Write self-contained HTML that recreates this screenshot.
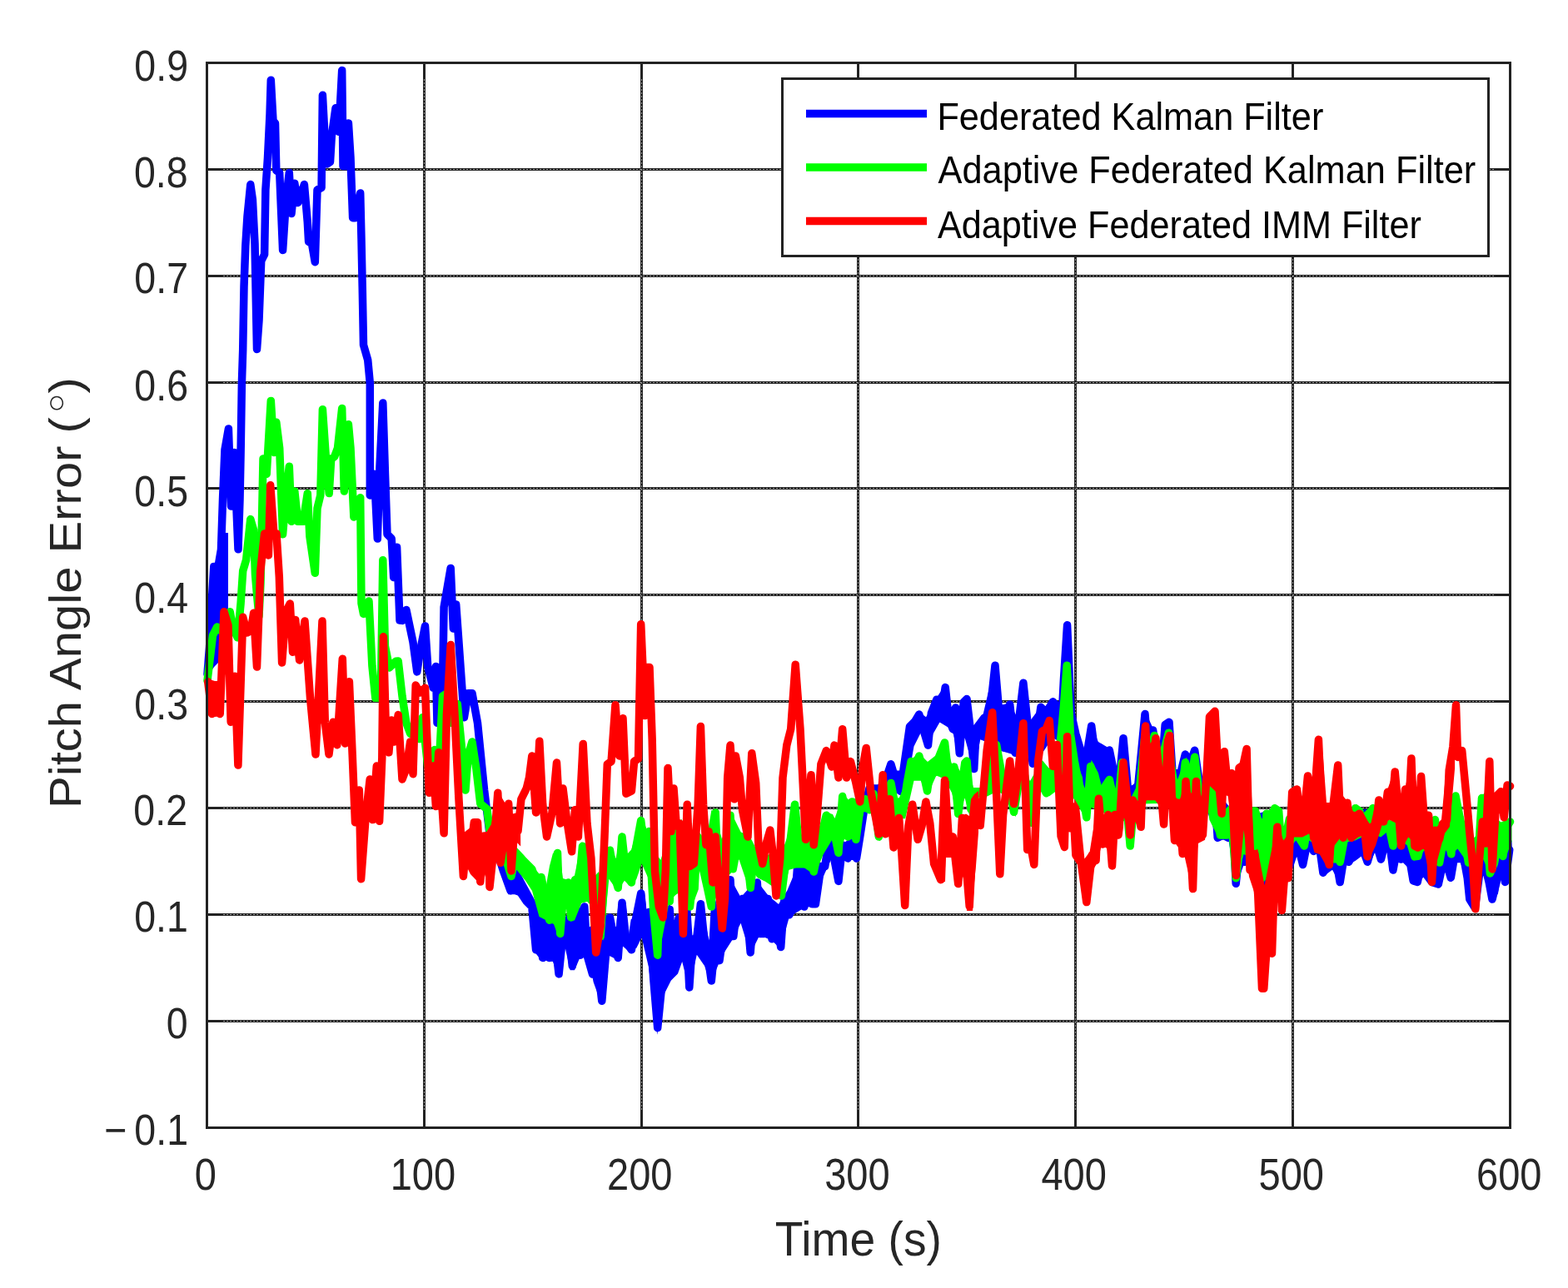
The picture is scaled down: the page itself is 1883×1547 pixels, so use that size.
<!DOCTYPE html>
<html><head><meta charset="utf-8"><style>
html,body{margin:0;padding:0;background:#fff;}
svg{display:block;}
text{font-family:"Liberation Sans",Arial,Helvetica,sans-serif;}
</style></head><body>
<svg width="1883" height="1547" viewBox="0 0 1883 1547">
<rect width="1883" height="1547" fill="#fff"/>
<g stroke="#222" stroke-width="3"><line x1="509.50" y1="75.5" x2="509.50" y2="1354.0"/><line x1="770.50" y1="75.5" x2="770.50" y2="1354.0"/><line x1="1030.50" y1="75.5" x2="1030.50" y2="1354.0"/><line x1="1291.50" y1="75.5" x2="1291.50" y2="1354.0"/><line x1="1552.50" y1="75.5" x2="1552.50" y2="1354.0"/><line x1="248.5" y1="203.50" x2="1813.5" y2="203.50"/><line x1="248.5" y1="331.50" x2="1813.5" y2="331.50"/><line x1="248.5" y1="459.50" x2="1813.5" y2="459.50"/><line x1="248.5" y1="586.50" x2="1813.5" y2="586.50"/><line x1="248.5" y1="714.50" x2="1813.5" y2="714.50"/><line x1="248.5" y1="842.50" x2="1813.5" y2="842.50"/><line x1="248.5" y1="970.50" x2="1813.5" y2="970.50"/><line x1="248.5" y1="1098.50" x2="1813.5" y2="1098.50"/><line x1="248.5" y1="1226.50" x2="1813.5" y2="1226.50"/></g>
<g stroke="#fff" stroke-width="1.1" stroke-dasharray="1.1 2.9"><line x1="509.50" y1="75.5" x2="509.50" y2="1354.0"/><line x1="770.50" y1="75.5" x2="770.50" y2="1354.0"/><line x1="1030.50" y1="75.5" x2="1030.50" y2="1354.0"/><line x1="1291.50" y1="75.5" x2="1291.50" y2="1354.0"/><line x1="1552.50" y1="75.5" x2="1552.50" y2="1354.0"/><line x1="248.5" y1="203.50" x2="1813.5" y2="203.50"/><line x1="248.5" y1="331.50" x2="1813.5" y2="331.50"/><line x1="248.5" y1="459.50" x2="1813.5" y2="459.50"/><line x1="248.5" y1="586.50" x2="1813.5" y2="586.50"/><line x1="248.5" y1="714.50" x2="1813.5" y2="714.50"/><line x1="248.5" y1="842.50" x2="1813.5" y2="842.50"/><line x1="248.5" y1="970.50" x2="1813.5" y2="970.50"/><line x1="248.5" y1="1098.50" x2="1813.5" y2="1098.50"/><line x1="248.5" y1="1226.50" x2="1813.5" y2="1226.50"/></g>
<path d="M248.50,1354.0V1334.5M248.50,75.5V95.0M509.50,1354.0V1334.5M509.50,75.5V95.0M770.50,1354.0V1334.5M770.50,75.5V95.0M1030.50,1354.0V1334.5M1030.50,75.5V95.0M1291.50,1354.0V1334.5M1291.50,75.5V95.0M1552.50,1354.0V1334.5M1552.50,75.5V95.0M1813.50,1354.0V1334.5M1813.50,75.5V95.0M248.5,75.50H268.0M1813.5,75.50H1794.0M248.5,203.50H268.0M1813.5,203.50H1794.0M248.5,331.50H268.0M1813.5,331.50H1794.0M248.5,459.50H268.0M1813.5,459.50H1794.0M248.5,586.50H268.0M1813.5,586.50H1794.0M248.5,714.50H268.0M1813.5,714.50H1794.0M248.5,842.50H268.0M1813.5,842.50H1794.0M248.5,970.50H268.0M1813.5,970.50H1794.0M248.5,1098.50H268.0M1813.5,1098.50H1794.0M248.5,1226.50H268.0M1813.5,1226.50H1794.0M248.5,1354.50H268.0M1813.5,1354.50H1794.0" stroke="#222" stroke-width="3" fill="none"/>
<g stroke-linejoin="round" stroke-linecap="round" stroke-width="9.5">
<polygon fill="#0000ff" stroke="none" points="249,777.5 250,758.3 251,738.4 252,719.4 253,702.5 254,685.6 255,680.5 256,680.5 257,680.5 258,680.5 259,680.5 260,677.6 261,671.7 262,665.9 263,660.0 264,630.0 265,600.0 266,576.0 267,552.0 268,537.2 269,531.5 270,525.8 271,520.1 272,515.9 273,515.9 274,515.9 275,515.9 276,515.9 277,518.0 278,548.0 279,544.7 280,544.7 281,544.7 282,544.7 283,544.7 284,546.1 285,573.0 286,574.3 287,517.7 288,456.9 289,426.2 290,373.5 291,330.8 292,303.5 293,284.1 294,268.0 295,254.9 296,244.8 297,234.7 298,224.6 299,222.1 300,222.1 301,222.1 302,222.1 303,222.1 304,226.6 305,233.6 306,242.0 307,262.3 308,282.6 309,318.1 310,345.2 311,318.7 312,311.8 313,309.8 314,307.9 315,305.9 316,251.9 317,219.1 318,204.2 319,189.3 320,168.6 321,147.9 322,121.7 323,97.8 324,97.8 325,97.8 326,97.8 327,97.8 328,99.8 329,118.0 330,136.2 331,145.8 332,146.9 333,148.0 334,191.7 335,205.3 336,205.9 337,206.6 338,207.3 339,226.5 340,250.4 341,240.1 342,231.5 343,222.9 344,214.3 345,207.8 346,207.8 347,207.8 348,207.8 349,207.8 350,211.0 351,223.2 352,220.8 353,220.8 354,220.8 355,220.8 356,220.8 357,224.5 358,230.5 359,232.7 360,229.9 361,227.0 362,224.2 363,222.0 364,222.0 365,222.0 366,222.0 367,222.0 368,222.8 369,234.4 370,246.0 371,257.6 372,270.5 373,288.4 374,290.8 375,291.4 376,292.1 377,276.2 378,244.1 379,227.8 380,227.3 381,226.8 382,226.3 383,225.8 384,191.3 385,116.2 386,116.2 387,116.2 388,116.2 389,116.2 390,116.2 391,135.1 392,154.0 393,169.9 394,182.8 395,177.2 396,162.0 397,154.8 398,147.7 399,140.5 400,133.4 401,129.8 402,129.8 403,129.8 404,129.8 405,129.8 406,126.2 407,107.3 408,88.4 409,88.4 410,88.4 411,88.4 412,88.4 413,88.4 414,155.4 415,160.1 416,149.5 417,149.5 418,149.5 419,149.5 420,149.5 421,149.5 422,165.4 423,181.3 424,203.2 425,231.1 426,251.2 427,246.6 428,242.1 429,237.5 430,232.9 431,232.9 432,232.9 433,232.9 434,232.9 435,232.9 436,266.2 437,311.3 438,360.6 439,414.3 440,417.8 441,421.3 442,424.7 443,428.2 444,431.7 445,440.9 446,451.5 447,569.3 448,569.3 449,569.3 450,569.3 451,569.3 452,569.3 453,576.1 454,550.0 455,530.0 456,510.0 457,490.0 458,485.0 459,485.0 460,485.0 461,485.0 462,485.0 463,506.3 464,538.1 465,570.0 466,598.7 467,627.4 468,642.2 469,643.2 470,644.2 471,645.2 472,646.2 473,652.5 474,658.1 475,658.1 476,658.1 477,658.1 478,658.1 479,658.1 480,680.4 481,706.3 482,732.1 483,738.8 484,736.2 485,733.6 486,732.9 487,732.9 488,732.9 489,732.9 490,732.9 491,735.4 492,740.2 493,745.0 494,749.7 495,754.5 496,759.3 497,764.1 498,768.9 499,775.0 500,782.4 501,789.0 502,782.3 503,777.0 504,772.0 505,767.0 506,762.0 507,757.0 508,752.0 509,752.0 510,752.0 511,752.0 512,752.0 513,752.0 514,767.1 515,782.2 516,797.4 517,803.6 518,807.5 519,811.5 520,807.7 521,801.6 522,801.6 523,801.6 524,801.6 525,801.6 526,804.6 527,839.2 528,832.7 529,826.2 530,765.6 531,727.0 532,721.2 533,715.4 534,709.6 535,703.8 536,698.0 537,692.2 538,686.5 539,683.5 540,683.5 541,683.5 542,683.5 543,683.5 544,689.2 545,711.9 546,726.7 547,726.7 548,726.7 549,726.7 550,726.7 551,737.2 552,751.2 553,765.2 554,779.2 555,793.2 556,807.2 557,821.2 558,835.2 559,836.9 560,832.7 561,832.7 562,832.7 563,832.7 564,832.7 565,832.7 566,832.7 567,832.7 568,832.7 569,832.7 570,835.4 571,840.9 572,846.4 573,851.9 574,857.3 575,862.8 576,868.3 577,878.3 578,888.2 579,898.2 580,908.2 581,918.1 582,928.1 583,938.0 584,948.0 585,956.3 586,964.4 587,972.5 588,980.6 589,988.7 590,996.8 591,1002.1 592,1004.6 593,1007.2 594,1009.8 595,1012.3 596,1014.9 597,1017.4 598,1020.0 599,1022.6 600,1025.1 601,1027.7 602,1030.3 603,1033.5 604,1036.6 605,1039.8 606,1042.9 607,1046.1 608,1048.9 609,1051.7 610,1054.5 611,1057.2 612,1060.0 613,1062.8 614,1062.6 615,1060.6 616,1058.5 617,1057.0 618,1057.0 619,1057.0 620,1057.0 621,1057.0 622,1057.0 623,1059.5 624,1062.0 625,1064.5 626,1067.0 627,1069.5 628,1072.0 629,1073.9 630,1075.4 631,1076.9 632,1078.4 633,1079.9 634,1081.4 635,1082.8 636,1083.8 637,1084.8 638,1085.8 639,1086.7 640,1087.7 641,1088.7 642,1096.6 643,1107.3 644,1118.1 645,1117.6 646,1111.7 647,1111.7 648,1111.7 649,1111.7 650,1111.7 651,1111.7 652,1123.8 653,1123.0 654,1115.7 655,1115.7 656,1115.7 657,1115.7 658,1115.7 659,1115.7 660,1125.0 661,1120.6 662,1112.5 663,1112.5 664,1112.5 665,1112.5 666,1112.5 667,1112.5 668,1119.8 669,1128.7 670,1137.7 671,1146.1 672,1136.2 673,1126.4 674,1120.9 675,1119.9 676,1118.9 677,1117.9 678,1116.9 679,1115.9 680,1115.2 681,1115.2 682,1115.2 683,1115.2 684,1115.2 685,1115.9 686,1125.1 687,1134.4 688,1138.7 689,1132.0 690,1128.6 691,1128.6 692,1128.6 693,1128.6 694,1128.6 695,1129.6 696,1129.0 697,1116.9 698,1104.8 699,1092.6 700,1089.6 701,1089.6 702,1089.6 703,1089.6 704,1089.6 705,1101.7 706,1119.9 707,1138.1 708,1149.0 709,1152.5 710,1156.0 711,1159.5 712,1156.0 713,1151.4 714,1147.9 715,1147.9 716,1147.9 717,1147.9 718,1147.9 719,1148.1 720,1156.7 721,1165.2 722,1173.8 723,1170.1 724,1158.3 725,1146.4 726,1137.0 727,1128.3 728,1119.5 729,1110.8 730,1102.0 731,1102.0 732,1102.0 733,1102.0 734,1102.0 735,1102.0 736,1107.3 737,1112.6 738,1117.9 739,1123.2 740,1128.5 741,1132.5 742,1118.7 743,1104.9 744,1091.1 745,1084.2 746,1084.2 747,1084.2 748,1084.2 749,1084.2 750,1089.0 751,1098.5 752,1108.1 753,1117.6 754,1127.2 755,1131.9 756,1133.4 757,1132.6 758,1125.2 759,1117.8 760,1110.4 761,1103.7 762,1098.7 763,1093.8 764,1088.8 765,1083.8 766,1078.9 767,1073.9 768,1073.4 769,1073.4 770,1073.4 771,1073.4 772,1073.4 773,1081.0 774,1091.1 775,1101.2 776,1100.3 777,1096.3 778,1096.3 779,1096.3 780,1096.3 781,1096.3 782,1097.0 783,1112.0 784,1126.9 785,1141.9 786,1156.8 787,1171.8 788,1184.6 789,1196.5 790,1206.2 791,1196.1 792,1186.0 793,1180.7 794,1175.5 795,1170.2 796,1164.9 797,1158.8 798,1144.6 799,1130.5 800,1116.3 801,1102.2 802,1093.1 803,1093.1 804,1093.1 805,1093.1 806,1093.1 807,1096.9 808,1112.4 809,1127.5 810,1114.2 811,1110.1 812,1106.1 813,1102.0 814,1102.0 815,1102.0 816,1102.0 817,1102.0 818,1102.0 819,1111.9 820,1116.6 821,1100.4 822,1100.4 823,1100.4 824,1100.4 825,1100.4 826,1100.4 827,1117.5 828,1138.2 829,1131.0 830,1128.0 831,1128.0 832,1128.0 833,1128.0 834,1128.0 835,1120.1 836,1111.3 837,1102.5 838,1093.7 839,1086.8 840,1086.8 841,1086.8 842,1086.8 843,1086.8 844,1086.8 845,1096.7 846,1106.6 847,1116.5 848,1126.4 849,1134.9 850,1137.9 851,1141.0 852,1144.0 853,1151.1 854,1155.6 855,1145.3 856,1135.1 857,1128.3 858,1128.3 859,1128.3 860,1128.3 861,1128.3 862,1129.6 863,1135.0 864,1135.5 865,1128.2 866,1120.9 867,1115.2 868,1110.5 869,1105.8 870,1101.1 871,1096.4 872,1086.1 873,1074.3 874,1062.6 875,1056.7 876,1056.7 877,1056.7 878,1056.7 879,1056.7 880,1065.6 881,1083.5 882,1093.2 883,1088.3 884,1086.8 885,1085.3 886,1083.8 887,1082.4 888,1080.9 889,1079.4 890,1079.4 891,1079.4 892,1079.4 893,1079.4 894,1079.4 895,1081.4 896,1083.3 897,1085.3 898,1087.2 899,1090.1 900,1101.6 901,1113.0 902,1099.6 903,1086.1 904,1076.5 905,1070.6 906,1064.7 907,1060.3 908,1060.3 909,1060.3 910,1060.3 911,1060.3 912,1063.8 913,1083.0 914,1102.2 915,1120.5 916,1111.8 917,1103.0 918,1094.3 919,1085.5 920,1079.9 921,1079.9 922,1079.9 923,1079.9 924,1079.9 925,1082.4 926,1092.5 927,1102.6 928,1105.2 929,1098.7 930,1095.5 931,1095.5 932,1095.5 933,1095.5 934,1095.5 935,1099.2 936,1106.6 937,1112.2 938,1098.1 939,1084.0 940,1083.0 941,1083.0 942,1083.0 943,1083.0 944,1083.0 945,1084.9 946,1087.4 947,1089.9 948,1092.5 949,1090.1 950,1087.6 951,1085.1 952,1082.6 953,1069.4 954,1056.2 955,1043.1 956,1029.9 957,1019.1 958,1019.1 959,1019.1 960,1019.1 961,1019.1 962,1019.1 963,1030.2 964,1041.3 965,1052.4 966,1057.0 967,1045.2 968,1033.4 969,1031.6 970,1031.6 971,1031.6 972,1031.6 973,1031.6 974,1040.1 975,1051.5 976,1063.0 977,1074.4 978,1078.2 979,1071.2 980,1064.2 981,1057.3 982,1050.3 983,1043.4 984,1040.6 985,1040.6 986,1040.6 987,1040.6 988,1040.6 989,1035.3 990,1028.7 991,1022.1 992,1015.6 993,1009.0 994,1008.8 995,1008.8 996,1008.8 997,1008.8 998,1008.8 999,1011.3 1000,1014.7 1001,1018.0 1002,1021.4 1003,1024.9 1004,1030.2 1005,1035.4 1006,1040.6 1007,1034.7 1008,1025.6 1009,1016.5 1010,1014.8 1011,1014.8 1012,1014.8 1013,1014.8 1014,1014.8 1015,1016.7 1016,1019.2 1017,1021.7 1018,1024.2 1019,1024.3 1020,1022.3 1021,1020.2 1022,1018.2 1023,1018.2 1024,1018.2 1025,1018.2 1026,1018.2 1027,1018.2 1028,1018.6 1029,1012.4 1030,1006.2 1031,999.7 1032,993.1 1033,986.5 1034,980.0 1035,973.4 1036,969.1 1037,965.0 1038,961.0 1039,957.0 1040,952.9 1041,948.9 1042,946.9 1043,946.9 1044,946.9 1045,946.9 1046,946.9 1047,946.9 1048,946.9 1049,946.9 1050,946.9 1051,946.9 1052,946.9 1053,946.9 1054,946.9 1055,946.1 1056,944.6 1057,943.1 1058,941.6 1059,940.1 1060,938.6 1061,936.9 1062,933.9 1063,930.9 1064,927.9 1065,925.0 1066,922.0 1067,919.0 1068,918.1 1069,918.1 1070,918.1 1071,918.1 1072,918.1 1073,919.8 1074,923.2 1075,926.6 1076,929.9 1077,933.3 1078,936.0 1079,938.4 1080,940.9 1081,934.6 1082,927.9 1083,921.2 1084,914.3 1085,907.3 1086,900.4 1087,893.4 1088,886.4 1089,879.5 1090,872.5 1091,871.5 1092,870.5 1093,869.5 1094,868.5 1095,867.5 1096,866.5 1097,865.2 1098,863.5 1099,861.8 1100,860.2 1101,858.5 1102,858.1 1103,858.1 1104,858.1 1105,858.1 1106,858.1 1107,860.5 1108,864.1 1109,867.8 1110,871.4 1111,875.0 1112,878.4 1113,881.7 1114,875.3 1115,865.3 1116,856.1 1117,853.6 1118,851.1 1119,848.6 1120,846.0 1121,843.5 1122,841.0 1123,840.3 1124,840.3 1125,840.3 1126,840.3 1127,840.3 1128,843.4 1129,848.0 1130,843.9 1131,837.1 1132,830.3 1133,826.0 1134,826.0 1135,826.0 1136,826.0 1137,826.0 1138,828.3 1139,837.1 1140,846.0 1141,854.8 1142,863.1 1143,865.5 1144,857.7 1145,849.9 1146,849.9 1147,849.9 1148,849.9 1149,849.9 1150,849.9 1151,861.3 1152,872.8 1153,864.7 1154,852.2 1155,843.1 1156,842.1 1157,841.1 1158,840.1 1159,839.6 1160,839.6 1161,839.6 1162,839.6 1163,839.6 1164,843.9 1165,852.5 1166,861.0 1167,869.6 1168,878.2 1169,888.2 1170,874.8 1171,873.5 1172,872.2 1173,870.8 1174,869.5 1175,868.2 1176,866.9 1177,865.5 1178,864.2 1179,862.9 1180,862.0 1181,861.5 1182,861.0 1183,860.5 1184,860.0 1185,859.5 1186,859.0 1187,849.8 1188,840.6 1189,831.4 1190,822.2 1191,813.0 1192,803.8 1193,799.2 1194,799.2 1195,799.2 1196,799.2 1197,799.2 1198,805.1 1199,816.9 1200,828.6 1201,840.4 1202,852.2 1203,861.8 1204,870.6 1205,860.8 1206,854.5 1207,852.5 1208,850.4 1209,848.4 1210,846.4 1211,846.4 1212,846.4 1213,846.4 1214,846.4 1215,846.4 1216,853.2 1217,862.1 1218,871.1 1219,880.0 1220,875.1 1221,866.3 1222,857.5 1223,848.9 1224,840.5 1225,832.0 1226,823.6 1227,821.1 1228,821.1 1229,821.1 1230,821.1 1231,821.1 1232,825.8 1233,835.3 1234,844.7 1235,854.1 1236,863.5 1237,871.8 1238,879.7 1239,887.7 1240,895.7 1241,894.1 1242,887.1 1243,880.1 1244,873.1 1245,866.1 1246,859.1 1247,852.1 1248,849.4 1249,849.4 1250,849.4 1251,849.4 1252,849.4 1253,849.9 1254,850.9 1255,851.9 1256,852.3 1257,850.7 1258,849.1 1259,847.5 1260,845.9 1261,844.3 1262,842.9 1263,842.9 1264,842.9 1265,842.9 1266,842.9 1267,842.9 1268,843.9 1269,844.9 1270,845.9 1271,846.9 1272,847.9 1273,848.9 1274,834.6 1275,815.4 1276,799.6 1277,783.9 1278,768.1 1279,752.3 1280,752.3 1281,752.3 1282,752.3 1283,752.3 1284,752.3 1285,771.7 1286,795.0 1287,818.4 1288,841.7 1289,857.5 1290,862.0 1291,866.4 1292,870.9 1293,875.3 1294,879.8 1295,883.6 1296,886.9 1297,890.2 1298,893.5 1299,896.8 1300,903.0 1301,910.4 1302,912.3 1303,905.0 1304,897.8 1305,891.6 1306,885.5 1307,879.3 1308,873.1 1309,872.3 1310,872.3 1311,872.3 1312,872.3 1313,872.3 1314,878.1 1315,885.9 1316,893.7 1317,901.5 1318,899.4 1319,897.8 1320,897.8 1321,897.8 1322,897.8 1323,897.8 1324,901.2 1325,907.9 1326,914.6 1327,913.5 1328,909.0 1329,904.6 1330,901.2 1331,901.2 1332,901.2 1333,901.2 1334,901.2 1335,902.0 1336,907.0 1337,911.9 1338,916.9 1339,921.9 1340,926.8 1341,931.8 1342,935.2 1343,924.4 1344,913.6 1345,902.9 1346,892.1 1347,886.7 1348,886.7 1349,886.7 1350,886.7 1351,886.7 1352,892.3 1353,903.5 1354,914.7 1355,925.9 1356,937.1 1357,949.8 1358,962.4 1359,955.0 1360,950.3 1361,948.3 1362,946.4 1363,944.4 1364,942.4 1365,935.4 1366,925.0 1367,914.6 1368,904.3 1369,893.9 1370,883.5 1371,873.2 1372,862.8 1373,857.6 1374,857.6 1375,857.6 1376,857.6 1377,857.6 1378,863.6 1379,875.8 1380,887.9 1381,885.9 1382,877.8 1383,877.8 1384,877.8 1385,877.8 1386,877.8 1387,877.8 1388,882.9 1389,889.5 1390,896.1 1391,902.7 1392,909.3 1393,914.7 1394,906.1 1395,892.9 1396,879.7 1397,870.3 1398,869.6 1399,869.0 1400,868.3 1401,867.6 1402,867.3 1403,867.3 1404,867.3 1405,867.3 1406,867.3 1407,874.9 1408,890.0 1409,905.2 1410,920.4 1411,929.2 1412,928.7 1413,928.7 1414,928.7 1415,928.7 1416,925.9 1417,921.8 1418,917.8 1419,913.7 1420,909.7 1421,906.3 1422,906.3 1423,906.3 1424,906.3 1425,906.3 1426,906.3 1427,908.9 1428,911.6 1429,910.1 1430,907.3 1431,904.5 1432,901.8 1433,901.5 1434,901.5 1435,901.5 1436,901.5 1437,901.5 1438,906.7 1439,913.7 1440,920.6 1441,927.5 1442,934.4 1443,938.7 1444,942.8 1445,946.8 1446,950.9 1447,950.6 1448,947.6 1449,944.6 1450,941.6 1451,941.6 1452,941.6 1453,941.6 1454,941.6 1455,941.6 1456,943.6 1457,945.6 1458,947.6 1459,949.5 1460,951.5 1461,953.5 1462,962.6 1463,978.7 1464,994.9 1465,1003.6 1466,1003.1 1467,1003.0 1468,1003.0 1469,1003.0 1470,1003.0 1471,1003.0 1472,1003.4 1473,1003.6 1474,997.0 1475,990.4 1476,983.9 1477,977.3 1478,974.0 1479,974.0 1480,974.0 1481,974.0 1482,974.0 1483,984.4 1484,1005.1 1485,1025.9 1486,1022.7 1487,1022.7 1488,1022.7 1489,1022.7 1490,1022.7 1491,1023.2 1492,1025.2 1493,1027.2 1494,1023.4 1495,1017.5 1496,1011.5 1497,1006.9 1498,1006.9 1499,1006.9 1500,1006.9 1501,1006.9 1502,1006.9 1503,1014.4 1504,1021.8 1505,1027.0 1506,1022.6 1507,1018.1 1508,1013.6 1509,1013.2 1510,1013.2 1511,1013.2 1512,1013.2 1513,1013.2 1514,1020.2 1515,1029.7 1516,1039.1 1517,1048.6 1518,1058.0 1519,1060.3 1520,1062.7 1521,1057.7 1522,1052.4 1523,1047.1 1524,1043.2 1525,1040.2 1526,1037.1 1527,1034.1 1528,1031.1 1529,1028.0 1530,1025.8 1531,1025.8 1532,1025.8 1533,1025.8 1534,1025.8 1535,1026.2 1536,1029.0 1537,1031.8 1538,1034.6 1539,1037.4 1540,1040.2 1541,1043.0 1542,1045.8 1543,1045.7 1544,1045.2 1545,1043.2 1546,1040.2 1547,1037.1 1548,1034.1 1549,1031.1 1550,1028.0 1551,1025.1 1552,1022.4 1553,1019.8 1554,1017.2 1555,1014.5 1556,1012.9 1557,1012.9 1558,1012.9 1559,1012.9 1560,1012.9 1561,1013.9 1562,1018.0 1563,1022.0 1564,1026.1 1565,1024.1 1566,1019.2 1567,1014.2 1568,1009.2 1569,1006.6 1570,1006.6 1571,1006.6 1572,1006.6 1573,1006.6 1574,1007.2 1575,1009.7 1576,1012.2 1577,1014.7 1578,1017.2 1579,1016.5 1580,1015.0 1581,1013.5 1582,1012.7 1583,1012.7 1584,1012.7 1585,1012.7 1586,1012.7 1587,1016.3 1588,1023.6 1589,1030.9 1590,1038.1 1591,1035.8 1592,1035.3 1593,1035.3 1594,1035.3 1595,1035.3 1596,1035.3 1597,1035.8 1598,1033.5 1599,1030.7 1600,1028.0 1601,1026.0 1602,1026.0 1603,1026.0 1604,1026.0 1605,1026.0 1606,1026.2 1607,1032.0 1608,1037.9 1609,1043.8 1610,1039.2 1611,1033.0 1612,1026.8 1613,1025.7 1614,1025.7 1615,1025.7 1616,1025.7 1617,1025.7 1618,1027.2 1619,1029.2 1620,1030.9 1621,1029.4 1622,1027.9 1623,1026.4 1624,1024.6 1625,1022.6 1626,1020.6 1627,1018.7 1628,1016.7 1629,1014.7 1630,1012.7 1631,1012.7 1632,1012.7 1633,1012.7 1634,1012.7 1635,1012.7 1636,1014.7 1637,1016.7 1638,1018.6 1639,1020.6 1640,1022.7 1641,1025.4 1642,1027.3 1643,1023.8 1644,1020.4 1645,1016.9 1646,1013.4 1647,1012.7 1648,1012.7 1649,1012.7 1650,1012.7 1651,1012.7 1652,1013.2 1653,1013.9 1654,1014.6 1655,1015.3 1656,1016.0 1657,1019.3 1658,1022.6 1659,1019.6 1660,1015.5 1661,1012.3 1662,1011.0 1663,1009.6 1664,1008.3 1665,1007.0 1666,1006.3 1667,1006.3 1668,1006.3 1669,1006.3 1670,1006.3 1671,1009.4 1672,1017.5 1673,1025.6 1674,1026.0 1675,1020.8 1676,1019.5 1677,1019.5 1678,1019.5 1679,1019.5 1680,1019.5 1681,1021.1 1682,1023.8 1683,1024.5 1684,1021.8 1685,1019.2 1686,1019.2 1687,1019.2 1688,1019.2 1689,1019.2 1690,1019.2 1691,1022.2 1692,1025.3 1693,1028.3 1694,1031.3 1695,1034.4 1696,1037.4 1697,1042.1 1698,1048.0 1699,1053.9 1700,1058.0 1701,1053.3 1702,1048.6 1703,1043.9 1704,1039.2 1705,1039.0 1706,1039.0 1707,1039.0 1708,1039.0 1709,1039.0 1710,1040.5 1711,1042.5 1712,1044.6 1713,1046.6 1714,1048.6 1715,1050.1 1716,1051.4 1717,1052.7 1718,1054.1 1719,1055.4 1720,1056.7 1721,1058.1 1722,1059.4 1723,1059.7 1724,1060.1 1725,1060.4 1726,1056.5 1727,1052.0 1728,1047.4 1729,1042.8 1730,1038.7 1731,1038.7 1732,1038.7 1733,1038.7 1734,1038.7 1735,1038.7 1736,1038.7 1737,1038.7 1738,1038.7 1739,1038.7 1740,1038.7 1741,1041.7 1742,1041.4 1743,1035.5 1744,1029.6 1745,1025.2 1746,1021.1 1747,1017.0 1748,1013.0 1749,1008.9 1750,1007.9 1751,1007.9 1752,1007.9 1753,1007.9 1754,1007.9 1755,1010.1 1756,1013.6 1757,1017.1 1758,1020.6 1759,1024.1 1760,1028.5 1761,1034.0 1762,1039.5 1763,1045.0 1764,1050.5 1765,1057.3 1766,1067.2 1767,1077.1 1768,1081.2 1769,1082.8 1770,1081.3 1771,1073.6 1772,1065.9 1773,1058.2 1774,1050.5 1775,1042.8 1776,1040.9 1777,1040.4 1778,1039.9 1779,1039.4 1780,1038.9 1781,1038.8 1782,1038.8 1783,1038.8 1784,1038.8 1785,1038.8 1786,1041.1 1787,1045.1 1788,1049.0 1789,1053.0 1790,1057.0 1791,1061.5 1792,1066.8 1793,1065.9 1794,1061.8 1795,1056.8 1796,1050.4 1797,1043.9 1798,1037.4 1799,1031.0 1800,1026.1 1801,1026.1 1802,1026.1 1803,1026.1 1804,1026.1 1805,1027.1 1806,1033.6 1807,1040.0 1808,1037.0 1809,1029.6 1810,1022.1 1811,1022.1 1812,1022.1 1812,1044.5 1811,1051.9 1810,1059.4 1809,1059.4 1808,1059.4 1807,1059.4 1806,1059.4 1805,1059.4 1804,1052.9 1803,1046.5 1802,1043.9 1801,1050.4 1800,1056.8 1799,1061.8 1798,1065.9 1797,1070.0 1796,1074.0 1795,1078.1 1794,1080.1 1793,1080.1 1792,1080.1 1791,1080.1 1790,1080.1 1789,1077.4 1788,1072.1 1787,1066.8 1786,1061.5 1785,1057.0 1784,1053.0 1783,1049.0 1782,1045.1 1781,1041.1 1780,1042.8 1779,1050.5 1778,1058.2 1777,1065.9 1776,1073.6 1775,1081.3 1774,1089.0 1773,1090.4 1772,1090.4 1771,1090.4 1770,1090.4 1769,1090.4 1768,1089.2 1767,1087.6 1766,1086.0 1765,1084.4 1764,1082.8 1763,1081.2 1762,1077.1 1761,1067.2 1760,1057.3 1759,1050.5 1758,1045.0 1757,1039.5 1756,1034.0 1755,1028.5 1754,1024.1 1753,1020.6 1752,1017.1 1751,1021.1 1750,1025.2 1749,1029.6 1748,1035.5 1747,1041.4 1746,1047.2 1745,1053.1 1744,1054.1 1743,1054.1 1742,1054.1 1741,1054.1 1740,1054.1 1739,1051.6 1738,1048.3 1737,1045.0 1736,1041.7 1735,1038.7 1734,1042.8 1733,1047.4 1732,1052.0 1731,1056.5 1730,1061.1 1729,1062.0 1728,1062.0 1727,1062.0 1726,1062.0 1725,1062.0 1724,1061.7 1723,1061.4 1722,1061.1 1721,1060.7 1720,1060.4 1719,1060.1 1718,1059.7 1717,1059.4 1716,1058.1 1715,1056.7 1714,1055.4 1713,1054.1 1712,1052.7 1711,1051.4 1710,1050.1 1709,1048.6 1708,1046.6 1707,1048.6 1706,1053.3 1705,1058.0 1704,1059.3 1703,1059.3 1702,1059.3 1701,1059.3 1700,1059.3 1699,1059.2 1698,1058.9 1697,1058.6 1696,1058.4 1695,1058.1 1694,1053.9 1693,1048.0 1692,1042.1 1691,1037.4 1690,1034.4 1689,1031.3 1688,1028.3 1687,1027.1 1686,1029.7 1685,1031.8 1684,1031.8 1683,1031.8 1682,1031.8 1681,1031.8 1680,1031.8 1679,1029.1 1678,1031.3 1677,1036.6 1676,1041.8 1675,1044.5 1674,1044.5 1673,1044.5 1672,1044.5 1671,1044.5 1670,1041.8 1669,1033.7 1668,1025.6 1667,1017.5 1666,1012.3 1665,1015.5 1664,1019.6 1663,1023.6 1662,1027.7 1661,1031.7 1660,1031.7 1659,1031.7 1658,1031.7 1657,1031.7 1656,1031.7 1655,1029.1 1654,1025.9 1653,1022.6 1652,1019.3 1651,1016.0 1650,1016.9 1649,1020.4 1648,1023.8 1647,1027.3 1646,1030.8 1645,1034.3 1644,1035.1 1643,1035.1 1642,1035.1 1641,1035.1 1640,1035.1 1639,1033.4 1638,1030.7 1637,1028.0 1636,1025.4 1635,1022.7 1634,1020.6 1633,1018.6 1632,1018.7 1631,1020.6 1630,1022.6 1629,1024.6 1628,1026.4 1627,1027.9 1626,1029.4 1625,1030.9 1624,1032.4 1623,1033.9 1622,1035.1 1621,1035.1 1620,1035.1 1619,1035.1 1618,1035.1 1617,1035.1 1616,1033.1 1615,1039.2 1614,1045.4 1613,1051.6 1612,1057.7 1611,1059.3 1610,1059.3 1609,1059.3 1608,1059.3 1607,1059.3 1606,1055.5 1605,1049.6 1604,1043.8 1603,1037.9 1602,1036.2 1601,1038.5 1600,1038.5 1599,1038.5 1598,1038.5 1597,1038.5 1596,1038.5 1595,1038.6 1594,1041.3 1593,1044.0 1592,1046.7 1591,1048.0 1590,1048.0 1589,1048.0 1588,1048.0 1587,1048.0 1586,1045.4 1585,1038.1 1584,1030.9 1583,1023.6 1582,1019.5 1581,1021.0 1580,1022.2 1579,1022.2 1578,1022.2 1577,1022.2 1576,1022.2 1575,1022.2 1574,1019.7 1573,1017.2 1572,1014.7 1571,1019.2 1570,1024.1 1569,1029.1 1568,1034.1 1567,1038.2 1566,1038.2 1565,1038.2 1564,1038.2 1563,1038.2 1562,1038.2 1561,1034.1 1560,1030.1 1559,1026.1 1558,1022.0 1557,1022.4 1556,1025.1 1555,1028.0 1554,1031.1 1553,1034.1 1552,1037.1 1551,1040.2 1550,1043.2 1549,1045.2 1548,1045.7 1547,1046.2 1546,1046.7 1545,1047.2 1544,1047.7 1543,1048.2 1542,1048.2 1541,1048.2 1540,1048.2 1539,1048.2 1538,1048.2 1537,1045.8 1536,1043.0 1535,1040.2 1534,1037.4 1533,1034.6 1532,1034.1 1531,1037.1 1530,1040.2 1529,1043.2 1528,1047.1 1527,1052.4 1526,1057.7 1525,1063.0 1524,1068.3 1523,1070.9 1522,1070.9 1521,1070.9 1520,1070.9 1519,1070.9 1518,1069.7 1517,1067.4 1516,1065.0 1515,1062.7 1514,1060.3 1513,1058.0 1512,1048.6 1511,1039.1 1510,1029.7 1509,1031.5 1508,1036.0 1507,1040.5 1506,1041.6 1505,1041.6 1504,1041.6 1503,1041.6 1502,1041.6 1501,1036.6 1500,1029.2 1499,1023.4 1498,1029.4 1497,1035.3 1496,1035.3 1495,1035.3 1494,1035.3 1493,1035.3 1492,1035.3 1491,1033.3 1490,1031.3 1489,1038.3 1488,1048.3 1487,1058.2 1486,1060.7 1485,1060.7 1484,1060.7 1483,1060.7 1482,1060.7 1481,1046.7 1480,1025.9 1479,1005.1 1478,1003.6 1477,1006.1 1476,1006.1 1475,1006.1 1474,1006.1 1473,1006.1 1472,1005.9 1471,1005.4 1470,1004.9 1469,1004.4 1468,1004.6 1467,1005.1 1466,1005.6 1465,1006.1 1464,1006.2 1463,1006.2 1462,1006.2 1461,1006.2 1460,1006.2 1459,994.9 1458,978.7 1457,962.6 1456,953.5 1455,951.5 1454,949.5 1453,947.6 1452,950.6 1451,953.5 1450,956.5 1449,959.5 1448,961.0 1447,961.0 1446,961.0 1445,961.0 1444,961.0 1443,959.0 1442,954.9 1441,950.9 1440,946.8 1439,942.8 1438,938.7 1437,934.4 1436,927.5 1435,920.6 1434,913.7 1433,912.9 1432,915.7 1431,918.4 1430,918.9 1429,918.9 1428,918.9 1427,918.9 1426,918.9 1425,916.9 1424,914.2 1423,917.8 1422,921.8 1421,925.9 1420,930.0 1419,932.0 1418,932.0 1417,932.0 1416,932.0 1415,932.0 1414,934.6 1413,937.3 1412,940.0 1411,941.3 1410,941.3 1409,941.3 1408,941.3 1407,941.3 1406,935.5 1405,920.4 1404,905.2 1403,890.0 1402,874.9 1401,879.7 1400,892.9 1399,906.1 1398,919.3 1397,932.5 1396,934.8 1395,934.8 1394,934.8 1393,934.8 1392,934.8 1391,930.8 1390,925.4 1389,920.0 1388,914.7 1387,909.3 1386,902.7 1385,896.1 1384,902.0 1383,910.1 1382,915.1 1381,915.1 1380,915.1 1379,915.1 1378,915.1 1377,912.1 1376,900.0 1375,887.9 1374,893.9 1373,904.3 1372,914.6 1371,925.0 1370,935.4 1369,942.4 1368,944.4 1367,946.4 1366,948.3 1365,950.3 1364,955.0 1363,962.4 1362,969.8 1361,977.2 1360,984.6 1359,986.4 1358,986.4 1357,986.4 1356,986.4 1355,986.4 1354,977.2 1353,963.5 1352,949.8 1351,937.1 1350,925.9 1349,914.7 1348,924.4 1347,935.2 1346,945.9 1345,951.3 1344,951.3 1343,951.3 1342,951.3 1341,951.3 1340,949.2 1339,944.9 1338,940.6 1337,936.3 1336,931.8 1335,926.8 1334,921.9 1333,916.9 1332,913.5 1331,918.0 1330,922.4 1329,926.9 1328,929.7 1327,929.7 1326,929.7 1325,929.7 1324,929.7 1323,928.0 1322,921.3 1321,914.6 1320,909.3 1319,912.6 1318,913.4 1317,913.4 1316,913.4 1315,913.4 1314,913.4 1313,909.2 1312,901.5 1311,893.7 1310,891.6 1309,897.8 1308,905.0 1307,912.3 1306,919.5 1305,926.8 1304,932.6 1303,932.6 1302,932.6 1301,932.6 1300,932.6 1299,932.6 1298,925.2 1297,917.8 1296,910.4 1295,903.0 1294,896.8 1293,893.5 1292,890.2 1291,886.9 1290,883.6 1289,879.8 1288,875.3 1287,870.9 1286,866.4 1285,862.0 1284,857.5 1283,841.7 1282,818.4 1281,799.6 1280,815.4 1279,834.6 1278,854.2 1277,873.8 1276,880.6 1275,880.6 1274,880.6 1273,880.6 1272,880.6 1271,875.5 1270,865.4 1269,855.4 1268,848.9 1267,847.9 1266,846.9 1265,845.9 1264,847.5 1263,849.1 1262,850.7 1261,852.3 1260,853.9 1259,855.5 1258,855.6 1257,855.6 1256,855.6 1255,855.6 1254,855.6 1253,854.8 1252,853.8 1251,859.1 1250,866.1 1249,873.1 1248,880.1 1247,887.1 1246,894.1 1245,901.1 1244,908.1 1243,915.1 1242,916.9 1241,916.9 1240,916.9 1239,916.9 1238,916.9 1237,911.6 1236,903.7 1235,895.7 1234,887.7 1233,879.7 1232,871.8 1231,863.5 1230,854.1 1229,844.7 1228,848.9 1227,857.5 1226,866.3 1225,875.1 1224,883.9 1223,892.7 1222,901.6 1221,903.8 1220,903.8 1219,903.8 1218,903.8 1217,903.8 1216,897.9 1215,889.0 1214,880.0 1213,871.1 1212,862.1 1211,854.5 1210,860.8 1209,873.6 1208,886.3 1207,896.9 1206,896.9 1205,896.9 1204,896.9 1203,896.9 1202,896.9 1201,888.2 1200,879.4 1199,870.6 1198,861.8 1197,852.2 1196,840.4 1195,828.6 1194,831.4 1193,840.6 1192,849.8 1191,859.0 1190,859.5 1189,860.0 1188,860.5 1187,861.0 1186,861.5 1185,862.0 1184,862.9 1183,864.2 1182,865.5 1181,866.9 1180,868.2 1179,869.5 1178,870.8 1177,872.2 1176,873.5 1175,874.8 1174,890.0 1173,908.7 1172,922.7 1171,922.7 1170,922.7 1169,922.7 1168,922.7 1167,921.4 1166,910.3 1165,899.3 1164,888.2 1163,878.2 1162,869.6 1161,861.0 1160,852.5 1159,852.2 1158,864.7 1157,877.2 1156,889.8 1155,902.3 1154,904.2 1153,904.2 1152,904.2 1151,904.2 1150,904.2 1149,895.6 1148,884.2 1147,873.4 1146,875.3 1145,875.3 1144,875.3 1143,875.3 1142,875.3 1141,873.8 1140,871.1 1139,868.4 1138,865.8 1137,863.1 1136,854.8 1135,846.0 1134,850.6 1133,857.4 1132,862.5 1131,862.5 1130,862.5 1129,862.5 1128,862.5 1127,861.9 1126,857.3 1125,852.7 1124,848.6 1123,851.1 1122,853.6 1121,856.1 1120,865.3 1119,875.3 1118,885.2 1117,895.1 1116,895.1 1115,895.1 1114,895.1 1113,895.1 1112,895.1 1111,891.8 1110,888.4 1109,885.1 1108,881.7 1107,878.4 1106,875.0 1105,871.4 1104,867.8 1103,864.1 1102,865.2 1101,866.5 1100,867.5 1099,868.5 1098,869.5 1097,870.5 1096,871.5 1095,872.5 1094,879.5 1093,886.4 1092,893.4 1091,900.4 1090,907.3 1089,914.3 1088,921.2 1087,927.9 1086,934.6 1085,941.3 1084,948.0 1083,949.7 1082,949.7 1081,949.7 1080,949.7 1079,949.7 1078,948.3 1077,945.8 1076,943.4 1075,940.9 1074,938.4 1073,936.0 1072,933.3 1071,929.9 1070,926.6 1069,927.9 1068,930.9 1067,933.9 1066,936.9 1065,938.6 1064,940.1 1063,941.6 1062,943.1 1061,944.6 1060,946.1 1059,946.9 1058,946.9 1057,946.9 1056,946.9 1055,946.9 1054,946.9 1053,946.9 1052,946.9 1051,946.9 1050,946.9 1049,946.9 1048,946.9 1047,946.9 1046,948.9 1045,952.9 1044,957.0 1043,961.0 1042,965.0 1041,969.1 1040,973.4 1039,980.0 1038,986.5 1037,993.1 1036,999.7 1035,1006.2 1034,1012.4 1033,1018.6 1032,1024.8 1031,1031.0 1030,1031.0 1029,1031.0 1028,1031.0 1027,1031.0 1026,1031.0 1025,1027.7 1024,1024.3 1023,1026.3 1022,1028.4 1021,1030.4 1020,1030.9 1019,1030.9 1018,1030.9 1017,1030.9 1016,1030.9 1015,1029.2 1014,1026.7 1013,1025.6 1012,1034.7 1011,1043.8 1010,1052.9 1009,1057.6 1008,1057.6 1007,1057.6 1006,1057.6 1005,1057.6 1004,1056.3 1003,1051.1 1002,1045.8 1001,1040.6 1000,1035.4 999,1030.2 998,1024.9 997,1021.4 996,1022.1 995,1028.7 994,1035.3 993,1040.6 992,1040.6 991,1040.6 990,1040.6 989,1040.6 988,1043.4 987,1050.3 986,1057.3 985,1064.2 984,1071.2 983,1078.2 982,1085.1 981,1085.8 980,1085.8 979,1085.8 978,1085.8 977,1085.8 976,1085.8 975,1085.8 974,1085.8 973,1085.8 972,1074.4 971,1063.0 970,1068.9 969,1080.7 968,1088.4 967,1088.4 966,1088.4 965,1088.4 964,1088.4 963,1085.7 962,1074.6 961,1063.5 960,1052.4 959,1056.2 958,1069.4 957,1082.6 956,1085.1 955,1087.6 954,1090.1 953,1092.6 952,1095.1 951,1097.6 950,1098.8 949,1098.8 948,1098.8 947,1098.8 946,1098.8 945,1097.5 944,1095.0 943,1098.1 942,1112.2 941,1126.2 940,1136.8 939,1136.8 938,1136.8 937,1136.8 936,1136.8 935,1136.0 934,1128.7 933,1121.3 932,1113.9 931,1118.1 930,1124.6 929,1127.8 928,1127.8 927,1127.8 926,1127.8 925,1127.8 924,1122.8 923,1112.7 922,1103.0 921,1111.8 920,1120.5 919,1121.4 918,1121.4 917,1121.4 916,1121.4 915,1121.4 914,1121.4 913,1121.4 912,1121.4 911,1121.4 910,1121.4 909,1102.2 908,1086.1 907,1099.6 906,1113.0 905,1126.5 904,1140.0 903,1143.3 902,1143.3 901,1143.3 900,1143.3 899,1143.3 898,1136.0 897,1124.5 896,1113.1 895,1101.6 894,1090.1 893,1087.2 892,1085.3 891,1083.8 890,1085.3 889,1086.8 888,1088.3 887,1093.2 886,1101.7 885,1110.2 884,1118.7 883,1123.7 882,1123.7 881,1123.7 880,1123.7 879,1123.7 878,1119.2 877,1101.4 876,1096.4 875,1101.1 874,1105.8 873,1110.5 872,1115.2 871,1120.9 870,1128.2 869,1135.5 868,1142.8 867,1150.1 866,1153.7 865,1153.7 864,1153.7 863,1153.7 862,1153.7 861,1151.0 860,1145.7 859,1155.6 858,1165.8 857,1176.0 856,1177.6 855,1177.6 854,1177.6 853,1177.6 852,1177.6 851,1172.3 850,1165.2 849,1158.2 848,1151.1 847,1144.0 846,1141.0 845,1137.9 844,1134.9 843,1126.4 842,1116.5 841,1111.3 840,1120.1 839,1128.0 838,1128.0 837,1128.0 836,1128.0 835,1128.0 834,1131.0 833,1145.8 832,1160.7 831,1175.6 830,1185.0 829,1185.0 828,1185.0 827,1185.0 826,1185.0 825,1179.8 824,1159.0 823,1148.9 822,1149.0 821,1149.0 820,1149.0 819,1149.0 818,1149.0 817,1141.6 816,1131.7 815,1121.8 814,1127.5 813,1143.1 812,1158.8 811,1166.6 810,1166.6 809,1166.6 808,1166.6 807,1166.6 806,1158.9 805,1143.4 804,1130.5 803,1144.6 802,1158.8 801,1164.9 800,1170.2 799,1175.5 798,1180.7 797,1186.0 796,1196.1 795,1206.2 794,1216.3 793,1226.4 792,1234.0 791,1234.0 790,1234.0 789,1234.0 788,1234.0 787,1232.1 786,1220.2 785,1208.4 784,1196.5 783,1184.6 782,1171.8 781,1156.8 780,1141.9 779,1126.9 778,1116.1 777,1121.4 776,1121.4 775,1121.4 774,1121.4 773,1121.4 772,1121.4 771,1111.3 770,1101.2 769,1091.1 768,1093.8 767,1098.7 766,1103.7 765,1110.4 764,1117.8 763,1125.2 762,1132.6 761,1140.1 760,1140.6 759,1140.6 758,1140.6 757,1140.6 756,1140.6 755,1139.4 754,1137.9 753,1136.4 752,1134.9 751,1133.4 750,1131.9 749,1127.2 748,1117.6 747,1118.7 746,1132.5 745,1146.4 744,1149.8 743,1149.8 742,1149.8 741,1149.8 740,1149.8 739,1147.2 738,1142.5 737,1137.8 736,1133.2 735,1128.5 734,1123.2 733,1119.5 732,1128.3 731,1137.0 730,1146.4 729,1158.3 728,1170.1 727,1182.0 726,1193.9 725,1201.8 724,1201.8 723,1201.8 722,1201.8 721,1201.8 720,1199.6 719,1191.0 718,1182.4 717,1173.8 716,1165.2 715,1165.3 714,1170.0 713,1170.0 712,1170.0 711,1170.0 710,1170.0 709,1170.0 708,1166.5 707,1163.0 706,1159.5 705,1156.0 704,1152.5 703,1149.0 702,1138.1 701,1129.0 700,1141.1 699,1147.2 698,1147.2 697,1147.2 696,1147.2 695,1147.2 694,1145.2 693,1141.3 692,1145.4 691,1152.2 690,1158.9 689,1159.7 688,1159.7 687,1159.7 686,1159.7 685,1159.7 684,1152.8 683,1143.6 682,1134.4 681,1125.1 680,1119.9 679,1120.9 678,1126.4 677,1136.2 676,1146.1 675,1156.0 674,1165.9 673,1169.0 672,1169.0 671,1169.0 670,1169.0 669,1169.0 668,1164.5 667,1155.6 666,1146.6 665,1137.7 664,1136.8 663,1144.8 662,1149.9 661,1149.9 660,1149.9 659,1149.9 658,1149.9 657,1147.2 656,1137.5 655,1144.7 654,1150.1 653,1150.1 652,1150.1 651,1150.1 650,1150.1 649,1148.1 648,1135.9 647,1135.5 646,1139.9 645,1139.9 644,1139.9 643,1139.9 642,1139.9 641,1139.7 640,1128.9 639,1118.1 638,1107.3 637,1096.6 636,1088.7 635,1087.7 634,1086.7 633,1085.8 632,1084.8 631,1083.8 630,1082.8 629,1081.4 628,1079.9 627,1078.4 626,1076.9 625,1075.4 624,1073.9 623,1072.0 622,1069.5 621,1067.0 620,1064.5 619,1062.6 618,1064.6 617,1066.7 616,1068.7 615,1069.7 614,1069.7 613,1069.7 612,1069.7 611,1069.7 610,1068.3 609,1065.5 608,1062.8 607,1060.0 606,1057.2 605,1054.5 604,1051.7 603,1048.9 602,1046.1 601,1042.9 600,1039.8 599,1036.6 598,1033.5 597,1030.3 596,1027.7 595,1025.1 594,1022.6 593,1020.0 592,1017.4 591,1014.9 590,1012.3 589,1009.8 588,1007.2 587,1004.6 586,1002.1 585,996.8 584,988.7 583,980.6 582,972.5 581,964.4 580,956.3 579,948.0 578,938.0 577,928.1 576,918.1 575,908.2 574,898.2 573,888.2 572,878.3 571,868.3 570,862.8 569,857.3 568,851.9 567,846.4 566,840.9 565,835.4 564,836.9 563,843.0 562,849.1 561,855.1 560,861.2 559,861.2 558,861.2 557,861.2 556,861.2 555,861.2 554,849.2 553,835.2 552,821.2 551,807.2 550,793.2 549,779.2 548,765.2 547,754.2 546,754.2 545,754.2 544,754.2 543,754.2 542,754.2 541,734.7 540,711.9 539,709.6 538,715.4 537,721.2 536,727.0 535,765.6 534,826.2 533,832.7 532,839.2 531,845.6 530,852.1 529,858.6 528,865.1 527,868.3 526,868.3 525,868.3 524,868.3 523,868.3 522,847.1 521,825.8 520,825.8 519,825.8 518,825.8 517,823.4 516,819.5 515,815.5 514,811.5 513,807.5 512,803.6 511,797.4 510,782.2 509,772.0 508,777.0 507,782.3 506,789.0 505,795.6 504,802.3 503,806.5 502,806.5 501,806.5 500,806.5 499,806.5 498,804.7 497,797.3 496,789.8 495,782.4 494,775.0 493,768.9 492,764.1 491,759.3 490,754.5 489,749.7 488,745.0 487,741.5 486,744.1 485,745.4 484,745.4 483,745.4 482,745.4 481,745.4 480,745.3 479,745.2 478,745.1 477,732.1 476,706.3 475,692.9 474,692.9 473,692.9 472,692.9 471,692.9 470,689.7 469,671.1 468,652.5 467,646.2 466,645.2 465,644.2 464,643.2 463,642.2 462,627.4 461,598.7 460,570.0 459,550.0 458,576.1 457,608.3 456,640.6 455,646.0 454,646.0 453,646.0 452,646.0 451,646.0 450,630.6 449,610.2 448,589.7 447,594.0 446,594.0 445,594.0 444,594.0 443,594.0 442,594.0 441,451.5 440,440.9 439,431.7 438,428.2 437,424.7 436,421.3 435,417.8 434,414.3 433,360.6 432,311.3 431,266.2 430,255.8 429,260.3 428,261.7 427,261.7 426,261.7 425,261.7 424,261.7 423,261.7 422,261.7 421,258.9 420,231.1 419,203.2 418,187.4 417,199.6 416,199.6 415,199.6 414,199.6 413,199.6 412,199.6 411,199.6 410,199.6 409,157.9 408,157.9 407,157.9 406,157.9 405,157.9 404,156.0 403,148.5 402,154.8 401,162.0 400,177.2 399,194.5 398,195.1 397,195.8 396,196.4 395,196.9 394,196.9 393,196.9 392,196.9 391,196.9 390,195.7 389,191.3 388,225.8 387,226.3 386,226.8 385,227.3 384,227.8 383,244.1 382,276.2 381,308.3 380,314.4 379,314.4 378,314.4 377,314.4 376,314.4 375,310.1 374,304.3 373,298.5 372,292.7 371,292.1 370,291.4 369,290.8 368,288.4 367,270.5 366,257.6 365,246.0 364,234.4 363,235.6 362,238.5 361,241.3 360,243.5 359,243.5 358,243.5 357,243.5 356,243.5 355,242.4 354,242.2 353,251.7 352,256.5 351,256.5 350,256.5 349,256.5 348,256.5 347,247.4 346,240.1 345,255.1 344,270.8 343,286.4 342,298.2 341,298.2 340,298.2 339,298.2 338,298.2 337,298.1 336,274.2 335,250.4 334,226.5 333,207.3 332,206.6 331,205.9 330,205.3 329,191.7 328,148.0 327,146.9 326,147.9 325,168.6 324,189.3 323,204.2 322,219.1 321,251.9 320,305.9 319,307.9 318,309.8 317,311.8 316,318.7 315,345.2 314,371.7 313,391.9 312,405.7 311,419.5 310,419.5 309,419.5 308,419.5 307,419.5 306,419.5 305,368.8 304,318.1 303,282.6 302,262.3 301,244.8 300,254.9 299,268.0 298,284.1 297,303.5 296,330.8 295,373.5 294,426.2 293,456.9 292,517.7 291,574.3 290,615.0 289,644.9 288,659.8 287,659.8 286,659.8 285,659.8 284,659.8 283,647.8 282,623.9 281,600.0 280,608.0 279,608.0 278,608.0 277,608.0 276,608.0 275,608.0 274,578.0 273,548.0 272,552.0 271,576.0 270,600.0 269,630.0 268,660.0 267,665.9 266,671.7 265,677.6 264,680.5 263,680.5 262,680.5 261,680.5 260,680.5 259,685.6 258,702.5 257,719.4 256,738.4 255,758.3 254,777.5 253,790.4 252,803.3 251,809.8 250,809.8 249,809.8"/><polygon fill="#0000ff" stroke="none" points="600.0,1015.0 602.0,1024.7 620.0,1040.0 639.0,1075.0 647.0,1090.0 660.0,1095.0 670.0,1105.0 686.0,1097.0 690.0,1097.1 692.7,1093.3 699.9,1086.1 705.3,1088.0 706.3,1115.0 712.0,1110.0 720.0,1105.0 728.8,1098.8 733.3,1099.7 737.0,1113.2 740.0,1113.0 742.4,1086.1 746.9,1081.1 751.4,1084.3 755.0,1122.2 757.7,1104.2 762.2,1102.4 764.9,1078.9 769.5,1069.9 774.0,1072.0 776.7,1097.0 779.4,1092.4 784.0,1095.0 795.0,1095.0 804.7,1086.1 807.4,1118.6 811.0,1100.6 815.0,1100.6 820.0,1095.0 825.4,1091.5 829.5,1093.0 831.8,1129.5 835.4,1104.2 838.1,1084.3 843.5,1083.4 848.0,1113.2 851.6,1129.5 853.4,1095.1 858.8,1079.8 860.7,1086.0 877.2,1055.0 889.6,1077.8 908.2,1057.1 922.7,1075.7 935.0,1086.0 945.4,1069.5 955.8,1044.7 968.2,1044.7 984.7,1048.8 997.1,1006.5 1000.0,1015.0 1000.0,1028.2 986.8,1057.1 978.5,1088.1 966.1,1090.2 955.8,1096.4 947.5,1102.6 937.2,1139.8 926.8,1129.5 912.3,1123.3 901.0,1146.0 889.6,1108.8 880.3,1127.4 871.0,1141.9 862.7,1158.4 853.4,1181.1 846.0,1160.0 836.8,1146.7 827.5,1188.0 819.2,1155.0 814.0,1169.5 805.8,1177.7 797.5,1194.3 789.2,1242.8 778.9,1161.2 770.6,1126.0 764.4,1138.4 756.2,1143.6 747.9,1136.4 741.7,1152.9 729.3,1146.7 722.0,1205.6 712.7,1179.8 706.5,1148.8 696.2,1150.8 690.0,1165.3 684.7,1165.3 676.4,1128.0 670.2,1173.5 664.0,1155.0 649.6,1152.9 641.3,1142.5 639.2,1090.9 631.0,1086.7 624.8,1076.4 618.0,1074.3 610.3,1074.3 602.0,1051.6 600.0,1045.0"/><polygon fill="#0000ff" stroke="none" points="1000.0,1015.0 1010.0,1015.0 1030.0,1000.0 1037.5,968.8 1052.0,944.0 1064.4,944.0 1069.6,915.1 1076.8,925.4 1085.1,925.4 1093.4,869.6 1103.7,855.1 1112.0,861.3 1117.1,853.1 1124.4,838.6 1134.7,823.1 1140.9,848.9 1148.3,848.9 1154.5,867.5 1160.7,838.6 1169.0,873.7 1179.3,863.4 1194.8,797.2 1202.0,846.8 1212.4,844.8 1222.7,863.4 1228.9,817.9 1237.2,865.4 1249.6,848.9 1257.8,855.1 1265.1,839.6 1272.3,848.9 1282.6,752.0 1288.8,863.4 1297.1,890.2 1300.0,894.0 1300.0,933.6 1295.0,931.6 1284.7,884.0 1274.4,892.3 1264.0,886.1 1251.6,904.7 1241.3,921.2 1226.8,884.0 1218.6,906.8 1204.1,902.6 1187.5,892.3 1177.2,888.2 1170.0,927.4 1158.6,886.0 1150.3,908.8 1145.0,882.0 1138.8,873.7 1128.5,867.5 1120.2,882.0 1114.0,897.5 1105.8,880.0 1097.5,896.5 1089.2,944.0 1084.0,956.4 1068.6,948.2 1052.0,964.7 1040.0,970.0 1033.4,1016.4 1027.2,1033.0 1019.0,1033.0 1012.7,1026.7 1007.6,1059.8 1002.4,1030.8 1000.0,1028.2"/><polygon fill="#0000ff" stroke="none" points="1300.0,894.0 1302.4,918.0 1309.6,869.3 1318.9,891.0 1331.3,898.2 1339.6,928.2 1348.9,884.8 1356.2,944.7 1364.4,940.6 1374.8,853.7 1385.1,875.5 1393.4,924.0 1402.7,864.1 1409.9,926.1 1418.2,928.2 1424.4,904.4 1430.6,919.9 1435.7,901.3 1443.0,946.8 1450.0,948.8 1450.0,975.0 1430.0,970.0 1414.0,975.0 1400.0,965.0 1380.0,960.0 1366.5,975.0 1358.2,981.0 1339.6,975.0 1331.3,965.0 1320.0,960.0 1302.4,960.0 1300.0,950.0"/><polygon fill="#0000ff" stroke="none" points="1450.0,948.8 1456.5,945.0 1477.2,970.0 1508.2,978.0 1531.0,971.0 1541.3,1005.0 1564.0,1008.0 1593.0,1003.0 1600.0,1003.0 1600.0,1044.7 1588.8,1052.9 1582.6,1026.0 1572.3,1021.9 1565.1,1042.6 1555.8,1026.0 1551.6,1042.6 1541.3,1044.7 1531.0,1050.9 1521.7,1075.7 1512.3,1055.0 1502.0,1034.3 1493.7,1038.4 1484.4,1064.3 1475.1,1007.4 1462.7,1009.5 1450.0,975.0"/><polygon fill="#0000ff" stroke="none" points="1600.0,1003.0 1620.0,990.0 1629.3,972.0 1647.9,972.0 1668.6,990.0 1691.3,984.0 1714.0,994.0 1724.4,988.0 1734.7,1003.0 1747.1,1000.0 1758.3,1010.0 1772.2,1012.0 1784.0,1000.0 1794.0,1015.0 1810.8,1000.0 1815.5,1010.0 1815.9,1021.1 1812.5,1056.3 1807.5,1062.2 1802.5,1048.0 1799.0,1073.2 1791.5,1083.2 1785.6,1041.2 1778.9,1049.6 1770.5,1093.3 1763.8,1081.5 1758.8,1047.9 1753.7,1036.2 1748.7,1036.2 1742.0,1057.2 1734.7,1046.7 1728.5,1063.3 1719.0,1046.7 1709.9,1053.0 1701.6,1062.2 1691.3,1042.6 1681.0,1032.2 1672.7,1049.8 1664.4,1019.8 1659.2,1035.3 1652.0,1021.9 1643.7,1039.5 1635.5,1028.1 1627.2,1034.3 1616.9,1038.4 1609.6,1062.2 1600.0,1044.7"/><polygon fill="#0000ff" stroke="none" points="249.0,805.0 252.0,760.0 254.9,678.8 258.0,677.0 266.0,677.0 270.0,640.0 274.0,640.0 274.0,760.0 268.0,790.0 258.0,800.0 249.0,812.0"/>
<polyline fill="none" stroke="#0000ff" points="249.0,809.8 251.6,776.2 254.2,724.5 256.8,680.5 262.0,680.5 265.5,660.0 267.5,600.0 270.0,540.0 274.4,515.0 277.5,608.0 279.5,560.0 281.4,543.4 283.5,600.0 286.0,659.8 288.0,600.0 289.1,543.4 290.4,460.0 291.7,420.0 293.0,344.5 294.8,295.3 297.0,260.0 300.8,221.6 303.4,240.0 306.0,292.7 308.5,419.5 311.0,385.0 313.7,313.4 317.6,305.7 318.9,228.0 321.5,189.3 324.0,137.6 325.3,96.2 328.0,145.3 330.5,148.0 331.8,204.8 335.7,207.4 339.6,300.5 343.4,241.0 347.3,207.4 350.0,256.5 353.8,220.3 357.7,243.6 365.4,221.6 369.3,266.9 370.6,290.2 374.5,292.7 378.3,314.7 381.0,228.0 386.1,225.5 387.4,114.3 390.0,163.4 392.6,197.0 396.5,194.5 398.3,163.4 403.0,129.8 406.8,158.3 410.7,84.6 412.0,199.6 414.6,199.6 418.4,147.9 421.0,189.3 423.6,261.7 426.2,261.7 432.7,232.0 434.0,287.6 435.2,344.5 436.5,414.3 441.7,432.4 444.3,460.0 444.3,595.0 449.5,569.3 453.3,647.0 456.0,560.0 459.8,484.0 462.5,570.0 465.0,641.7 470.2,646.9 472.7,693.4 476.6,657.2 480.0,745.0 483.0,745.4 487.9,732.5 496.0,771.3 500.8,806.9 504.7,781.0 510.5,752.0 513.7,800.4 520.2,826.2 523.4,800.4 525.0,868.3 531.5,826.2 533.1,729.3 541.2,682.4 544.4,755.1 547.7,726.0 557.4,861.8 562.2,832.7 567.0,832.7 573.5,868.3 581.6,949.0 588.0,1000.8 599.4,1030.0 604.8,1047.0 613.0,1069.7 619.4,1056.7 625.9,1073.0 632.3,1082.6 638.8,1089.0 643.6,1140.8 648.5,1111.7 651.7,1150.5 656.6,1115.0 659.8,1150.5 664.6,1111.7 671.1,1169.9 676.0,1121.4 682.4,1115.0 687.3,1160.2 692.1,1128.0 697.0,1147.2 701.8,1089.0 705.0,1147.2 711.5,1170.0 716.4,1147.2 722.8,1202.2 727.7,1144.0 732.5,1102.0 737.4,1128.0 742.2,1150.5 747.0,1084.2 751.9,1131.0 758.4,1140.8 763.2,1105.2 769.7,1072.9 774.5,1121.4 779.4,1095.5 784.8,1176.3 789.7,1234.5 794.5,1186.0 799.4,1160.2 804.2,1092.3 809.0,1166.6 812.3,1115.0 815.5,1102.0 820.4,1150.5 823.6,1098.8 827.8,1186.0 831.7,1128.0 836.6,1128.0 841.4,1085.8 846.3,1134.3 849.5,1144.0 854.3,1178.0 859.2,1128.0 864.0,1153.7 868.9,1118.0 873.7,1095.5 877.0,1056.7 880.8,1124.6 885.0,1089.0 891.5,1079.4 896.4,1089.0 901.2,1144.0 906.0,1079.4 909.3,1060.0 912.5,1121.4 917.4,1121.4 922.2,1079.4 927.0,1127.8 932.0,1095.5 937.7,1137.5 941.6,1082.6 948.0,1098.8 954.5,1082.6 959.4,1018.0 965.8,1089.0 970.7,1031.0 975.5,1085.8 979.4,1085.8 985.9,1040.6 990.7,1040.6 995.6,1008.3 1000.4,1024.4 1006.9,1058.4 1011.7,1014.7 1018.2,1031.0 1024.6,1018.0 1028.5,1031.0 1032.7,1005.0 1037.6,972.7 1044.0,946.9 1052.1,946.9 1057.0,946.9 1063.4,937.2 1069.9,917.8 1074.7,934.0 1081.2,950.0 1086.0,917.8 1092.5,872.5 1099.0,866.0 1103.8,858.0 1108.7,875.7 1114.5,895.1 1118.4,856.4 1124.8,840.2 1129.7,862.8 1135.2,825.6 1139.4,862.8 1144.2,875.7 1147.5,849.9 1152.3,904.8 1157.2,843.4 1161.0,839.6 1165.9,881.6 1169.7,923.6 1172.3,875.1 1182.0,862.2 1188.5,859.0 1195.0,799.2 1199.8,855.7 1204.6,897.8 1207.9,855.7 1212.7,846.0 1219.2,904.2 1224.7,855.7 1228.9,820.2 1233.7,865.4 1240.2,917.2 1249.9,849.3 1256.4,855.7 1264.4,842.8 1270.9,849.3 1274.1,881.6 1277.4,817.0 1281.6,750.7 1286.1,855.7 1291.9,881.6 1296.8,897.8 1301.6,933.3 1306.5,897.8 1310.7,871.9 1316.1,913.9 1321.0,897.8 1325.8,930.0 1332.3,901.0 1338.8,933.3 1343.0,951.3 1349.0,886.7 1353.9,941.6 1357.2,986.8 1362.0,951.3 1366.9,941.6 1375.0,857.6 1379.8,915.7 1384.6,877.0 1389.5,909.3 1394.3,935.1 1399.2,870.5 1404.0,867.3 1408.9,941.6 1413.7,928.7 1417.0,932.0 1423.4,906.0 1428.3,919.0 1434.7,901.2 1439.6,935.1 1446.0,961.0 1452.5,941.6 1459.0,954.5 1462.2,1006.2 1468.7,1003.0 1475.1,1006.2 1480.0,974.0 1484.2,1061.2 1488.1,1022.4 1494.5,1035.3 1499.4,1006.2 1504.2,1041.8 1510.7,1012.7 1515.5,1058.0 1521.0,1070.9 1525.9,1045.0 1532.3,1025.6 1540.4,1048.3 1546.9,1045.0 1553.3,1025.6 1558.2,1012.7 1564.6,1038.6 1571.1,1006.2 1577.6,1022.4 1584.0,1012.7 1588.9,1048.3 1593.7,1035.3 1598.6,1038.6 1603.4,1025.6 1609.2,1059.6 1614.7,1025.6 1619.6,1035.3 1626.0,1025.6 1632.5,1012.7 1637.4,1022.4 1642.2,1035.3 1648.7,1012.7 1653.5,1016.0 1658.4,1032.1 1663.2,1012.7 1668.1,1006.2 1672.9,1045.0 1677.8,1019.2 1682.6,1032.1 1687.5,1019.2 1693.9,1038.6 1697.2,1058.0 1702.2,1059.4 1706.6,1038.7 1711.7,1049.0 1719.5,1059.4 1727.3,1062.0 1732.4,1038.7 1737.6,1038.7 1742.3,1054.3 1746.7,1028.4 1751.8,1007.7 1757.0,1025.8 1762.2,1054.3 1764.8,1080.1 1771.3,1090.5 1777.7,1041.3 1782.9,1038.7 1788.1,1059.4 1792.0,1080.1 1797.1,1059.4 1802.3,1025.8 1807.5,1059.4 1812.7,1020.6"/>
<polygon fill="#00ff00" stroke="none" points="249,796.6 250,788.3 251,779.9 252,771.6 253,763.2 254,761.2 255,759.3 256,757.3 257,755.4 258,753.4 259,753.0 260,753.0 261,753.0 262,753.0 263,753.0 264,753.8 265,754.1 266,751.5 267,748.9 268,746.3 269,744.0 270,742.1 271,740.1 272,738.1 273,736.2 274,735.1 275,735.1 276,735.1 277,735.1 278,735.1 279,736.4 280,741.7 281,747.0 282,752.3 283,756.0 284,752.8 285,741.9 286,731.0 287,718.5 288,703.6 289,688.7 290,683.0 291,679.7 292,676.4 293,673.0 294,664.2 295,654.8 296,645.3 297,635.9 298,626.4 299,624.1 300,624.1 301,624.1 302,624.1 303,624.1 304,626.0 305,629.4 306,632.8 307,636.3 308,661.9 309,690.0 310,702.0 311,675.2 312,625.5 313,575.8 314,551.0 315,551.0 316,551.0 317,551.0 318,551.0 319,546.9 320,529.7 321,512.4 322,495.2 323,482.3 324,482.3 325,482.3 326,482.3 327,482.3 328,484.6 329,500.5 330,507.9 331,507.9 332,507.9 333,507.9 334,507.9 335,512.8 336,520.8 337,528.7 338,536.7 339,559.5 340,586.0 341,594.1 342,585.2 343,576.3 344,567.3 345,560.6 346,560.6 347,560.6 348,560.6 349,560.6 350,565.1 351,589.5 352,590.5 353,590.5 354,590.5 355,590.5 356,590.5 357,596.5 358,605.8 359,615.1 360,624.3 361,626.2 362,623.6 363,617.2 364,610.7 365,604.2 366,597.8 367,592.9 368,592.9 369,592.9 370,592.9 371,592.9 372,596.6 373,616.5 374,636.3 375,648.4 376,655.3 377,653.8 378,625.1 379,608.6 380,604.5 381,600.4 382,596.2 383,567.2 384,527.5 385,493.2 386,493.2 387,493.2 388,493.2 389,493.2 390,493.2 391,507.7 392,522.3 393,536.9 394,550.9 395,554.5 396,550.7 397,550.0 398,549.3 399,548.7 400,546.2 401,543.6 402,540.9 403,538.3 404,529.1 405,519.9 406,510.7 407,501.5 408,492.2 409,492.2 410,492.2 411,492.2 412,492.2 413,492.2 414,521.0 415,524.0 416,510.9 417,510.9 418,510.9 419,510.9 420,510.9 421,510.9 422,521.9 423,532.8 424,548.9 425,570.1 426,591.3 427,607.3 428,604.3 429,601.3 430,598.3 431,598.3 432,598.3 433,598.3 434,598.3 435,598.3 436,675.7 437,727.1 438,727.9 439,725.5 440,723.1 441,721.9 442,721.9 443,721.9 444,721.9 445,721.9 446,731.8 447,751.7 448,771.6 449,791.5 450,805.5 451,815.4 452,825.3 453,835.2 454,838.2 455,825.0 456,758.8 457,692.6 458,676.0 459,676.0 460,676.0 461,676.0 462,676.0 463,700.5 464,740.2 465,776.5 466,781.5 467,786.5 468,791.5 469,796.5 470,797.1 471,796.1 472,795.1 473,794.3 474,794.2 475,794.1 476,794.0 477,794.0 478,794.0 479,794.0 480,794.0 481,796.6 482,805.4 483,814.1 484,822.9 485,831.6 486,839.3 487,845.9 488,852.5 489,859.1 490,865.7 491,869.9 492,872.6 493,875.3 494,878.0 495,880.7 496,881.6 497,882.0 498,882.4 499,882.9 500,883.3 501,883.8 502,883.7 503,875.9 504,868.1 505,862.2 506,862.2 507,862.2 508,862.2 509,862.2 510,863.6 511,872.7 512,881.8 513,890.9 514,900.0 515,909.1 516,908.5 517,906.1 518,903.7 519,901.3 520,900.7 521,900.7 522,900.7 523,900.7 524,900.7 525,904.8 526,894.6 527,875.0 528,855.5 529,836.0 530,835.4 531,834.8 532,834.2 533,833.6 534,833.1 535,833.1 536,833.1 537,833.1 538,833.1 539,833.6 540,839.1 541,844.6 542,850.1 543,855.6 544,855.4 545,851.9 546,848.4 547,845.8 548,845.8 549,845.8 550,845.8 551,845.8 552,847.6 553,857.7 554,867.8 555,877.9 556,888.1 557,898.2 558,908.3 559,916.2 560,906.0 561,902.6 562,899.3 563,895.9 564,892.6 565,890.9 566,890.9 567,890.9 568,890.9 569,890.9 570,894.2 571,900.8 572,907.4 573,914.0 574,920.6 575,928.3 576,936.9 577,945.5 578,954.1 579,962.6 580,965.8 581,966.6 582,967.4 583,968.2 584,969.0 585,969.8 586,970.6 587,971.5 588,977.2 589,985.2 590,993.1 591,1001.0 592,1005.5 593,1004.5 594,1004.0 595,1004.0 596,1004.0 597,1004.0 598,1004.0 599,1005.2 600,1007.5 601,1009.8 602,1012.1 603,1014.4 604,1016.7 605,1019.0 606,1021.3 607,1023.6 608,1025.9 609,1028.8 610,1032.0 611,1035.1 612,1038.3 613,1041.4 614,1039.5 615,1034.3 616,1029.1 617,1024.5 618,1024.5 619,1024.5 620,1024.5 621,1024.5 622,1024.5 623,1025.5 624,1026.5 625,1027.5 626,1028.6 627,1029.6 628,1030.6 629,1031.6 630,1032.6 631,1033.6 632,1034.6 633,1035.6 634,1036.6 635,1037.6 636,1038.6 637,1039.6 638,1040.6 639,1041.5 640,1042.5 641,1043.5 642,1045.9 643,1049.0 644,1052.0 645,1055.0 646,1056.5 647,1054.5 648,1053.5 649,1053.5 650,1053.5 651,1053.5 652,1053.5 653,1056.1 654,1061.3 655,1066.4 656,1071.6 657,1076.8 658,1082.1 659,1087.5 660,1081.6 661,1072.8 662,1064.1 663,1056.1 664,1048.2 665,1040.2 666,1032.3 667,1024.4 668,1024.4 669,1024.4 670,1024.4 671,1024.4 672,1024.4 673,1054.7 674,1076.3 675,1064.4 676,1062.6 677,1061.9 678,1061.3 679,1060.6 680,1060.1 681,1060.1 682,1060.1 683,1060.1 684,1060.1 685,1061.3 686,1074.4 687,1065.9 688,1056.7 689,1056.7 690,1056.7 691,1056.7 692,1056.7 693,1056.7 694,1048.9 695,1038.1 696,1027.2 697,1016.3 698,1016.3 699,1016.3 700,1016.3 701,1016.3 702,1016.3 703,1027.2 704,1038.0 705,1048.9 706,1059.7 707,1070.6 708,1076.5 709,1077.5 710,1077.3 711,1072.0 712,1066.7 713,1061.5 714,1057.5 715,1057.5 716,1057.5 717,1057.5 718,1057.5 719,1058.1 720,1072.3 721,1086.4 722,1073.5 723,1058.0 724,1048.1 725,1043.6 726,1039.1 727,1034.6 728,1030.2 729,1025.7 730,1021.2 731,1021.2 732,1021.2 733,1021.2 734,1021.2 735,1021.2 736,1027.1 737,1033.1 738,1039.0 739,1045.0 740,1050.6 741,1049.8 742,1037.0 743,1024.2 744,1011.4 745,1005.0 746,1005.0 747,1005.0 748,1005.0 749,1005.0 750,1009.6 751,1018.9 752,1028.1 753,1037.4 754,1046.6 755,1051.2 756,1052.7 757,1051.1 758,1043.0 759,1034.9 760,1026.9 761,1019.6 762,1014.1 763,1008.6 764,1003.1 765,997.6 766,992.2 767,986.7 768,986.0 769,986.0 770,986.0 771,986.0 772,986.0 773,992.1 774,1000.1 775,1008.2 776,1003.3 777,999.4 778,999.4 779,999.4 780,999.4 781,999.4 782,1000.4 783,1018.3 784,1036.3 785,1054.2 786,1072.2 787,1090.1 788,1102.9 789,1087.3 790,1054.0 791,1037.4 792,1037.4 793,1037.4 794,1037.4 795,1037.4 796,1039.1 797,1042.4 798,1045.8 799,1049.1 800,1052.5 801,1056.7 802,1061.2 803,1047.0 804,1019.5 805,992.1 806,992.1 807,992.1 808,992.1 809,992.1 810,992.1 811,1016.3 812,1040.6 813,1063.2 814,1058.2 815,1053.3 816,1048.3 817,1043.4 818,1038.4 819,1033.5 820,1031.0 821,1031.0 822,1031.0 823,1031.0 824,1031.0 825,1035.5 826,1044.4 827,1053.3 828,1062.2 829,1062.8 830,1054.0 831,1045.9 832,1040.7 833,1035.4 834,1030.2 835,1024.9 836,1021.4 837,1021.4 838,1021.4 839,1021.4 840,1021.4 841,1022.2 842,1025.6 843,1029.0 844,1032.3 845,1035.7 846,1039.6 847,1044.1 848,1048.6 849,1053.0 850,1057.5 851,1061.9 852,1066.4 853,1061.3 854,1038.3 855,1015.2 856,992.1 857,977.2 858,977.2 859,977.2 860,977.2 861,977.2 862,983.0 863,1006.2 864,1020.5 865,1015.1 866,1015.1 867,1015.1 868,1015.1 869,1015.1 870,1015.4 871,1015.5 872,1005.1 873,994.7 874,984.4 875,979.2 876,979.2 877,979.2 878,979.2 879,979.2 880,989.3 881,1009.5 882,1020.7 883,1017.0 884,1015.0 885,1013.0 886,1011.0 887,1009.0 888,1007.0 889,1005.0 890,1005.0 891,1005.0 892,1005.0 893,1005.0 894,1005.0 895,1008.3 896,1011.6 897,1014.9 898,1018.2 899,1022.1 900,1031.6 901,1041.0 902,1037.5 903,1028.8 904,1024.4 905,1024.4 906,1024.4 907,1024.4 908,1024.4 909,1026.4 910,1030.4 911,1034.4 912,1038.3 913,1042.3 914,1046.3 915,1050.3 916,1050.8 917,1051.2 918,1046.5 919,1041.8 920,1037.1 921,1032.4 922,1031.2 923,1031.2 924,1031.2 925,1031.2 926,1031.2 927,1033.4 928,1036.9 929,1040.3 930,1043.8 931,1047.3 932,1050.7 933,1054.1 934,1056.8 935,1059.6 936,1062.4 937,1065.2 938,1059.1 939,1051.1 940,1043.0 941,1036.2 942,1032.1 943,1028.1 944,1024.1 945,1020.0 946,1014.0 947,1006.0 948,998.1 949,990.1 950,982.1 951,974.2 952,966.2 953,966.2 954,966.2 955,966.2 956,966.2 957,966.2 958,976.1 959,986.0 960,995.9 961,1005.8 962,1015.1 963,1018.6 964,1022.1 965,1025.7 966,1019.5 967,1012.9 968,1006.3 969,1005.3 970,1005.3 971,1005.3 972,1005.3 973,1005.3 974,1010.2 975,1016.6 976,1023.1 977,1029.6 978,1031.1 979,1026.2 980,1021.4 981,1016.6 982,1011.8 983,1006.9 984,1002.6 985,998.6 986,994.5 987,990.5 988,986.5 989,982.4 990,979.4 991,979.4 992,979.4 993,979.4 994,979.4 995,979.4 996,980.4 997,981.4 998,982.4 999,983.3 1000,984.3 1001,985.3 1002,989.0 1003,993.7 1004,998.5 1005,1003.3 1006,1001.8 1007,987.7 1008,973.6 1009,959.4 1010,957.0 1011,957.0 1012,957.0 1013,957.0 1014,957.0 1015,962.6 1016,970.0 1017,977.4 1018,984.9 1019,976.1 1020,967.4 1021,963.0 1022,963.0 1023,963.0 1024,963.0 1025,963.0 1026,967.6 1027,976.9 1028,986.1 1029,981.6 1030,974.2 1031,971.1 1032,969.1 1033,967.1 1034,965.2 1035,963.2 1036,961.2 1037,959.9 1038,959.9 1039,959.9 1040,959.9 1041,959.9 1042,960.6 1043,963.3 1044,962.8 1045,958.8 1046,954.9 1047,953.9 1048,953.9 1049,953.9 1050,953.9 1051,953.9 1052,958.1 1053,966.2 1054,974.3 1055,982.4 1056,990.5 1057,988.4 1058,983.8 1059,977.7 1060,971.7 1061,965.7 1062,959.6 1063,954.9 1064,951.6 1065,948.3 1066,945.0 1067,941.7 1068,940.9 1069,940.9 1070,940.9 1071,940.9 1072,940.9 1073,943.6 1074,949.0 1075,954.4 1076,959.7 1077,963.1 1078,963.1 1079,963.1 1080,963.1 1081,963.1 1082,963.1 1083,964.8 1084,958.9 1085,952.3 1086,945.7 1087,939.3 1088,933.9 1089,928.5 1090,923.1 1091,917.7 1092,914.7 1093,914.7 1094,914.7 1095,914.7 1096,914.7 1097,915.0 1098,916.4 1099,914.2 1100,911.5 1101,908.8 1102,908.1 1103,908.1 1104,908.1 1105,908.1 1106,908.1 1107,910.8 1108,914.8 1109,918.7 1110,922.7 1111,926.7 1112,931.2 1113,935.9 1114,930.3 1115,923.7 1116,918.0 1117,918.0 1118,918.0 1119,918.0 1120,918.0 1121,918.0 1122,920.0 1123,918.2 1124,914.1 1125,910.0 1126,906.8 1127,904.3 1128,901.8 1129,899.3 1130,896.9 1131,894.4 1132,891.9 1133,891.9 1134,891.9 1135,891.9 1136,891.9 1137,891.9 1138,900.5 1139,909.1 1140,917.7 1141,925.7 1142,923.6 1143,921.6 1144,921.1 1145,921.1 1146,921.1 1147,921.1 1148,921.1 1149,929.1 1150,940.6 1151,952.2 1152,948.2 1153,940.4 1154,933.0 1155,925.7 1156,918.3 1157,915.4 1158,914.5 1159,914.0 1160,914.0 1161,914.0 1162,914.0 1163,914.0 1164,919.9 1165,931.8 1166,943.6 1167,955.4 1168,958.1 1169,955.1 1170,952.7 1171,952.7 1172,952.7 1173,952.7 1174,952.7 1175,952.7 1176,952.7 1177,952.7 1178,952.7 1179,952.7 1180,952.0 1181,950.5 1182,949.0 1183,947.5 1184,946.0 1185,944.5 1186,943.0 1187,929.9 1188,916.8 1189,903.6 1190,899.9 1191,898.6 1192,897.3 1193,896.0 1194,894.6 1195,894.6 1196,894.6 1197,894.6 1198,894.6 1199,894.6 1200,899.5 1201,905.0 1202,910.6 1203,916.1 1204,921.7 1205,927.2 1206,930.0 1207,930.0 1208,930.0 1209,930.0 1210,930.0 1211,930.0 1212,930.0 1213,935.6 1214,941.2 1215,946.8 1216,952.4 1217,958.0 1218,957.7 1219,951.7 1220,945.5 1221,939.0 1222,932.4 1223,925.8 1224,919.3 1225,914.3 1226,914.3 1227,914.3 1228,914.3 1229,914.3 1230,915.1 1231,920.4 1232,925.8 1233,931.2 1234,936.6 1235,942.8 1236,950.2 1237,957.7 1238,965.2 1239,960.9 1240,951.5 1241,943.0 1242,943.0 1243,943.0 1244,943.0 1245,943.0 1246,943.0 1247,943.0 1248,943.0 1249,943.0 1250,943.0 1251,943.0 1252,943.0 1253,943.0 1254,943.0 1255,945.0 1256,941.4 1257,936.0 1258,930.7 1259,926.9 1260,926.9 1261,926.9 1262,926.9 1263,926.9 1264,926.9 1265,926.9 1266,922.6 1267,917.2 1268,911.8 1269,906.4 1270,901.0 1271,890.5 1272,879.9 1273,869.3 1274,858.8 1275,848.0 1276,834.8 1277,821.6 1278,808.4 1279,800.2 1280,800.2 1281,800.2 1282,800.2 1283,800.2 1284,805.1 1285,824.7 1286,844.3 1287,863.9 1288,882.3 1289,888.9 1290,895.5 1291,902.1 1292,908.7 1293,915.1 1294,920.4 1295,925.8 1296,931.2 1297,936.6 1298,940.9 1299,943.5 1300,946.1 1301,948.8 1302,951.4 1303,955.7 1304,960.5 1305,948.0 1306,935.4 1307,922.9 1308,920.6 1309,920.6 1310,920.6 1311,920.6 1312,920.6 1313,923.6 1314,927.7 1315,931.7 1316,935.8 1317,939.8 1318,943.8 1319,947.7 1320,951.7 1321,955.5 1322,951.5 1323,947.4 1324,945.2 1325,943.7 1326,942.2 1327,940.7 1328,939.2 1329,937.7 1330,936.6 1331,936.6 1332,936.6 1333,936.6 1334,936.6 1335,937.4 1336,941.9 1337,946.3 1338,950.8 1339,955.3 1340,959.8 1341,955.1 1342,945.2 1343,935.4 1344,925.5 1345,915.7 1346,915.7 1347,915.7 1348,915.7 1349,915.7 1350,915.7 1351,925.1 1352,934.6 1353,944.0 1354,953.4 1355,963.2 1356,974.5 1357,985.7 1358,978.2 1359,966.7 1360,960.0 1361,958.0 1362,956.0 1363,954.0 1364,952.0 1365,950.0 1366,948.0 1367,938.1 1368,928.1 1369,918.2 1370,908.2 1371,898.3 1372,888.4 1373,883.4 1374,883.4 1375,883.4 1376,883.4 1377,883.4 1378,884.9 1379,887.9 1380,891.0 1381,894.0 1382,890.5 1383,886.6 1384,883.6 1385,883.6 1386,883.6 1387,883.6 1388,883.6 1389,884.7 1390,891.3 1391,897.8 1392,904.4 1393,911.0 1394,907.9 1395,903.3 1396,899.3 1397,895.4 1398,891.5 1399,887.6 1400,883.7 1401,880.8 1402,880.8 1403,880.8 1404,880.8 1405,880.8 1406,881.5 1407,895.1 1408,908.6 1409,922.1 1410,935.6 1411,942.1 1412,941.8 1413,941.8 1414,941.8 1415,941.8 1416,941.8 1417,944.2 1418,941.1 1419,932.4 1420,923.6 1421,916.4 1422,916.4 1423,916.4 1424,916.4 1425,916.4 1426,916.4 1427,922.9 1428,929.5 1429,928.7 1430,922.6 1431,916.6 1432,910.5 1433,909.7 1434,909.7 1435,909.7 1436,909.7 1437,909.7 1438,915.7 1439,923.6 1440,931.6 1441,939.5 1442,947.5 1443,955.4 1444,961.6 1445,963.6 1446,965.6 1447,966.0 1448,961.5 1449,957.1 1450,952.6 1451,948.2 1452,943.7 1453,939.3 1454,938.8 1455,938.8 1456,938.8 1457,938.8 1458,938.8 1459,944.2 1460,951.5 1461,958.7 1462,966.0 1463,973.3 1464,979.4 1465,985.5 1466,991.5 1467,997.6 1468,1003.0 1469,1003.0 1470,1003.0 1471,1003.0 1472,997.1 1473,991.2 1474,985.2 1475,979.3 1476,974.9 1477,974.9 1478,974.9 1479,974.9 1480,974.9 1481,975.4 1482,989.3 1483,1003.2 1484,1017.1 1485,1029.5 1486,1021.9 1487,1014.2 1488,1011.6 1489,1010.3 1490,1008.9 1491,1007.6 1492,1006.2 1493,1001.2 1494,996.3 1495,991.3 1496,986.4 1497,981.4 1498,976.5 1499,974.0 1500,974.0 1501,974.0 1502,974.0 1503,974.0 1504,974.0 1505,974.0 1506,974.0 1507,974.0 1508,974.0 1509,974.0 1510,974.0 1511,977.3 1512,980.7 1513,984.0 1514,987.3 1515,994.0 1516,1012.4 1517,998.3 1518,984.2 1519,977.2 1520,977.2 1521,977.2 1522,977.2 1523,977.2 1524,980.2 1525,986.1 1526,987.0 1527,979.6 1528,972.2 1529,970.7 1530,970.7 1531,970.7 1532,970.7 1533,970.7 1534,971.2 1535,971.9 1536,972.5 1537,973.2 1538,973.8 1539,986.0 1540,999.5 1541,1007.2 1542,1002.1 1543,997.4 1544,992.8 1545,988.2 1546,983.6 1547,983.6 1548,983.6 1549,983.6 1550,983.6 1551,983.6 1552,984.6 1553,985.6 1554,986.6 1555,987.6 1556,988.6 1557,989.6 1558,992.0 1559,995.3 1560,998.6 1561,1001.9 1562,1005.2 1563,1007.3 1564,1008.8 1565,1008.7 1566,1002.7 1567,996.6 1568,990.5 1569,987.3 1570,987.3 1571,987.3 1572,987.3 1573,987.3 1574,987.9 1575,990.2 1576,992.6 1577,995.0 1578,997.4 1579,999.8 1580,1002.1 1581,1004.5 1582,1006.2 1583,1006.2 1584,1006.2 1585,1005.9 1586,1004.6 1587,1003.3 1588,1001.9 1589,1000.6 1590,999.5 1591,998.9 1592,998.2 1593,997.5 1594,996.8 1595,996.5 1596,996.5 1597,996.5 1598,996.5 1599,996.5 1600,997.8 1601,1000.3 1602,1002.8 1603,1005.4 1604,1007.9 1605,1010.4 1606,1013.1 1607,1017.0 1608,1020.9 1609,1023.1 1610,1017.8 1611,1012.6 1612,1007.3 1613,1003.8 1614,1000.9 1615,997.9 1616,994.9 1617,991.9 1618,989.0 1619,986.2 1620,983.7 1621,981.2 1622,978.7 1623,976.2 1624,973.7 1625,971.2 1626,970.7 1627,970.7 1628,970.7 1629,970.7 1630,970.7 1631,971.2 1632,971.9 1633,972.6 1634,973.2 1635,973.9 1636,977.9 1637,981.8 1638,985.8 1639,989.7 1640,993.6 1641,996.3 1642,993.6 1643,988.2 1644,982.7 1645,977.3 1646,971.8 1647,970.9 1648,970.9 1649,970.9 1650,970.9 1651,970.9 1652,973.4 1653,976.8 1654,980.1 1655,983.5 1656,986.9 1657,988.2 1658,989.5 1659,989.2 1660,987.8 1661,987.0 1662,987.0 1663,987.0 1664,987.0 1665,987.0 1666,987.3 1667,988.6 1668,989.9 1669,991.2 1670,992.5 1671,995.2 1672,999.9 1673,997.1 1674,989.8 1675,982.6 1676,980.8 1677,980.8 1678,980.8 1679,980.8 1680,980.8 1681,984.2 1682,989.5 1683,994.9 1684,993.3 1685,990.0 1686,990.0 1687,990.0 1688,990.0 1689,990.0 1690,990.0 1691,993.5 1692,997.1 1693,1000.6 1694,1004.2 1695,1007.7 1696,1011.3 1697,1014.7 1698,1018.0 1699,1021.3 1700,1024.6 1701,1025.2 1702,1021.2 1703,1017.2 1704,1013.3 1705,1009.3 1706,1005.3 1707,1002.5 1708,1002.5 1709,1002.5 1710,1002.5 1711,1002.5 1712,1002.7 1713,1003.6 1714,1004.4 1715,1002.0 1716,999.0 1717,996.1 1718,993.1 1719,990.1 1720,987.1 1721,984.8 1722,984.8 1723,984.8 1724,984.8 1725,984.8 1726,985.4 1727,995.3 1728,1005.3 1729,1015.2 1730,1014.4 1731,1008.8 1732,1006.1 1733,1004.1 1734,1002.1 1735,1000.1 1736,1000.1 1737,1000.1 1738,1000.1 1739,1000.1 1740,1000.1 1741,1004.4 1742,1003.0 1743,989.6 1744,976.1 1745,962.7 1746,956.0 1747,956.0 1748,956.0 1749,956.0 1750,956.0 1751,958.5 1752,963.6 1753,968.6 1754,973.7 1755,978.8 1756,983.6 1757,988.1 1758,992.6 1759,997.0 1760,1001.5 1761,1006.3 1762,1012.3 1763,1018.2 1764,1024.2 1765,1024.2 1766,1021.2 1767,1018.3 1768,1015.3 1769,1012.7 1770,1011.7 1771,1010.7 1772,1009.6 1773,1008.6 1774,1006.1 1775,990.2 1776,974.4 1777,958.5 1778,958.5 1779,958.5 1780,958.5 1781,958.5 1782,958.5 1783,964.6 1784,970.6 1785,976.7 1786,982.8 1787,990.6 1788,1002.5 1789,1014.4 1790,1026.3 1791,1038.3 1792,1036.3 1793,1031.1 1794,1025.5 1795,1020.0 1796,1014.4 1797,1008.8 1798,1007.9 1799,1007.9 1800,1007.9 1801,1007.9 1802,1007.9 1803,1010.9 1804,1014.9 1805,1010.3 1806,1003.3 1807,996.4 1808,991.6 1809,990.1 1810,988.5 1811,987.4 1812,987.4 1813,987.4 1813,991.6 1812,996.4 1811,1003.3 1810,1010.3 1809,1017.3 1808,1024.2 1807,1027.8 1806,1027.8 1805,1027.8 1804,1027.8 1803,1027.8 1802,1026.8 1801,1022.8 1800,1020.0 1799,1025.5 1798,1031.1 1797,1036.3 1796,1038.8 1795,1041.3 1794,1043.8 1793,1046.3 1792,1048.8 1791,1048.8 1790,1048.8 1789,1048.8 1788,1048.8 1787,1048.8 1786,1038.3 1785,1026.3 1784,1014.4 1783,1002.5 1782,990.6 1781,982.8 1780,990.2 1779,1006.1 1778,1008.6 1777,1009.6 1776,1010.7 1775,1011.7 1774,1012.7 1773,1015.3 1772,1018.3 1771,1021.2 1770,1024.2 1769,1027.2 1768,1030.2 1767,1033.1 1766,1036.1 1765,1036.1 1764,1036.1 1763,1036.1 1762,1036.1 1761,1036.1 1760,1030.1 1759,1024.2 1758,1018.2 1757,1012.3 1756,1006.3 1755,1001.5 1754,997.0 1753,992.6 1752,988.1 1751,983.6 1750,978.8 1749,976.1 1748,989.6 1747,1003.0 1746,1016.4 1745,1025.5 1744,1025.5 1743,1025.5 1742,1025.5 1741,1025.5 1740,1024.3 1739,1019.3 1738,1014.3 1737,1009.4 1736,1008.8 1735,1014.4 1734,1020.0 1733,1025.5 1732,1031.1 1731,1035.3 1730,1035.3 1729,1035.3 1728,1035.3 1727,1035.3 1726,1035.1 1725,1025.2 1724,1015.2 1723,1005.3 1722,996.1 1721,999.0 1720,1002.0 1719,1005.0 1718,1007.6 1717,1007.6 1716,1007.6 1715,1007.6 1714,1007.6 1713,1007.6 1712,1006.8 1711,1006.0 1710,1009.3 1709,1013.3 1708,1017.2 1707,1021.2 1706,1025.2 1705,1028.4 1704,1028.6 1703,1028.7 1702,1028.8 1701,1028.9 1700,1028.9 1699,1028.9 1698,1028.9 1697,1028.9 1696,1027.9 1695,1024.6 1694,1021.3 1693,1018.0 1692,1014.7 1691,1011.3 1690,1007.7 1689,1004.2 1688,1000.6 1687,999.9 1686,1003.2 1685,1005.7 1684,1005.7 1683,1005.7 1682,1005.7 1681,1005.7 1680,1005.7 1679,1000.3 1678,997.1 1677,1004.4 1676,1011.6 1675,1015.3 1674,1015.3 1673,1015.3 1672,1015.3 1671,1015.3 1670,1014.1 1669,1009.4 1668,1004.6 1667,999.9 1666,995.2 1665,992.5 1664,991.2 1663,990.5 1662,991.8 1661,993.2 1660,993.2 1659,993.2 1658,993.2 1657,993.2 1656,993.2 1655,992.1 1654,990.8 1653,989.5 1652,988.2 1651,986.9 1650,983.5 1649,982.7 1648,988.2 1647,993.6 1646,999.1 1645,1004.6 1644,1005.9 1643,1005.9 1642,1005.9 1641,1005.9 1640,1005.9 1639,1004.3 1638,1001.6 1637,998.9 1636,996.3 1635,993.6 1634,989.7 1633,985.8 1632,981.8 1631,977.9 1630,973.9 1629,973.7 1628,976.2 1627,978.7 1626,981.2 1625,983.7 1624,986.2 1623,989.0 1622,991.9 1621,994.9 1620,997.9 1619,1000.9 1618,1003.8 1617,1007.3 1616,1012.6 1615,1017.8 1614,1023.1 1613,1028.4 1612,1033.7 1611,1035.0 1610,1035.0 1609,1035.0 1608,1035.0 1607,1035.0 1606,1032.6 1605,1028.7 1604,1024.8 1603,1020.9 1602,1017.0 1601,1013.1 1600,1010.4 1599,1007.9 1598,1005.4 1597,1002.8 1596,1000.3 1595,999.5 1594,1000.6 1593,1001.9 1592,1003.3 1591,1004.6 1590,1005.9 1589,1006.2 1588,1006.2 1587,1006.2 1586,1006.2 1585,1006.2 1584,1006.2 1583,1006.2 1582,1006.2 1581,1006.2 1580,1006.2 1579,1006.2 1578,1006.2 1577,1006.2 1576,1004.5 1575,1002.1 1574,999.8 1573,997.4 1572,996.6 1571,1002.7 1570,1008.7 1569,1014.8 1568,1015.9 1567,1015.9 1566,1015.9 1565,1015.9 1564,1015.9 1563,1014.8 1562,1013.3 1561,1011.8 1560,1010.3 1559,1008.8 1558,1007.3 1557,1005.2 1556,1001.9 1555,998.6 1554,995.3 1553,992.0 1552,989.6 1551,988.6 1550,988.2 1549,992.8 1548,997.4 1547,1002.1 1546,1007.2 1545,1017.3 1544,1027.5 1543,1037.6 1542,1037.6 1541,1037.6 1540,1037.6 1539,1037.6 1538,1037.6 1537,1026.5 1536,1013.0 1535,999.5 1534,986.0 1533,973.8 1532,979.6 1531,987.0 1530,994.4 1529,1001.8 1528,1005.5 1527,1005.5 1526,1005.5 1525,1005.5 1524,1005.5 1523,1003.8 1522,998.3 1521,1012.4 1520,1026.5 1519,1040.6 1518,1054.7 1517,1054.7 1516,1054.7 1515,1054.7 1514,1054.7 1513,1054.7 1512,1034.5 1511,1014.3 1510,994.0 1509,987.3 1508,984.0 1507,980.7 1506,977.3 1505,974.0 1504,974.0 1503,976.5 1502,981.4 1501,986.4 1500,991.3 1499,996.3 1498,1001.2 1497,1006.2 1496,1007.6 1495,1008.9 1494,1010.3 1493,1011.6 1492,1014.2 1491,1021.9 1490,1029.5 1489,1037.1 1488,1044.8 1487,1052.4 1486,1054.3 1485,1054.3 1484,1054.3 1483,1054.3 1482,1054.3 1481,1045.0 1480,1031.0 1479,1017.1 1478,1003.2 1477,997.1 1476,1003.0 1475,1003.0 1474,1003.0 1473,1003.0 1472,1003.0 1471,1003.0 1470,1003.0 1469,1003.0 1468,1003.0 1467,1003.0 1466,1003.0 1465,1003.0 1464,1003.0 1463,1003.0 1462,997.6 1461,991.5 1460,985.5 1459,979.4 1458,973.3 1457,966.0 1456,958.7 1455,952.6 1454,957.1 1453,961.5 1452,966.0 1451,970.4 1450,973.8 1449,973.8 1448,973.8 1447,973.8 1446,973.8 1445,973.6 1444,971.6 1443,969.6 1442,967.6 1441,965.6 1440,963.6 1439,961.6 1438,955.4 1437,947.5 1436,939.5 1435,931.6 1434,928.7 1433,934.7 1432,940.7 1431,946.8 1430,947.7 1429,947.7 1428,947.7 1427,947.7 1426,947.7 1425,942.7 1424,936.1 1423,941.1 1422,949.9 1421,957.5 1420,957.5 1419,957.5 1418,957.5 1417,957.5 1416,957.5 1415,954.2 1414,950.9 1413,950.2 1412,952.9 1411,954.2 1410,954.2 1409,954.2 1408,954.2 1407,954.2 1406,949.1 1405,935.6 1404,922.1 1403,908.6 1402,895.4 1401,899.3 1400,903.3 1399,907.9 1398,912.5 1397,917.1 1396,921.7 1395,925.2 1394,925.2 1393,925.2 1392,925.2 1391,925.2 1390,924.1 1389,917.5 1388,911.0 1387,904.4 1386,897.8 1385,898.4 1384,902.4 1383,902.4 1382,902.4 1381,902.4 1380,902.4 1379,902.4 1378,900.1 1377,897.0 1376,898.3 1375,908.2 1374,918.2 1373,928.1 1372,938.1 1371,948.0 1370,950.0 1369,952.0 1368,954.0 1367,956.0 1366,958.0 1365,960.0 1364,966.7 1363,978.2 1362,989.6 1361,1001.1 1360,1012.6 1359,1015.4 1358,1015.4 1357,1015.4 1356,1015.4 1355,1015.4 1354,1008.1 1353,996.9 1352,985.7 1351,974.5 1350,963.2 1349,953.4 1348,944.0 1347,945.2 1346,955.1 1345,960.7 1344,962.0 1343,963.3 1342,964.7 1341,965.4 1340,965.4 1339,965.4 1338,965.4 1337,965.4 1336,964.3 1335,959.8 1334,955.3 1333,950.8 1332,946.3 1331,942.2 1330,943.7 1329,945.2 1328,947.4 1327,951.5 1326,955.5 1325,959.5 1324,963.6 1323,965.6 1322,965.6 1321,965.6 1320,965.6 1319,965.6 1318,963.6 1317,959.6 1316,955.7 1315,951.7 1314,947.7 1313,943.8 1312,939.8 1311,935.8 1310,948.0 1309,960.5 1308,973.0 1307,981.5 1306,981.5 1305,981.5 1304,981.5 1303,981.5 1302,980.0 1301,973.9 1300,967.9 1299,961.8 1298,955.7 1297,951.4 1296,948.8 1295,946.1 1294,943.5 1293,940.9 1292,936.6 1291,931.2 1290,925.8 1289,920.4 1288,915.1 1287,908.7 1286,902.1 1285,895.5 1284,888.9 1283,882.3 1282,863.9 1281,844.3 1280,848.0 1279,858.8 1278,869.3 1277,879.9 1276,890.5 1275,901.0 1274,906.4 1273,911.8 1272,917.2 1271,922.6 1270,926.9 1269,926.9 1268,926.9 1267,926.9 1266,926.9 1265,926.9 1264,926.9 1263,930.7 1262,936.0 1261,941.4 1260,946.8 1259,952.2 1258,952.4 1257,952.4 1256,952.4 1255,952.4 1254,952.4 1253,950.9 1252,948.9 1251,947.0 1250,945.0 1249,943.0 1248,943.0 1247,943.0 1246,943.0 1245,951.5 1244,960.9 1243,970.4 1242,979.8 1241,987.6 1240,987.6 1239,987.6 1238,987.6 1237,987.6 1236,987.6 1235,980.1 1234,972.6 1233,965.2 1232,957.7 1231,950.2 1230,942.8 1229,936.6 1228,931.2 1227,932.4 1226,939.0 1225,945.5 1224,951.7 1223,957.7 1222,963.8 1221,969.8 1220,974.7 1219,974.7 1218,974.7 1217,974.7 1216,974.7 1215,974.7 1214,969.1 1213,963.6 1212,958.0 1211,952.4 1210,946.8 1209,941.2 1208,935.6 1207,930.0 1206,930.0 1205,930.0 1204,930.0 1203,930.0 1202,930.0 1201,930.0 1200,927.2 1199,921.7 1198,916.1 1197,910.6 1196,905.0 1195,899.9 1194,903.6 1193,916.8 1192,929.9 1191,943.0 1190,944.5 1189,946.0 1188,947.5 1187,949.0 1186,950.5 1185,952.0 1184,952.7 1183,952.7 1182,952.7 1181,952.7 1180,952.7 1179,952.7 1178,952.7 1177,952.7 1176,952.7 1175,952.7 1174,955.1 1173,958.1 1172,961.1 1171,964.2 1170,967.2 1169,970.2 1168,971.7 1167,971.7 1166,971.7 1165,971.7 1164,971.7 1163,967.3 1162,955.4 1161,943.6 1160,931.8 1159,933.0 1158,940.4 1157,948.2 1156,955.9 1155,963.7 1154,971.4 1153,977.2 1152,977.2 1151,977.2 1150,977.2 1149,977.2 1148,975.3 1147,963.7 1146,952.2 1145,940.6 1144,929.7 1143,931.8 1142,933.8 1141,933.8 1140,933.8 1139,933.8 1138,933.8 1137,933.8 1136,926.3 1135,917.7 1134,909.1 1133,901.8 1132,904.3 1131,906.8 1130,910.0 1129,914.1 1128,918.2 1127,922.2 1126,926.3 1125,927.3 1124,927.3 1123,927.3 1122,927.3 1121,927.3 1120,926.1 1119,930.3 1118,936.9 1117,943.4 1116,950.0 1115,950.0 1114,950.0 1113,950.0 1112,950.0 1111,950.0 1110,945.3 1109,940.6 1108,935.9 1107,931.2 1106,926.7 1105,922.7 1104,918.7 1103,916.9 1102,919.6 1101,921.0 1100,921.0 1099,921.0 1098,921.0 1097,921.0 1096,920.3 1095,923.1 1094,928.5 1093,933.9 1092,939.3 1091,945.7 1090,952.3 1089,958.9 1088,965.5 1087,972.0 1086,972.4 1085,972.4 1084,972.4 1083,972.4 1082,972.4 1081,970.9 1080,968.9 1079,966.8 1078,965.7 1077,966.2 1076,966.2 1075,966.2 1074,966.2 1073,966.2 1072,965.1 1071,959.7 1070,954.4 1069,951.6 1068,954.9 1067,959.6 1066,965.7 1065,971.7 1064,977.7 1063,983.8 1062,988.4 1061,992.3 1060,996.3 1059,1000.2 1058,1004.2 1057,1004.6 1056,1004.6 1055,1004.6 1054,1004.6 1053,1004.6 1052,998.5 1051,990.5 1050,982.4 1049,974.3 1048,966.8 1047,970.7 1046,972.7 1045,972.7 1044,972.7 1043,972.7 1042,972.7 1041,971.4 1040,968.7 1039,966.0 1038,967.1 1037,969.1 1036,971.1 1035,974.2 1034,981.6 1033,989.0 1032,996.4 1031,1003.9 1030,1007.6 1029,1007.6 1028,1007.6 1027,1007.6 1026,1007.6 1025,1004.6 1024,995.4 1023,986.1 1022,993.6 1021,1002.4 1020,1004.6 1019,1004.6 1018,1004.6 1017,1004.6 1016,1004.6 1015,999.8 1014,992.3 1013,984.9 1012,987.7 1011,1001.8 1010,1015.9 1009,1023.7 1008,1023.7 1007,1023.7 1006,1023.7 1005,1023.7 1004,1022.5 1003,1017.7 1002,1012.9 1001,1008.1 1000,1003.3 999,998.5 998,993.7 997,989.0 996,985.3 995,984.3 994,983.3 993,986.5 992,990.5 991,994.5 990,998.6 989,1002.6 988,1006.9 987,1011.8 986,1016.6 985,1021.4 984,1026.2 983,1031.1 982,1035.9 981,1040.7 980,1045.6 979,1046.8 978,1046.8 977,1046.8 976,1046.8 975,1046.8 974,1042.5 973,1036.0 972,1029.6 971,1023.1 970,1026.2 969,1032.8 968,1037.2 967,1037.2 966,1037.2 965,1037.2 964,1037.2 963,1036.3 962,1032.8 961,1029.2 960,1025.7 959,1022.1 958,1018.6 957,1015.1 956,1005.8 955,995.9 954,990.1 953,998.1 952,1006.0 951,1014.0 950,1020.0 949,1024.1 948,1028.1 947,1032.1 946,1036.2 945,1043.0 944,1051.1 943,1059.1 942,1067.2 941,1075.2 940,1075.6 939,1075.6 938,1075.6 937,1075.6 936,1075.6 935,1073.5 934,1070.7 933,1067.9 932,1065.2 931,1062.4 930,1059.6 929,1056.8 928,1054.1 927,1050.7 926,1047.3 925,1043.8 924,1041.8 923,1046.5 922,1051.2 921,1053.5 920,1053.5 919,1053.5 918,1053.5 917,1053.5 916,1053.3 915,1052.8 914,1052.3 913,1051.8 912,1051.3 911,1050.8 910,1050.3 909,1046.3 908,1042.3 907,1038.3 906,1046.3 905,1055.0 904,1063.8 903,1066.0 902,1066.0 901,1066.0 900,1066.0 899,1066.0 898,1059.8 897,1050.4 896,1041.0 895,1031.6 894,1022.1 893,1018.2 892,1014.9 891,1011.6 890,1013.0 889,1015.0 888,1017.0 887,1020.7 886,1026.1 885,1031.4 884,1036.8 883,1042.2 882,1043.5 881,1043.5 880,1043.5 879,1043.5 878,1043.5 877,1029.7 876,1015.5 875,1025.8 874,1031.0 873,1031.0 872,1031.0 871,1031.0 870,1031.0 869,1029.3 868,1027.8 867,1035.0 866,1042.3 865,1049.6 864,1049.6 863,1049.6 862,1049.6 861,1049.6 860,1049.6 859,1038.3 858,1061.3 857,1084.4 856,1088.8 855,1088.8 854,1088.8 853,1088.8 852,1088.8 851,1085.2 850,1080.5 849,1075.8 848,1071.1 847,1066.4 846,1061.9 845,1057.5 844,1053.0 843,1048.6 842,1044.1 841,1039.6 840,1035.7 839,1032.3 838,1035.4 837,1040.7 836,1045.9 835,1054.0 834,1062.8 833,1071.5 832,1080.3 831,1089.0 830,1089.0 829,1089.0 828,1089.0 827,1089.0 826,1089.0 825,1080.1 824,1071.2 823,1062.2 822,1053.3 821,1048.3 820,1053.3 819,1058.2 818,1063.2 817,1064.6 816,1065.9 815,1067.3 814,1068.6 813,1069.6 812,1069.6 811,1069.6 810,1069.6 809,1069.6 808,1064.8 807,1074.4 806,1081.7 805,1081.7 804,1081.7 803,1081.7 802,1081.7 801,1079.4 800,1074.9 799,1070.3 798,1065.8 797,1061.2 796,1056.7 795,1054.0 794,1087.3 793,1120.6 792,1145.5 791,1145.5 790,1145.5 789,1145.5 788,1145.5 787,1145.1 786,1134.5 785,1124.0 784,1113.4 783,1102.9 782,1090.1 781,1072.2 780,1054.2 779,1036.3 778,1019.1 777,1024.4 776,1024.4 775,1024.4 774,1024.4 773,1024.4 772,1024.4 771,1016.3 770,1008.2 769,1003.1 768,1008.6 767,1014.1 766,1019.6 765,1026.9 764,1034.9 763,1043.0 762,1051.1 761,1059.2 760,1059.8 759,1059.8 758,1059.8 757,1059.8 756,1059.8 755,1058.7 754,1057.2 753,1055.7 752,1054.2 751,1052.7 750,1051.2 749,1046.6 748,1037.4 747,1037.0 746,1049.8 745,1062.6 744,1065.8 743,1065.8 742,1065.8 741,1065.8 740,1065.8 739,1064.1 738,1060.7 737,1057.3 736,1054.0 735,1050.6 734,1045.0 733,1039.0 732,1034.6 731,1039.1 730,1043.6 729,1048.1 728,1058.0 727,1073.5 726,1089.0 725,1104.5 724,1120.0 723,1123.8 722,1123.8 721,1123.8 720,1123.8 719,1123.8 718,1114.7 717,1100.6 716,1086.4 715,1077.3 714,1082.6 713,1082.6 712,1082.6 711,1082.6 710,1082.6 709,1082.6 708,1081.6 707,1080.6 706,1079.6 705,1078.5 704,1077.5 703,1076.5 702,1070.6 701,1059.7 700,1048.9 699,1048.9 698,1059.8 697,1070.7 696,1078.9 695,1078.9 694,1078.9 693,1078.9 692,1078.9 691,1078.0 690,1084.4 689,1093.7 688,1100.7 687,1100.7 686,1100.7 685,1100.7 684,1100.7 683,1100.7 682,1087.6 681,1074.4 680,1064.4 679,1076.3 678,1088.1 677,1100.0 676,1111.9 675,1120.8 674,1120.8 673,1120.8 672,1120.8 671,1120.8 670,1115.3 669,1085.0 668,1056.1 667,1064.1 666,1072.8 665,1081.6 664,1090.3 663,1099.1 662,1104.9 661,1104.9 660,1104.9 659,1104.9 658,1104.9 657,1103.6 656,1098.2 655,1092.8 654,1087.5 653,1082.1 652,1076.8 651,1071.6 650,1066.4 649,1061.3 648,1062.6 647,1063.1 646,1063.1 645,1063.1 644,1063.1 643,1063.1 642,1061.1 641,1058.0 640,1055.0 639,1052.0 638,1049.0 637,1045.9 636,1043.5 635,1042.5 634,1041.5 633,1040.6 632,1039.6 631,1038.6 630,1037.6 629,1036.6 628,1035.6 627,1034.6 626,1033.6 625,1032.6 624,1031.6 623,1030.6 622,1029.6 621,1029.1 620,1034.3 619,1039.5 618,1044.7 617,1049.9 616,1052.5 615,1052.5 614,1052.5 613,1052.5 612,1052.5 611,1050.9 610,1047.8 609,1044.6 608,1041.4 607,1038.3 606,1035.1 605,1032.0 604,1028.8 603,1025.9 602,1023.6 601,1021.3 600,1019.0 599,1016.7 598,1014.4 597,1012.1 596,1009.8 595,1007.6 594,1008.6 593,1009.7 592,1010.4 591,1010.4 590,1010.4 589,1010.4 588,1010.4 587,1008.9 586,1001.0 585,993.1 584,985.2 583,977.2 582,971.5 581,970.6 580,969.8 579,969.0 578,968.2 577,967.4 576,966.6 575,965.8 574,962.6 573,954.1 572,945.5 571,936.9 570,928.3 569,920.6 568,914.0 567,907.4 566,902.6 565,906.0 564,916.2 563,929.3 562,942.4 561,949.0 560,949.0 559,949.0 558,949.0 557,949.0 556,943.1 555,931.4 554,919.7 553,908.3 552,898.2 551,888.1 550,877.9 549,867.8 548,858.9 547,862.4 546,865.9 545,868.0 544,868.0 543,868.0 542,868.0 541,868.0 540,866.6 539,861.1 538,855.6 537,850.1 536,844.6 535,839.1 534,836.0 533,855.5 532,875.0 531,894.6 530,914.1 529,928.7 528,928.7 527,928.7 526,928.7 525,928.7 524,928.5 523,922.6 522,916.6 521,910.7 520,910.9 519,913.3 518,915.7 517,918.1 516,919.9 515,919.9 514,919.9 513,919.9 512,919.9 511,918.2 510,909.1 509,900.0 508,890.9 507,883.7 506,887.6 505,887.6 504,887.6 503,887.6 502,887.6 501,887.2 500,886.5 499,885.8 498,885.1 497,884.4 496,883.8 495,883.3 494,882.9 493,882.4 492,882.0 491,881.6 490,880.7 489,878.0 488,875.3 487,872.6 486,869.9 485,865.7 484,859.1 483,852.5 482,845.9 481,839.3 480,831.6 479,822.9 478,814.1 477,805.4 476,796.6 475,797.1 474,798.1 473,799.1 472,800.1 471,801.1 470,801.9 469,801.9 468,801.9 467,801.9 466,801.9 465,801.5 464,796.5 463,791.5 462,786.5 461,781.5 460,825.0 459,838.2 458,838.2 457,838.2 456,838.2 455,838.2 454,838.2 453,838.2 452,838.2 451,838.2 450,838.2 449,838.2 448,835.2 447,825.3 446,815.4 445,805.5 444,791.5 443,771.6 442,751.7 441,732.6 440,735.0 439,737.4 438,737.4 437,737.4 436,737.4 435,737.4 434,737.4 433,732.2 432,727.1 431,675.7 430,613.2 429,616.2 428,619.2 427,620.7 426,620.7 425,620.7 424,620.7 423,620.7 422,612.5 421,591.3 420,570.1 419,548.9 418,555.4 417,571.1 416,586.9 415,588.1 414,588.1 413,588.1 412,588.1 411,588.1 410,559.4 409,529.1 408,538.3 407,540.9 406,543.6 405,546.2 404,548.7 403,549.3 402,550.0 401,550.7 400,554.5 399,571.1 398,587.6 397,591.8 396,591.8 395,591.8 394,591.8 393,591.8 392,584.7 391,573.4 390,562.1 389,550.9 388,567.2 387,596.2 386,600.4 385,604.5 384,608.6 383,625.1 382,653.8 381,682.6 380,688.0 379,688.0 378,688.0 377,688.0 376,688.0 375,682.8 374,675.9 373,669.0 372,662.2 371,655.3 370,648.4 369,636.3 368,617.2 367,623.6 366,626.2 365,626.2 364,626.2 363,626.2 362,626.2 361,626.2 360,626.2 359,626.2 358,626.2 357,626.2 356,626.2 355,624.3 354,615.1 353,621.4 352,626.2 351,626.2 350,626.2 349,626.2 348,626.2 347,614.0 346,594.1 345,606.1 344,618.4 343,630.6 342,639.9 341,639.9 340,639.9 339,639.9 338,639.9 337,639.0 336,612.5 335,586.0 334,559.5 333,536.7 332,539.2 331,542.7 330,542.7 329,542.7 328,542.7 327,542.7 326,532.3 325,529.7 324,546.9 323,564.1 322,568.4 321,568.4 320,568.4 319,568.4 318,575.8 317,625.5 316,675.2 315,710.0 314,730.0 313,740.0 312,740.0 311,740.0 310,740.0 309,740.0 308,734.8 307,724.5 306,714.1 305,702.0 304,690.0 303,661.9 302,636.3 301,645.3 300,654.8 299,664.2 298,673.0 297,676.4 296,679.7 295,683.0 294,688.7 293,703.6 292,718.5 291,731.0 290,741.9 289,752.8 288,763.6 287,765.7 286,765.7 285,765.7 284,765.7 283,765.7 282,764.2 281,762.1 280,760.1 279,758.1 278,756.0 277,752.3 276,747.0 275,742.1 274,744.0 273,746.3 272,748.9 271,751.5 270,754.1 269,756.7 268,758.0 267,758.0 266,758.0 265,758.0 264,758.0 263,757.5 262,756.6 261,757.3 260,759.3 259,761.2 258,763.2 257,771.6 256,779.9 255,788.3 254,796.6 253,805.0 252,813.3 251,817.5 250,817.5 249,817.5"/><polygon fill="#00ff00" stroke="none" points="605.0,1012.0 617.0,1015.0 621.0,1018.5 629.0,1027.0 637.0,1037.0 647.5,1049.5 655.8,1064.0 660.0,1040.0 664.0,1024.7 672.0,1024.7 676.0,1055.0 684.7,1057.8 690.0,1051.6 698.3,1011.3 706.5,1027.0 714.8,1051.6 719.0,1047.0 723.0,1060.0 733.4,1016.5 739.6,1031.0 746.8,1000.0 752.0,1027.0 758.2,1020.6 769.6,980.3 776.8,996.0 781.0,1016.0 793.4,1033.0 805.8,991.7 812.0,1004.0 818.2,983.4 830.6,1008.0 838.8,991.7 840.0,1000.0 848.0,1010.0 854.5,972.4 862.7,993.0 866.9,1007.5 879.3,978.6 889.6,999.2 902.0,1007.5 910.3,1024.0 922.7,1032.3 937.2,1028.2 945.4,1005.4 954.7,963.0 962.0,1007.5 972.3,1007.5 984.7,995.0 995.0,976.5 1000.0,978.0 1000.0,1007.5 988.8,1026.1 978.5,1050.9 966.1,1042.6 955.8,1042.6 947.5,1044.7 939.2,1075.7 928.9,1065.4 916.5,1057.1 908.2,1044.7 900.0,1069.5 887.5,1032.3 879.3,1046.8 866.9,1061.2 860.7,1075.7 854.5,1092.2 848.3,1073.6 840.0,1044.7 838.8,1068.2 832.6,1084.7 824.4,1088.8 814.0,1072.3 803.7,1082.6 795.4,1126.0 789.2,1148.8 783.0,1101.2 778.9,1055.8 770.6,1037.2 764.4,1055.8 756.2,1064.0 749.9,1057.8 741.7,1070.2 731.3,1055.8 724.1,1130.2 714.8,1072.3 706.5,1082.6 698.3,1084.7 690.0,1105.4 686.8,1105.3 680.0,1087.0 676.0,1100.0 670.2,1124.0 665.0,1110.0 660.0,1107.4 647.5,1101.0 639.0,1070.0 631.0,1057.8 621.0,1045.4 617.0,1040.0 605.0,1040.0"/><polygon fill="#00ff00" stroke="none" points="1000.0,978.0 1002.4,983.3 1012.7,953.3 1018.9,960.6 1025.1,958.5 1037.5,964.7 1043.7,952.3 1052.0,952.3 1060.3,960.6 1069.6,938.9 1078.9,960.6 1089.2,935.8 1095.4,911.0 1103.7,904.8 1114.0,915.1 1124.4,906.8 1134.7,891.3 1143.0,917.2 1148.3,917.1 1154.5,929.5 1160.7,913.0 1169.0,946.0 1181.3,946.0 1189.6,904.7 1202.0,929.5 1206.2,927.4 1218.6,952.3 1226.8,935.7 1237.2,937.8 1251.6,913.0 1262.0,925.4 1270.2,888.2 1281.6,797.2 1288.8,904.7 1300.0,933.6 1300.0,977.1 1288.8,958.5 1281.0,940.0 1268.2,950.2 1259.9,956.4 1249.6,946.0 1239.2,989.5 1226.8,946.0 1219.6,981.2 1208.2,956.4 1197.9,950.2 1185.5,956.4 1173.1,954.3 1165.8,985.3 1158.6,958.5 1150.3,980.2 1149.2,979.2 1143.0,952.3 1134.7,935.8 1124.4,931.6 1114.0,954.4 1105.8,937.8 1097.5,937.8 1087.2,983.3 1076.8,983.3 1068.6,981.2 1062.3,1001.9 1056.2,1010.2 1045.8,977.1 1037.5,975.0 1028.2,1010.2 1023.0,1008.0 1014.8,1006.0 1006.5,1028.8 1000.0,1007.5"/><polygon fill="#00ff00" stroke="none" points="1300.0,933.6 1302.4,957.1 1310.7,912.7 1318.9,928.2 1323.0,944.7 1331.3,933.3 1339.6,957.1 1350.0,965.4 1358.2,961.2 1366.5,957.1 1374.8,890.0 1385.1,886.8 1393.4,910.0 1403.7,878.6 1414.0,936.4 1424.4,909.6 1430.6,924.0 1435.7,904.4 1443.0,953.0 1450.0,957.1 1450.0,965.4 1443.0,965.4 1434.7,957.1 1414.0,961.2 1390.0,965.0 1372.7,965.4 1364.4,981.9 1357.2,1019.1 1350.0,986.0 1339.6,990.2 1325.1,975.7 1310.7,969.5 1304.5,986.0 1300.0,977.1"/><polygon fill="#00ff00" stroke="none" points="1450.0,957.1 1456.5,937.2 1460.7,964.0 1471.0,972.3 1477.2,966.1 1502.0,968.2 1508.2,974.4 1514.4,984.7 1521.7,974.4 1531.0,967.1 1537.2,972.3 1541.3,1003.3 1555.8,997.1 1564.0,1005.4 1572.3,984.7 1593.0,999.2 1600.0,999.2 1600.0,1036.4 1593.0,1036.4 1584.7,1017.8 1572.3,1009.5 1566.1,1017.8 1557.8,1007.4 1549.6,1017.8 1541.3,1040.5 1531.0,1040.5 1523.7,1052.9 1516.5,1057.0 1502.0,1030.2 1493.7,1026.0 1484.4,1055.0 1475.1,1003.3 1462.7,1005.4 1452.4,984.7 1450.0,965.4"/><polygon fill="#00ff00" stroke="none" points="1600.0,999.2 1610.0,990.0 1620.0,985.0 1629.3,966.1 1637.5,976.4 1647.9,966.1 1658.2,988.8 1668.6,984.7 1681.0,988.8 1691.3,978.5 1701.6,988.8 1714.0,988.8 1724.4,982.6 1734.7,997.1 1747.1,952.7 1753.0,970.0 1758.3,990.0 1766.0,1010.0 1772.2,1004.3 1779.8,955.6 1784.0,950.9 1794.0,980.8 1802.5,987.5 1810.8,984.1 1815.5,989.2 1815.5,1011.0 1807.5,1031.2 1800.8,1026.1 1791.5,1053.0 1780.6,1031.2 1770.5,1031.2 1758.8,1031.2 1750.4,1019.4 1742.0,1027.8 1734.7,1019.8 1728.5,1036.4 1718.1,1021.9 1709.9,1021.9 1701.6,1032.2 1691.3,1015.7 1683.0,1011.6 1674.8,1015.7 1668.6,997.1 1658.2,1005.4 1647.9,1001.2 1635.5,1005.4 1627.2,1009.5 1616.9,1011.6 1608.6,1036.4 1600.0,1036.4"/>
<polyline fill="none" stroke="#00ff00" points="249.0,817.5 255.5,763.2 260.7,753.0 266.0,758.0 271.0,745.0 276.2,734.8 280.0,755.0 285.3,765.8 289.1,724.5 291.7,685.7 295.6,672.7 300.8,623.6 304.6,636.6 306.5,690.0 308.5,714.1 311.0,740.0 313.0,700.0 316.0,551.0 320.2,569.3 325.3,481.4 329.2,543.4 331.8,507.2 335.7,538.3 339.6,641.7 343.4,595.0 347.3,560.2 350.0,626.2 353.8,590.0 357.7,626.2 364.1,626.2 369.3,592.6 371.9,644.3 378.3,688.3 381.0,610.7 384.8,595.0 387.4,491.7 391.3,548.6 395.2,592.6 397.7,551.2 401.6,548.6 405.5,538.3 410.7,490.4 413.3,590.0 418.4,509.8 421.0,538.3 424.9,621.0 432.7,597.7 434.0,724.5 436.5,737.4 443.0,721.9 446.9,799.5 450.8,838.2 457.3,838.2 459.8,672.7 462.4,776.0 467.6,802.0 475.3,794.3 478.2,794.0 483.0,836.0 487.9,868.3 492.7,881.2 499.0,884.0 504.0,887.6 507.3,861.8 513.7,920.0 521.8,900.6 526.7,929.7 531.5,836.0 536.4,833.0 542.8,868.3 549.3,845.6 555.7,910.3 559.0,949.0 562.2,907.0 567.0,890.9 571.9,923.2 576.8,965.2 584.8,971.7 589.7,1010.5 596.0,1004.0 605.8,1026.6 614.0,1052.5 619.4,1024.4 625.9,1031.0 632.3,1037.4 638.8,1043.8 645.2,1063.2 650.0,1053.5 655.0,1079.4 659.8,1105.2 664.6,1063.2 669.5,1024.4 672.7,1121.4 677.6,1063.2 682.4,1060.0 685.6,1102.0 690.5,1056.7 693.7,1079.4 699.5,1016.3 705.0,1076.0 711.5,1082.6 716.4,1056.7 721.2,1124.6 726.0,1050.3 732.5,1021.2 737.4,1050.3 742.2,1066.4 747.0,1005.0 751.9,1050.3 758.4,1060.0 763.2,1021.2 769.7,985.6 774.5,1024.4 779.4,998.6 784.8,1095.5 789.7,1147.2 793.0,1037.4 797.8,1053.5 804.2,1082.6 807.5,992.1 810.7,1069.7 815.5,1063.2 822.0,1031.0 828.5,1089.0 833.3,1047.0 838.2,1021.2 843.0,1037.4 849.5,1066.4 854.3,1089.0 859.2,976.0 862.4,1050.3 867.3,1014.7 872.0,1031.0 877.0,979.2 880.2,1043.8 885.0,1018.0 891.5,1005.0 896.4,1021.2 901.2,1066.4 906.0,1024.4 912.5,1050.3 919.0,1053.5 923.8,1031.0 930.3,1053.5 938.4,1076.0 943.2,1037.4 948.0,1018.0 954.5,966.2 959.4,1014.7 965.8,1037.4 970.7,1005.0 977.2,1047.0 985.9,1005.0 992.3,979.2 998.8,985.6 1006.9,1024.4 1011.7,956.6 1018.2,1005.0 1023.0,963.0 1027.9,1008.3 1032.7,972.7 1039.2,959.8 1044.0,972.7 1048.9,953.3 1055.3,1005.0 1060.2,985.6 1065.0,956.6 1069.9,940.4 1074.7,966.2 1079.6,963.0 1084.4,972.7 1089.3,940.4 1094.1,914.5 1099.0,921.0 1103.8,908.0 1108.7,927.5 1113.5,950.0 1118.4,917.8 1123.2,927.5 1128.0,908.0 1134.5,891.9 1139.4,934.0 1145.8,921.0 1150.7,977.6 1155.5,940.4 1158.8,916.1 1161.0,914.0 1165.9,972.0 1172.3,952.7 1182.0,952.7 1188.5,943.0 1191.7,901.0 1196.6,894.5 1203.0,930.0 1209.5,930.0 1217.6,975.3 1222.4,946.2 1227.3,914.0 1232.1,939.8 1238.6,988.3 1243.4,943.0 1251.5,943.0 1256.4,952.7 1261.2,926.9 1267.7,926.9 1272.5,901.0 1277.4,849.3 1281.2,799.2 1285.4,881.6 1290.3,914.0 1295.1,939.8 1300.0,952.7 1304.8,981.8 1309.7,920.4 1314.5,939.8 1321.0,965.6 1325.8,946.2 1332.3,936.5 1338.8,965.6 1343.0,960.0 1347.5,915.7 1352.3,961.0 1357.2,1016.0 1362.0,961.0 1368.5,948.0 1375.0,883.4 1381.4,902.8 1386.3,883.4 1392.7,925.4 1397.6,902.8 1403.4,880.2 1408.9,954.5 1413.7,941.6 1418.6,957.8 1423.4,915.7 1428.3,948.0 1434.7,909.3 1441.2,961.0 1447.7,974.0 1455.7,938.4 1460.6,974.0 1465.4,1003.0 1473.5,1003.0 1478.4,974.0 1484.2,1054.7 1489.7,1012.7 1494.5,1006.2 1501.0,974.0 1507.5,974.0 1512.3,990.0 1515.5,1054.7 1521.0,977.2 1525.9,1006.2 1530.7,970.7 1535.6,973.9 1540.4,1038.6 1543.6,1006.2 1548.5,983.6 1554.9,990.0 1559.8,1006.2 1566.3,1016.0 1571.1,986.9 1579.2,1006.2 1587.3,1006.2 1592.1,999.8 1597.0,996.5 1603.4,1012.7 1609.2,1035.3 1614.7,1006.2 1621.2,986.9 1627.7,970.7 1632.5,973.9 1637.4,993.3 1642.2,1006.2 1648.7,970.7 1653.5,986.9 1658.4,993.3 1663.2,986.9 1668.1,993.3 1672.9,1016.0 1677.8,980.4 1682.6,1006.2 1687.5,990.0 1693.9,1012.7 1698.8,1028.9 1702.7,1028.4 1709.2,1002.5 1715.6,1007.7 1723.4,984.4 1728.6,1036.1 1733.7,1007.7 1737.6,999.9 1742.8,1025.8 1748.0,956.0 1753.1,981.8 1758.3,1005.1 1763.5,1036.1 1771.3,1012.9 1776.4,1007.7 1779.5,958.5 1784.2,987.0 1789.4,1049.0 1794.6,1036.1 1799.7,1007.7 1804.9,1028.4 1810.1,992.2 1813.5,987.0"/>
<polygon fill="#ff0000" stroke="none" points="250,818.8 251,818.8 252,818.8 253,826.9 254,834.9 255,843.0 256,849.8 257,848.1 258,848.1 259,848.1 260,848.1 261,848.1 262,848.6 263,825.5 264,799.9 265,774.4 266,748.8 267,735.4 268,735.4 269,735.4 270,735.4 271,735.4 272,737.0 273,740.2 274,743.5 275,746.8 276,750.0 277,776.4 278,812.7 279,818.6 280,812.9 281,812.9 282,812.9 283,812.9 284,812.9 285,831.5 286,840.8 287,810.2 288,779.5 289,748.9 290,741.2 291,741.2 292,741.2 293,741.2 294,741.2 295,745.0 296,748.9 297,752.7 298,756.5 299,757.0 300,750.4 301,743.8 302,737.3 303,737.3 304,737.3 305,737.3 306,737.3 307,738.0 308,747.7 309,720.4 310,693.0 311,679.3 312,670.1 313,660.8 314,651.6 315,642.4 316,641.5 317,641.5 318,641.5 319,641.5 320,641.5 321,628.5 322,591.9 323,582.8 324,582.8 325,582.8 326,582.8 327,582.8 328,596.7 329,610.5 330,624.4 331,638.2 332,641.0 333,641.0 334,641.0 335,652.0 336,667.6 337,683.3 338,705.2 339,736.5 340,746.8 341,734.6 342,732.6 343,730.6 344,728.7 345,726.7 346,725.2 347,725.2 348,725.2 349,725.2 350,725.2 351,732.3 352,747.4 353,744.4 354,744.4 355,744.4 356,744.4 357,744.4 358,754.3 359,764.2 360,772.0 361,764.7 362,757.4 363,750.0 364,746.4 365,746.4 366,746.4 367,746.4 368,746.4 369,755.9 370,770.1 371,784.2 372,798.4 373,812.5 374,826.7 375,840.1 376,850.6 377,861.0 378,871.5 379,856.5 380,836.4 381,816.6 382,796.7 383,776.8 384,756.9 385,747.0 386,747.0 387,747.0 388,747.0 389,747.0 390,771.7 391,808.4 392,845.2 393,870.5 394,878.8 395,887.0 396,879.2 397,871.5 398,867.6 399,867.6 400,867.6 401,867.6 402,867.6 403,871.2 404,868.5 405,852.5 406,836.6 407,820.7 408,804.8 409,792.9 410,792.9 411,792.9 412,792.9 413,792.9 414,804.0 415,835.8 416,833.2 417,820.0 418,820.0 419,820.0 420,820.0 421,820.0 422,825.8 423,849.0 424,872.2 425,895.4 426,919.2 427,943.7 428,955.9 429,949.8 430,949.8 431,949.8 432,949.8 433,949.8 434,967.6 435,1004.1 436,990.7 437,977.6 438,968.8 439,960.1 440,951.3 441,942.6 442,936.0 443,936.0 444,936.0 445,936.0 446,936.0 447,943.4 448,944.9 449,931.4 450,921.3 451,921.3 452,921.3 453,921.3 454,921.3 455,928.0 456,918.6 457,851.2 458,766.7 459,766.7 460,766.7 461,766.7 462,766.7 463,776.0 464,813.4 465,850.8 466,884.4 467,871.9 468,865.6 469,865.6 470,865.6 471,865.6 472,865.6 473,870.5 474,870.2 475,863.6 476,858.6 477,858.6 478,858.6 479,858.6 480,858.6 481,866.7 482,882.8 483,898.9 484,915.0 485,924.2 486,919.3 487,912.6 488,905.9 489,899.3 490,892.6 491,890.9 492,890.9 493,890.9 494,890.9 495,881.4 496,848.0 497,823.0 498,823.0 499,823.0 500,823.0 501,823.0 502,823.9 503,825.8 504,827.7 505,828.9 506,828.0 507,827.1 508,826.2 509,826.2 510,826.2 511,826.2 512,826.2 513,831.5 514,857.7 515,884.0 516,910.3 517,924.9 518,920.0 519,920.0 520,920.0 521,920.0 522,920.0 523,927.6 524,908.7 525,903.8 526,903.8 527,903.8 528,903.8 529,903.8 530,919.0 531,934.1 532,942.6 533,899.5 534,857.7 535,840.2 536,822.7 537,805.2 538,787.6 539,774.5 540,774.5 541,774.5 542,774.5 543,774.5 544,783.3 545,800.8 546,818.3 547,835.8 548,853.3 549,872.9 550,893.4 551,913.8 552,934.3 553,954.7 554,972.4 555,989.5 556,1006.5 557,1019.6 558,1008.8 559,1007.5 560,1007.5 561,1007.5 562,1007.5 563,1007.5 564,1010.1 565,1003.1 566,994.8 567,987.8 568,987.8 569,987.8 570,987.8 571,987.8 572,987.8 573,987.8 574,987.8 575,987.8 576,992.1 577,1013.7 578,1017.2 579,1005.7 580,1004.0 581,1004.0 582,1004.0 583,1004.0 584,1004.0 585,1004.0 586,1004.0 587,1004.0 588,1004.0 589,1015.5 590,1024.2 591,1012.4 592,998.6 593,984.8 594,971.0 595,957.1 596,953.7 597,953.7 598,953.7 599,953.7 600,953.7 601,975.9 602,1002.2 603,1009.1 604,1001.5 605,992.9 606,984.4 607,975.9 608,967.3 609,965.2 610,965.2 611,965.2 612,965.2 613,965.2 614,989.7 615,999.6 616,986.1 617,982.2 618,982.2 619,982.2 620,982.2 621,982.2 622,974.0 623,964.2 624,958.7 625,956.7 626,954.7 627,952.6 628,950.6 629,948.6 630,946.3 631,942.3 632,938.2 633,934.2 634,926.5 635,918.6 636,910.8 637,908.8 638,908.8 639,908.8 640,908.8 641,908.8 642,920.7 643,934.9 644,917.8 645,897.4 646,892.3 647,892.3 648,892.3 649,892.3 650,892.3 651,907.8 652,927.3 653,946.7 654,966.2 655,974.1 656,982.0 657,990.0 658,987.6 659,983.0 660,978.5 661,971.1 662,960.2 663,949.3 664,938.4 665,927.5 666,916.6 667,916.6 668,916.6 669,916.6 670,916.6 671,919.6 672,936.9 673,953.9 674,947.5 675,947.5 676,947.5 677,947.5 678,947.5 679,952.5 680,960.6 681,968.7 682,976.7 683,984.8 684,991.4 685,997.8 686,999.0 687,986.2 688,973.3 689,973.3 690,973.3 691,973.3 692,973.3 693,974.4 694,965.6 695,946.4 696,927.1 697,907.9 698,893.5 699,893.5 700,893.5 701,893.5 702,893.5 703,903.4 704,923.3 705,943.2 706,963.1 707,982.9 708,994.9 709,1003.5 710,1012.0 711,1020.6 712,1029.2 713,1046.5 714,1066.0 715,1085.5 716,1105.0 717,1122.0 718,1116.1 719,1106.1 720,1083.9 721,1061.7 722,1039.5 723,1017.2 724,993.1 725,966.7 726,940.3 727,917.7 728,917.0 729,916.3 730,915.6 731,914.9 732,909.7 733,895.8 734,882.0 735,868.1 736,854.3 737,847.4 738,847.4 739,847.4 740,847.4 741,847.4 742,855.6 743,868.4 744,879.5 745,868.7 746,863.3 747,863.3 748,863.3 749,863.3 750,863.3 751,879.0 752,902.2 753,925.5 754,948.7 755,950.5 756,949.4 757,938.4 758,927.3 759,916.2 760,913.9 761,913.3 762,912.6 763,912.0 764,911.3 765,863.3 766,812.8 767,762.3 768,749.7 769,749.7 770,749.7 771,749.7 772,749.7 773,772.6 774,795.5 775,807.6 776,801.4 777,801.4 778,801.4 779,801.4 780,801.4 781,801.4 782,801.4 783,820.5 784,847.8 785,875.1 786,912.7 787,960.6 788,1008.6 789,1048.7 790,1057.5 791,1066.2 792,1075.0 793,1083.7 794,1090.1 795,1079.3 796,1061.1 797,1041.5 798,994.9 799,948.2 800,924.9 801,924.9 802,924.9 803,924.9 804,924.9 805,936.2 806,955.7 807,947.7 808,947.7 809,947.7 810,947.7 811,947.7 812,956.5 813,970.2 814,983.9 815,988.9 816,988.9 817,988.9 818,988.9 819,1004.7 820,1036.2 821,1022.8 822,990.5 823,966.2 824,966.2 825,966.2 826,966.2 827,966.2 828,977.5 829,1000.0 830,1022.6 831,1035.2 832,1020.7 833,1006.2 834,991.6 835,977.1 836,958.9 837,929.6 838,900.3 839,874.0 840,874.0 841,874.0 842,874.0 843,874.0 844,881.3 845,910.6 846,939.8 847,967.7 848,982.4 849,997.1 850,999.4 851,999.4 852,999.4 853,999.4 854,1006.1 855,1018.6 856,1017.9 857,1005.0 858,1005.0 859,1005.0 860,1005.0 861,1005.0 862,1012.3 863,1026.9 864,1041.5 865,1056.2 866,1070.1 867,1082.6 868,1080.0 869,1036.2 870,990.7 871,945.3 872,925.1 873,913.3 874,901.6 875,895.7 876,895.7 877,895.7 878,895.7 879,895.7 880,904.5 881,908.3 882,908.3 883,908.3 884,908.3 885,908.3 886,909.6 887,914.9 888,920.2 889,925.5 890,930.8 891,938.8 892,950.9 893,963.0 894,973.7 895,978.7 896,983.6 897,974.7 898,953.9 899,933.0 900,912.1 901,905.9 902,905.9 903,905.9 904,905.9 905,905.9 906,911.3 907,918.6 908,925.9 909,933.1 910,940.4 911,963.6 912,986.8 913,1010.1 914,1018.5 915,1023.2 916,1022.9 917,1017.6 918,1012.3 919,1008.6 920,1005.1 921,1001.7 922,998.2 923,997.3 924,997.3 925,997.3 926,997.3 927,997.3 928,1004.7 929,1013.3 930,1021.8 931,1033.4 932,1046.3 933,1043.6 934,1034.2 935,1011.2 936,980.9 937,950.7 938,930.3 939,922.2 940,914.1 941,906.0 942,897.8 943,892.4 944,888.5 945,884.6 946,880.6 947,876.7 948,865.1 949,851.0 950,837.0 951,822.9 952,808.8 953,798.2 954,798.2 955,798.2 956,798.2 957,798.2 958,804.9 959,818.2 960,831.6 961,845.0 962,858.3 963,871.7 964,889.8 965,910.1 966,930.3 967,950.7 968,971.3 969,961.1 970,949.2 971,937.3 972,931.3 973,931.3 974,931.3 975,931.3 976,931.3 977,949.1 978,975.3 979,975.3 980,962.4 981,949.5 982,936.5 983,923.6 984,916.4 985,913.9 986,911.3 987,908.8 988,906.3 989,903.8 990,901.9 991,901.9 992,901.9 993,901.9 994,901.9 995,902.8 996,905.8 997,908.8 998,907.6 999,899.6 1000,895.5 1001,895.5 1002,895.5 1003,895.5 1004,895.5 1005,900.7 1006,908.6 1007,903.0 1008,890.9 1009,878.7 1010,875.7 1011,875.7 1012,875.7 1013,875.7 1014,875.7 1015,887.6 1016,899.5 1017,911.4 1018,918.4 1019,914.7 1020,914.7 1021,914.7 1022,914.7 1023,914.7 1024,915.7 1025,919.7 1026,923.7 1027,927.6 1028,931.6 1029,935.6 1030,939.6 1031,944.2 1032,940.7 1033,928.0 1034,918.6 1035,913.2 1036,907.8 1037,902.4 1038,898.4 1039,898.4 1040,898.4 1041,898.4 1042,898.4 1043,903.2 1044,912.7 1045,922.3 1046,931.8 1047,941.4 1048,950.5 1049,955.8 1050,961.1 1051,966.4 1052,971.8 1053,977.1 1054,982.4 1055,970.6 1056,956.1 1057,941.6 1058,930.7 1059,930.7 1060,930.7 1061,930.7 1062,930.7 1063,941.8 1064,964.0 1065,967.1 1066,960.7 1067,960.7 1068,960.7 1069,960.7 1070,960.7 1071,964.6 1072,976.8 1073,988.9 1074,999.7 1075,994.2 1076,988.7 1077,983.2 1078,983.2 1079,983.2 1080,983.2 1081,983.2 1082,983.7 1083,996.8 1084,1010.0 1085,1023.1 1086,1038.9 1087,1025.0 1088,1002.3 1089,989.1 1090,983.7 1091,978.3 1092,972.9 1093,967.6 1094,966.2 1095,966.2 1096,966.2 1097,966.2 1098,966.2 1099,972.7 1100,979.2 1101,985.6 1102,992.1 1103,997.3 1104,994.0 1105,989.4 1106,983.5 1107,977.6 1108,971.6 1109,965.7 1110,963.3 1111,963.3 1112,963.3 1113,963.3 1114,963.3 1115,967.2 1116,972.5 1117,977.8 1118,983.1 1119,988.4 1120,998.0 1121,1008.1 1122,1018.2 1123,1028.3 1124,1037.6 1125,1040.0 1126,1042.4 1127,1044.8 1128,1038.0 1129,1013.1 1130,988.2 1131,963.3 1132,938.4 1133,938.4 1134,938.4 1135,938.4 1136,938.4 1137,940.1 1138,954.6 1139,969.1 1140,983.6 1141,998.1 1142,1005.0 1143,1005.0 1144,1005.0 1145,1005.0 1146,1005.0 1147,1009.4 1148,1018.1 1149,1026.8 1150,1032.7 1151,1016.2 1152,999.7 1153,983.2 1154,983.2 1155,983.2 1156,983.2 1157,983.2 1158,984.8 1159,997.0 1160,1009.2 1161,1021.4 1162,1033.6 1163,1045.8 1164,1045.4 1165,1026.3 1166,1007.1 1167,991.2 1168,981.1 1169,971.0 1170,963.3 1171,963.3 1172,963.3 1173,963.3 1174,963.3 1175,964.8 1176,970.7 1177,966.0 1178,954.7 1179,943.4 1180,932.1 1181,920.8 1182,909.5 1183,899.3 1184,892.3 1185,885.3 1186,878.4 1187,871.4 1188,864.4 1189,857.4 1190,855.7 1191,855.7 1192,855.7 1193,855.7 1194,855.7 1195,875.5 1196,895.3 1197,915.1 1198,934.9 1199,955.0 1200,978.1 1201,1000.1 1202,981.4 1203,971.8 1204,963.8 1205,955.8 1206,947.8 1207,939.9 1208,931.9 1209,923.9 1210,915.9 1211,913.9 1212,913.9 1213,913.9 1214,913.9 1215,913.9 1216,924.4 1217,935.0 1218,944.5 1219,937.0 1220,929.5 1221,920.1 1222,910.7 1223,901.2 1224,891.8 1225,882.4 1226,872.9 1227,870.3 1228,870.3 1229,870.3 1230,870.3 1231,870.3 1232,894.0 1233,925.7 1234,957.3 1235,988.9 1236,1020.6 1237,1020.6 1238,1020.6 1239,1020.6 1240,1020.6 1241,996.5 1242,971.1 1243,945.7 1244,920.3 1245,908.4 1246,901.0 1247,893.6 1248,886.2 1249,878.8 1250,877.8 1251,877.1 1252,876.4 1253,875.7 1254,875.0 1255,872.4 1256,869.9 1257,867.3 1258,865.4 1259,865.4 1260,865.4 1261,865.4 1262,865.4 1263,871.9 1264,885.0 1265,898.1 1266,899.0 1267,895.0 1268,895.0 1269,895.0 1270,895.0 1271,895.0 1272,903.7 1273,926.5 1274,949.4 1275,972.3 1276,995.2 1277,971.2 1278,931.0 1279,890.8 1280,887.7 1281,887.7 1282,887.7 1283,887.7 1284,887.7 1285,916.6 1286,945.5 1287,968.9 1288,968.9 1289,968.9 1290,968.9 1291,968.9 1292,987.1 1293,1005.2 1294,1023.4 1295,1028.2 1296,1029.7 1297,1031.2 1298,1032.7 1299,1034.2 1300,1035.7 1301,1038.9 1302,1046.2 1303,1053.6 1304,1060.9 1305,1060.5 1306,1051.8 1307,1043.1 1308,1034.4 1309,1027.2 1310,1027.2 1311,1027.2 1312,1027.2 1313,1027.2 1314,1025.6 1315,1003.1 1316,980.6 1317,959.8 1318,959.8 1319,959.8 1320,959.8 1321,959.8 1322,962.6 1323,974.1 1324,985.5 1325,996.4 1326,990.9 1327,985.4 1328,980.0 1329,978.6 1330,978.6 1331,978.6 1332,978.6 1333,978.6 1334,991.4 1335,1003.7 1336,985.1 1337,979.5 1338,979.5 1339,979.5 1340,979.5 1341,979.5 1342,983.8 1343,973.1 1344,956.9 1345,940.8 1346,924.6 1347,916.5 1348,916.5 1349,916.5 1350,916.5 1351,916.5 1352,922.2 1353,931.4 1354,940.7 1355,949.9 1356,959.1 1357,971.2 1358,961.1 1359,961.1 1360,961.1 1361,961.1 1362,961.1 1363,961.6 1364,963.6 1365,965.6 1366,967.7 1367,969.7 1368,973.0 1369,955.1 1370,926.8 1371,900.8 1372,887.5 1373,874.1 1374,874.1 1375,874.1 1376,874.1 1377,874.1 1378,874.1 1379,893.7 1380,913.3 1381,925.0 1382,916.9 1383,908.2 1384,899.4 1385,890.7 1386,887.2 1387,887.2 1388,887.2 1389,887.2 1390,887.2 1391,894.8 1392,904.8 1393,914.9 1394,925.0 1395,935.1 1396,946.3 1397,951.5 1398,930.6 1399,909.7 1400,889.8 1401,886.9 1402,884.1 1403,883.4 1404,883.4 1405,883.4 1406,883.4 1407,883.4 1408,912.0 1409,940.6 1410,964.3 1411,980.4 1412,972.2 1413,965.1 1414,965.1 1415,965.1 1416,965.1 1417,965.1 1418,969.2 1419,981.7 1420,974.0 1421,951.0 1422,939.6 1423,939.6 1424,939.6 1425,939.6 1426,939.6 1427,946.8 1428,958.8 1429,970.9 1430,982.9 1431,997.5 1432,1003.0 1433,969.9 1434,939.5 1435,939.5 1436,939.5 1437,939.5 1438,939.5 1439,944.8 1440,965.9 1441,987.1 1442,1002.2 1443,986.4 1444,970.5 1445,954.7 1446,938.9 1447,922.4 1448,902.2 1449,882.0 1450,861.8 1451,859.9 1452,858.9 1453,857.9 1454,856.9 1455,855.9 1456,854.9 1457,854.4 1458,854.4 1459,854.4 1460,854.4 1461,854.4 1462,867.0 1463,885.2 1464,903.4 1465,921.6 1466,939.8 1467,922.6 1468,904.3 1469,904.3 1470,904.3 1471,904.3 1472,904.3 1473,906.8 1474,916.9 1475,927.0 1476,931.9 1477,929.0 1478,929.0 1479,929.0 1480,929.0 1481,929.0 1482,945.2 1483,968.8 1484,975.0 1485,940.9 1486,921.9 1487,921.3 1488,920.6 1489,919.9 1490,919.3 1491,916.5 1492,911.8 1493,907.2 1494,902.6 1495,900.3 1496,900.3 1497,900.3 1498,900.3 1499,900.3 1500,922.0 1501,959.2 1502,996.5 1503,1030.1 1504,1026.8 1505,1025.9 1506,1025.9 1507,1025.9 1508,1025.9 1509,1025.9 1510,1036.8 1511,1049.2 1512,1061.7 1513,1074.1 1514,1097.7 1515,1121.2 1516,1144.8 1517,1162.7 1518,1147.9 1519,1133.1 1520,1118.2 1521,1116.6 1522,1116.6 1523,1116.6 1524,1116.6 1525,1116.6 1526,1115.5 1527,1084.1 1528,1052.8 1529,1032.9 1530,1016.7 1531,1000.6 1532,994.0 1533,994.0 1534,994.0 1535,994.0 1536,994.0 1537,1004.3 1538,1018.0 1539,1031.7 1540,1051.1 1541,1040.6 1542,1039.1 1543,1039.1 1544,1039.1 1545,1039.1 1546,1021.3 1547,999.8 1548,978.2 1549,956.7 1550,950.9 1551,950.3 1552,949.7 1553,949.2 1554,948.6 1555,948.0 1556,948.0 1557,948.0 1558,948.0 1559,948.0 1560,949.7 1561,958.0 1562,966.3 1563,974.6 1564,974.1 1565,963.6 1566,953.2 1567,942.8 1568,932.4 1569,932.4 1570,932.4 1571,932.4 1572,932.4 1573,932.7 1574,937.0 1575,941.2 1576,945.5 1577,955.0 1578,934.2 1579,916.1 1580,901.9 1581,889.4 1582,889.4 1583,889.4 1584,889.4 1585,889.4 1586,894.9 1587,916.8 1588,938.8 1589,960.7 1590,979.2 1591,992.3 1592,1005.5 1593,1016.8 1594,1020.7 1595,1019.5 1596,1002.9 1597,986.3 1598,971.8 1599,963.3 1600,954.9 1601,946.5 1602,938.0 1603,929.6 1604,921.1 1605,919.0 1606,919.0 1607,919.0 1608,919.0 1609,919.0 1610,941.2 1611,963.4 1612,985.6 1613,986.1 1614,977.5 1615,968.9 1616,964.6 1617,964.6 1618,964.6 1619,964.6 1620,964.6 1621,970.3 1622,979.1 1623,987.8 1624,987.0 1625,981.7 1626,979.9 1627,979.2 1628,978.6 1629,977.9 1630,977.2 1631,977.2 1632,977.2 1633,977.2 1634,977.2 1635,977.6 1636,979.6 1637,981.6 1638,983.5 1639,985.5 1640,989.5 1641,998.3 1642,1007.0 1643,1004.8 1644,997.4 1645,993.6 1646,993.6 1647,993.6 1648,993.6 1649,993.6 1650,994.2 1651,984.4 1652,974.4 1653,964.5 1654,961.7 1655,961.7 1656,961.7 1657,961.7 1658,961.7 1659,965.0 1660,969.5 1661,973.2 1662,965.8 1663,958.3 1664,951.5 1665,951.5 1666,951.5 1667,951.5 1668,951.5 1669,952.7 1670,957.3 1671,948.0 1672,936.0 1673,927.0 1674,927.0 1675,927.0 1676,927.0 1677,927.0 1678,932.6 1679,943.7 1680,954.9 1681,966.1 1682,977.8 1683,976.5 1684,962.6 1685,948.7 1686,948.5 1687,948.5 1688,948.5 1689,948.5 1690,948.5 1691,938.8 1692,919.6 1693,912.2 1694,912.2 1695,912.2 1696,912.2 1697,912.2 1698,932.5 1699,959.4 1700,986.3 1701,1001.6 1702,979.7 1703,957.8 1704,935.9 1705,934.0 1706,934.0 1707,934.0 1708,934.0 1709,934.0 1710,947.9 1711,961.9 1712,975.8 1713,979.4 1714,979.4 1715,979.4 1716,979.4 1717,979.4 1718,981.2 1719,1001.8 1720,1012.4 1721,997.4 1722,997.4 1723,997.4 1724,997.4 1725,997.4 1726,997.9 1727,999.9 1728,998.9 1729,994.1 1730,989.6 1731,988.6 1732,987.6 1733,986.6 1734,985.6 1735,984.6 1736,965.0 1737,942.1 1738,923.4 1739,917.3 1740,911.3 1741,905.2 1742,899.1 1743,888.8 1744,875.0 1745,861.3 1746,847.5 1747,847.5 1748,847.5 1749,847.5 1750,847.5 1751,852.8 1752,882.6 1753,902.0 1754,901.6 1755,901.6 1756,901.6 1757,901.6 1758,901.6 1759,912.1 1760,922.5 1761,933.0 1762,943.4 1763,953.9 1764,965.0 1765,976.3 1766,987.5 1767,998.8 1768,1008.9 1769,1018.8 1770,1028.7 1771,1038.7 1772,1055.8 1773,1045.6 1774,1033.0 1775,1021.1 1776,1009.1 1777,997.2 1778,988.0 1779,988.0 1780,988.0 1781,988.0 1782,988.0 1783,986.2 1784,964.8 1785,943.4 1786,922.0 1787,916.6 1788,916.6 1789,916.6 1790,916.6 1791,916.6 1792,950.9 1793,984.4 1794,967.2 1795,955.7 1796,954.7 1797,953.7 1798,952.7 1799,951.7 1800,950.9 1801,950.9 1802,950.9 1803,950.9 1804,950.9 1805,954.0 1806,959.4 1807,949.5 1808,943.0 1809,943.0 1810,943.0 1811,943.0 1812,943.0 1813,943.2 1813,944.3 1812,947.0 1811,956.9 1810,966.9 1809,976.8 1808,981.8 1807,981.8 1806,981.8 1805,981.8 1804,981.8 1803,975.8 1802,967.9 1801,959.9 1800,955.4 1799,962.9 1798,980.1 1797,997.4 1796,1014.6 1795,1031.8 1794,1041.9 1793,1041.9 1792,1041.9 1791,1041.9 1790,1041.9 1789,1021.6 1788,981.2 1787,1002.2 1786,1012.9 1785,1012.9 1784,1012.9 1783,1012.9 1782,1012.9 1781,1007.9 1780,1018.1 1779,1030.0 1778,1042.5 1777,1055.1 1776,1067.8 1775,1080.4 1774,1090.1 1773,1090.1 1772,1090.1 1771,1090.1 1770,1090.1 1769,1085.8 1768,1068.7 1767,1051.5 1766,1036.2 1765,1026.3 1764,1016.3 1763,1006.4 1762,996.0 1761,984.7 1760,973.4 1759,962.2 1758,951.3 1757,940.8 1756,930.4 1755,919.9 1754,909.4 1753,909.2 1752,909.2 1751,909.2 1750,909.2 1749,909.2 1748,904.9 1747,897.6 1746,903.7 1745,909.7 1744,915.8 1743,921.9 1742,936.4 1741,959.2 1740,982.1 1739,985.3 1738,986.3 1737,987.3 1736,988.3 1735,989.3 1734,992.9 1733,997.7 1732,1002.5 1731,1007.2 1730,1007.4 1729,1007.4 1728,1007.4 1727,1007.4 1726,1007.4 1725,1008.5 1724,1024.4 1723,1040.3 1722,1056.2 1721,1058.4 1720,1058.4 1719,1058.4 1718,1058.4 1717,1058.4 1716,1037.8 1715,1017.2 1714,996.7 1713,986.7 1712,986.7 1711,986.7 1710,986.7 1709,986.7 1708,986.3 1707,974.2 1706,996.1 1705,1018.0 1704,1018.0 1703,1018.0 1702,1018.0 1701,1018.0 1700,1017.9 1699,1017.4 1698,1016.8 1697,1016.3 1696,1006.6 1695,979.6 1694,960.7 1693,960.7 1692,960.7 1691,960.7 1690,960.7 1689,959.1 1688,973.0 1687,986.9 1686,1000.7 1685,1014.6 1684,1014.6 1683,1014.6 1682,1014.6 1681,1014.6 1680,1014.0 1679,1000.9 1678,987.7 1677,974.6 1676,963.3 1675,957.1 1674,969.1 1673,973.4 1672,973.4 1671,973.4 1670,973.4 1669,973.4 1668,970.0 1667,965.4 1666,971.3 1665,978.7 1664,986.2 1663,986.2 1662,986.2 1661,986.2 1660,986.2 1659,986.2 1658,981.8 1657,977.3 1656,981.9 1655,991.8 1654,999.5 1653,999.5 1652,999.5 1651,999.5 1650,999.5 1649,999.2 1648,1002.9 1647,1010.4 1646,1017.8 1645,1025.2 1644,1028.9 1643,1028.9 1642,1028.9 1641,1028.9 1640,1028.9 1639,1022.3 1638,1013.6 1637,1004.8 1636,996.1 1635,987.3 1634,985.0 1633,983.0 1632,981.1 1631,979.7 1630,980.4 1629,985.7 1628,990.9 1627,996.2 1626,1001.5 1625,1005.4 1624,1005.4 1623,1005.4 1622,1005.4 1621,1005.4 1620,1003.1 1619,994.4 1618,985.6 1617,992.5 1616,1001.1 1615,1005.4 1614,1005.4 1613,1005.4 1612,1005.4 1611,1005.4 1610,1002.9 1609,997.8 1608,992.8 1607,980.0 1606,957.8 1605,952.8 1604,961.2 1603,969.7 1602,982.2 1601,998.8 1600,1015.4 1599,1032.0 1598,1038.2 1597,1038.2 1596,1038.2 1595,1038.2 1594,1038.2 1593,1035.3 1592,1031.4 1591,1027.5 1590,1023.6 1589,1019.7 1588,1015.3 1587,1002.2 1586,989.0 1585,975.9 1584,955.2 1583,933.3 1582,953.2 1581,978.4 1580,1003.7 1579,1003.7 1578,1003.7 1577,1003.7 1576,1003.7 1575,1003.5 1574,985.9 1573,968.3 1572,950.6 1571,950.6 1570,961.0 1569,971.4 1568,981.9 1567,992.3 1566,992.7 1565,992.7 1564,992.7 1563,992.7 1562,992.7 1561,988.7 1560,984.6 1559,980.6 1558,972.5 1557,964.2 1556,955.9 1555,950.7 1554,951.3 1553,972.8 1552,994.4 1551,1015.9 1550,1037.5 1549,1053.7 1548,1053.7 1547,1053.7 1546,1053.7 1545,1053.7 1544,1063.4 1543,1076.5 1542,1089.6 1541,1092.9 1540,1092.9 1539,1092.9 1538,1092.9 1537,1092.9 1536,1069.8 1535,1044.8 1534,1028.8 1533,1045.0 1532,1076.3 1531,1107.6 1530,1138.9 1529,1144.9 1528,1144.9 1527,1144.9 1526,1144.9 1525,1144.9 1524,1138.9 1523,1144.2 1522,1159.0 1521,1173.9 1520,1187.2 1519,1187.2 1518,1187.2 1517,1187.2 1516,1187.2 1515,1187.2 1514,1187.2 1513,1186.0 1512,1162.5 1511,1138.9 1510,1115.3 1509,1091.8 1508,1071.0 1507,1058.6 1506,1046.1 1505,1039.3 1504,1042.7 1503,1044.3 1502,1044.3 1501,1044.3 1500,1044.3 1499,1044.3 1498,1024.5 1497,987.2 1496,949.9 1495,919.1 1494,919.8 1493,920.4 1492,921.1 1491,921.7 1490,932.4 1489,966.4 1488,1000.5 1487,1034.5 1486,1051.5 1485,1051.5 1484,1051.5 1483,1051.5 1482,1051.5 1481,1033.8 1480,1010.2 1479,986.6 1478,962.9 1477,950.7 1476,950.7 1475,950.7 1474,950.7 1473,950.7 1472,944.7 1471,940.0 1470,963.3 1469,975.6 1468,975.6 1467,975.6 1466,975.6 1465,975.6 1464,970.2 1463,959.4 1462,948.6 1461,935.2 1460,917.0 1459,898.9 1458,880.7 1457,862.5 1456,859.6 1455,860.6 1454,877.0 1453,897.1 1452,917.3 1451,934.9 1450,950.7 1449,966.6 1448,982.4 1447,998.3 1446,1003.5 1445,1004.1 1444,1004.8 1443,1005.5 1442,1006.1 1441,1006.1 1440,1006.1 1439,1006.1 1438,1006.1 1437,1003.0 1436,1027.9 1435,1061.0 1434,1066.7 1433,1066.7 1432,1066.7 1431,1066.7 1430,1066.7 1429,1048.2 1428,1029.8 1427,1011.3 1426,992.9 1425,979.9 1424,991.2 1423,1014.1 1422,1025.6 1421,1025.6 1420,1025.6 1419,1025.6 1418,1025.6 1417,1016.2 1416,1003.7 1415,991.1 1414,998.2 1413,1007.6 1412,1008.7 1411,1008.7 1410,1008.7 1409,1008.7 1408,1008.7 1407,992.5 1406,976.4 1405,960.2 1404,933.5 1403,925.4 1402,946.3 1401,967.1 1400,988.0 1399,988.4 1398,988.4 1397,988.4 1396,988.4 1395,988.4 1394,977.2 1393,966.0 1392,954.7 1391,943.5 1390,932.6 1389,922.5 1388,912.4 1387,914.8 1386,923.0 1385,931.1 1384,939.1 1383,947.2 1382,953.3 1381,953.3 1380,953.3 1379,953.3 1378,953.3 1377,947.6 1376,928.0 1375,919.8 1374,948.1 1373,976.3 1372,992.6 1371,992.6 1370,992.6 1369,992.6 1368,992.6 1367,990.3 1366,985.7 1365,981.1 1364,976.5 1363,971.9 1362,970.2 1361,983.3 1360,996.4 1359,1003.0 1358,1003.0 1357,1003.0 1356,1003.0 1355,1003.0 1354,993.5 1353,980.7 1352,968.0 1351,956.8 1350,947.6 1349,952.9 1348,969.1 1347,985.2 1346,997.3 1345,1002.7 1344,1002.7 1343,1002.7 1342,1002.7 1341,1002.7 1340,999.8 1339,1017.7 1338,1036.3 1337,1039.4 1336,1039.4 1335,1039.4 1334,1039.4 1333,1039.4 1332,1026.6 1331,1013.8 1330,1001.0 1329,1000.4 1328,1005.9 1327,1011.4 1326,1014.1 1325,1014.1 1324,1014.1 1323,1014.1 1322,1014.1 1321,1005.5 1320,997.5 1319,1020.0 1318,1033.3 1317,1033.3 1316,1033.3 1315,1033.3 1314,1033.3 1313,1032.6 1312,1040.9 1311,1049.6 1310,1058.3 1309,1067.1 1308,1075.8 1307,1082.9 1306,1082.9 1305,1082.9 1304,1082.9 1303,1082.9 1302,1081.0 1301,1073.7 1300,1066.4 1299,1059.0 1298,1051.7 1297,1044.4 1296,1037.1 1295,1035.3 1294,1033.8 1293,1032.3 1292,1030.8 1291,1029.3 1290,1027.8 1289,1018.8 1288,1000.7 1287,994.3 1286,994.3 1285,994.3 1284,994.3 1283,994.3 1282,967.2 1281,1001.3 1280,1017.1 1279,1017.1 1278,1017.1 1277,1017.1 1276,1017.1 1275,1014.8 1274,1011.7 1273,1008.6 1272,1005.5 1271,989.5 1270,966.6 1269,943.7 1268,920.8 1267,918.8 1266,920.1 1265,920.1 1264,920.1 1263,920.1 1262,920.1 1261,908.0 1260,894.9 1259,881.8 1258,875.6 1257,876.2 1256,876.9 1255,877.6 1254,878.3 1253,884.3 1252,891.7 1251,899.1 1250,906.5 1249,913.9 1248,939.3 1247,964.7 1246,990.1 1245,1015.5 1244,1037.8 1243,1037.8 1242,1037.8 1241,1037.8 1240,1037.8 1239,1036.5 1238,1030.9 1237,1025.3 1236,1020.6 1235,1020.6 1234,1020.6 1233,1020.6 1232,1020.6 1231,1012.7 1230,981.0 1229,949.4 1228,917.7 1227,908.3 1226,917.7 1225,927.2 1224,935.2 1223,942.6 1222,950.0 1221,957.4 1220,964.9 1219,964.9 1218,964.9 1217,964.9 1216,964.9 1215,964.0 1214,953.5 1213,942.9 1212,937.9 1211,945.9 1210,953.8 1209,961.8 1208,969.8 1207,977.8 1206,995.4 1205,1014.2 1204,1032.9 1203,1047.4 1202,1047.4 1201,1047.4 1200,1047.4 1199,1047.4 1198,1041.6 1197,1018.5 1196,995.4 1195,972.3 1194,949.7 1193,929.9 1192,910.1 1191,890.3 1190,883.6 1189,890.5 1188,897.5 1187,906.7 1186,918.0 1185,929.3 1184,940.6 1183,951.9 1182,963.2 1181,974.5 1180,985.8 1179,991.5 1178,991.5 1177,991.5 1176,991.5 1175,991.5 1174,987.0 1173,981.1 1172,988.6 1171,1002.4 1170,1021.5 1169,1040.6 1168,1059.8 1167,1078.9 1166,1088.5 1165,1088.5 1164,1088.5 1163,1088.5 1162,1088.5 1161,1079.4 1160,1067.2 1159,1055.0 1158,1042.8 1157,1030.6 1156,1018.4 1155,1028.6 1154,1045.1 1153,1061.6 1152,1061.6 1151,1061.6 1150,1061.6 1149,1061.6 1148,1059.4 1147,1050.7 1146,1042.0 1145,1033.3 1144,1024.6 1143,1015.9 1142,1008.1 1141,1008.3 1140,1008.3 1139,1008.3 1138,1008.3 1137,1008.3 1136,994.5 1135,982.0 1134,1006.9 1133,1031.8 1132,1056.7 1131,1056.7 1130,1056.7 1129,1056.7 1128,1056.7 1127,1056.1 1126,1053.7 1125,1051.3 1124,1049.0 1123,1046.6 1122,1044.2 1121,1041.8 1120,1039.4 1119,1035.9 1118,1025.8 1117,1015.7 1116,1005.6 1115,995.5 1114,987.0 1113,981.8 1112,976.5 1111,982.0 1110,987.9 1109,993.1 1108,996.5 1107,999.9 1106,1003.2 1105,1006.6 1104,1008.3 1103,1008.3 1102,1008.3 1101,1008.3 1100,1008.3 1099,1003.4 1098,997.0 1097,990.5 1096,984.0 1095,982.4 1094,987.8 1093,996.6 1092,1019.3 1091,1042.0 1090,1064.7 1089,1087.4 1088,1087.4 1087,1087.4 1086,1087.4 1085,1087.4 1084,1083.4 1083,1067.2 1082,1051.1 1081,1034.9 1080,1019.8 1079,1006.7 1078,1003.8 1077,1009.2 1076,1014.7 1075,1017.5 1074,1017.5 1073,1017.5 1072,1017.5 1071,1017.5 1070,1010.1 1069,998.0 1068,985.9 1067,990.7 1066,999.2 1065,1001.4 1064,1001.4 1063,1001.4 1062,1001.4 1061,1001.4 1060,980.7 1059,981.5 1058,996.0 1057,1001.3 1056,1001.3 1055,1001.3 1054,1001.3 1053,1001.3 1052,997.2 1051,991.9 1050,986.5 1049,981.1 1048,975.7 1047,970.4 1046,965.1 1045,959.8 1044,954.5 1043,948.6 1042,939.0 1041,929.5 1040,919.9 1039,917.2 1038,924.8 1037,937.5 1036,950.3 1035,963.0 1034,963.0 1033,963.0 1032,963.0 1031,963.0 1030,961.8 1029,957.1 1028,952.4 1027,947.7 1026,943.0 1025,938.6 1024,934.6 1023,930.6 1022,926.7 1021,925.5 1020,929.5 1019,933.6 1018,933.6 1017,933.6 1016,933.6 1015,933.6 1014,932.2 1013,920.3 1012,908.4 1011,912.1 1010,924.3 1009,933.4 1008,933.4 1007,933.4 1006,933.4 1005,933.4 1004,930.4 1003,922.5 1002,914.5 1001,920.7 1000,920.7 999,920.7 998,920.7 997,920.7 996,920.0 995,917.0 994,914.0 993,911.0 992,908.2 991,910.7 990,913.2 989,915.8 988,920.4 987,933.3 986,946.2 985,959.1 984,972.1 983,984.1 982,992.9 981,1001.6 980,1010.3 979,1014.7 978,1014.7 977,1014.7 976,1014.7 975,1014.7 974,995.0 973,970.1 972,982.0 971,994.0 970,1005.9 969,1007.3 968,1007.3 967,1007.3 966,1007.3 965,1007.3 964,986.7 963,966.1 962,945.5 961,925.2 960,905.0 959,884.8 958,868.3 957,855.0 956,841.6 955,833.4 954,847.5 953,861.6 952,875.7 951,879.6 950,883.6 949,887.5 948,891.5 947,895.8 946,903.9 945,912.1 944,920.2 943,928.3 942,943.1 941,973.4 940,1003.7 939,1031.8 938,1041.2 937,1050.6 936,1060.0 935,1069.4 934,1075.4 933,1075.4 932,1075.4 931,1075.4 930,1075.4 929,1068.9 928,1056.0 927,1043.1 926,1030.2 925,1019.7 924,1011.1 923,1011.2 922,1016.3 921,1021.5 920,1026.8 919,1032.1 918,1037.4 917,1037.4 916,1037.4 915,1037.4 914,1037.4 913,1036.2 912,1031.5 911,1026.8 910,1022.0 909,1017.3 908,1004.2 907,981.0 906,957.8 905,938.6 904,931.3 903,948.6 902,969.5 901,990.4 900,1004.8 899,1004.8 898,1004.8 897,1004.8 896,1004.8 895,1002.3 894,997.3 893,992.3 892,987.4 891,982.4 890,977.4 889,972.1 888,960.0 887,947.9 886,935.8 885,930.7 884,958.5 883,958.5 882,958.5 881,958.5 880,958.5 879,955.1 878,941.6 877,928.1 876,933.9 875,979.4 874,1024.8 873,1070.3 872,1088.3 871,1099.4 870,1110.6 869,1113.8 868,1113.8 867,1113.8 866,1113.8 865,1113.8 864,1104.4 863,1091.9 862,1079.5 861,1067.0 860,1052.5 859,1048.0 858,1059.4 857,1059.4 856,1059.4 855,1059.4 854,1059.4 853,1053.1 852,1040.6 851,1028.0 850,1015.5 849,1014.4 848,1014.4 847,1014.4 846,1014.4 845,1008.1 844,993.4 843,978.7 842,961.8 841,951.6 840,973.5 839,988.0 838,1002.5 837,1017.1 836,1031.6 835,1037.8 834,1038.5 833,1039.1 832,1039.8 831,1040.5 830,1040.5 829,1040.5 828,1040.5 827,1040.5 826,1039.5 825,1047.0 824,1079.4 823,1111.7 822,1119.8 821,1119.8 820,1119.8 819,1119.8 818,1119.8 817,1091.4 816,1059.9 815,1028.3 814,996.8 813,992.0 812,992.0 811,992.0 810,992.0 809,985.3 808,997.8 807,997.8 806,997.8 805,997.8 804,997.8 803,989.8 802,1029.8 801,1056.5 800,1074.7 799,1092.9 798,1102.0 797,1102.0 796,1102.0 795,1102.0 794,1102.0 793,1100.0 792,1097.4 791,1094.7 790,1092.1 789,1089.4 788,1081.6 787,1072.8 786,1064.1 785,1055.3 784,1044.6 783,996.6 782,948.7 781,900.7 780,868.2 779,841.0 778,838.4 777,856.1 776,858.5 775,858.5 774,858.5 773,858.5 772,858.5 771,835.6 770,850.7 769,901.2 768,911.8 767,912.5 766,913.1 765,913.8 764,914.4 763,924.5 762,935.6 761,946.7 760,950.4 759,950.9 758,951.4 757,951.9 756,952.4 755,952.9 754,953.3 753,953.3 752,953.3 751,953.3 750,953.3 749,942.9 748,919.6 747,898.3 746,906.7 745,906.7 744,906.7 743,906.7 742,906.7 741,903.5 740,890.8 739,878.5 738,892.4 737,906.2 736,914.8 735,915.5 734,916.2 733,916.8 732,917.5 731,933.7 730,960.1 729,986.5 728,1011.7 727,1033.9 726,1056.1 725,1078.4 724,1100.6 723,1114.6 722,1120.5 721,1126.4 720,1132.3 719,1138.1 718,1144.0 717,1144.0 716,1144.0 715,1144.0 714,1144.0 713,1139.1 712,1119.6 711,1100.1 710,1080.6 709,1061.1 708,1041.6 707,1027.0 706,1018.5 705,1009.9 704,1001.3 703,992.8 702,978.0 701,958.1 700,941.6 699,960.8 698,980.0 697,999.2 696,1004.0 695,1004.0 694,1004.0 693,1004.0 692,1004.0 691,997.1 690,1008.7 689,1021.5 688,1021.8 687,1021.8 686,1021.8 685,1021.8 684,1021.8 683,1015.4 682,1009.0 681,1002.6 680,996.2 679,989.8 678,982.8 677,974.7 676,976.2 675,988.9 674,988.9 673,988.9 672,988.9 671,988.9 670,984.6 669,967.2 668,949.9 667,957.5 666,968.4 665,977.4 664,981.9 663,986.4 662,991.0 661,995.5 660,1000.0 659,1004.5 658,1004.5 657,1004.5 656,1004.5 655,1004.5 654,1003.8 653,995.9 652,988.0 651,980.1 650,972.1 649,961.3 648,941.9 647,953.6 646,974.0 645,974.0 644,974.0 643,974.0 642,974.0 641,973.9 640,959.7 639,945.5 638,932.4 637,937.2 636,941.3 635,945.3 634,948.1 633,950.1 632,952.1 631,954.2 630,956.2 629,958.2 628,961.8 627,971.6 626,981.3 625,991.1 624,997.7 623,997.7 622,997.7 621,997.7 620,997.7 619,1009.7 618,1023.1 617,1036.6 616,1044.8 615,1044.8 614,1044.8 613,1044.8 612,1044.8 611,1032.5 610,1008.0 609,999.3 608,1007.6 607,1013.7 606,1019.8 605,1025.9 604,1032.0 603,1035.1 602,1035.1 601,1035.1 600,1035.1 599,1035.1 598,1021.9 597,995.6 596,1008.9 595,1021.9 594,1031.1 593,1040.4 592,1049.6 591,1058.9 590,1063.5 589,1063.5 588,1063.5 587,1063.5 586,1063.5 585,1044.3 584,1005.9 583,1014.3 582,1025.8 581,1037.2 580,1048.7 579,1057.3 578,1057.3 577,1057.3 576,1057.3 575,1057.3 574,1051.4 573,1029.9 572,1008.3 571,992.8 570,1001.0 569,1009.3 568,1017.5 567,1019.6 566,1019.6 565,1019.6 564,1019.6 563,1019.6 562,1017.5 561,1027.7 560,1038.5 559,1049.3 558,1052.0 557,1052.0 556,1052.0 555,1052.0 554,1052.0 553,1036.3 552,1019.3 551,1002.2 550,985.2 549,968.2 548,949.6 547,929.1 546,908.7 545,888.2 544,867.8 543,849.0 542,831.4 541,818.3 540,835.8 539,853.3 538,888.8 537,931.9 536,974.9 535,998.5 534,998.5 533,998.5 532,998.5 531,998.5 530,990.9 529,975.8 528,960.6 527,945.5 526,962.6 525,967.5 524,967.5 523,967.5 522,967.5 521,967.5 520,954.1 519,943.1 518,949.7 517,951.3 516,951.3 515,951.3 514,951.3 513,951.3 512,930.0 511,903.7 510,877.4 509,851.2 508,830.5 507,831.4 506,831.9 505,831.9 504,831.9 503,831.9 502,831.9 501,839.7 500,873.0 499,906.4 498,929.1 497,929.1 496,929.1 495,929.1 494,929.1 493,923.2 492,911.5 491,917.7 490,923.5 489,926.2 488,928.8 487,931.5 486,934.1 485,935.5 484,935.5 483,935.5 482,935.5 481,935.5 480,927.1 479,911.0 478,894.9 477,881.7 476,888.4 475,890.2 474,890.2 473,890.2 472,890.2 471,890.2 470,893.8 469,903.2 468,903.2 467,903.2 466,903.2 465,903.2 464,901.2 463,895.3 462,889.4 461,912.7 460,936.4 459,960.1 458,983.8 457,983.8 456,983.8 455,983.8 454,983.8 453,983.2 452,963.1 451,968.5 450,981.9 449,983.9 448,983.9 447,983.9 446,983.9 445,983.9 444,969.1 443,966.6 442,975.4 441,987.4 440,1000.8 439,1014.2 438,1027.6 437,1041.0 436,1054.4 435,1054.4 434,1054.4 433,1054.4 432,1054.4 431,1048.7 430,1002.3 429,986.2 428,986.6 427,986.6 426,986.6 425,986.6 424,986.6 423,962.1 422,937.6 421,913.1 420,889.6 419,866.4 418,874.8 417,890.0 416,891.4 415,891.4 414,891.4 413,891.4 412,891.4 411,859.6 410,848.6 409,864.5 408,880.4 407,894.1 406,894.1 405,894.1 404,894.1 403,894.1 402,892.7 401,887.0 400,885.0 399,892.8 398,900.6 397,905.6 396,905.6 395,905.6 394,905.6 393,905.6 392,901.5 391,893.2 390,884.9 389,876.7 388,868.4 387,836.0 386,811.6 385,831.5 384,851.5 383,871.7 382,891.9 381,905.5 380,905.5 379,905.5 378,905.5 377,905.5 376,900.2 375,889.8 374,879.3 373,868.9 372,858.4 371,847.9 370,837.3 369,823.1 368,809.0 367,794.8 366,780.7 365,770.2 364,777.5 363,784.8 362,792.2 361,792.2 360,792.2 359,792.2 358,792.2 357,791.4 356,781.5 355,771.6 354,780.8 353,782.3 352,782.3 351,782.3 350,782.3 349,782.3 348,764.1 347,745.9 346,734.1 345,743.6 344,756.4 343,769.2 342,782.0 341,794.7 340,794.7 339,794.7 338,794.7 337,794.7 336,791.3 335,760.0 334,728.7 333,697.4 332,679.4 331,663.7 330,648.0 329,641.0 328,641.0 327,641.0 326,634.8 325,655.9 324,665.8 323,665.8 322,665.8 321,665.8 320,665.8 319,661.8 318,658.5 317,667.8 316,677.0 315,686.2 314,713.5 313,740.9 312,768.2 311,795.5 310,800.2 309,800.2 308,800.2 307,800.2 306,800.2 305,783.6 304,767.0 303,757.7 302,758.3 301,758.8 300,759.4 299,759.9 298,759.9 297,759.9 296,759.9 295,759.9 294,759.4 293,771.9 292,802.5 291,833.2 290,863.8 289,894.5 288,917.5 287,917.5 286,917.5 285,917.5 284,917.5 283,906.7 282,879.3 281,852.0 280,861.5 279,867.2 278,867.2 277,867.2 276,867.2 275,867.2 274,840.0 273,803.7 272,767.3 271,749.2 270,768.0 269,793.5 268,819.1 267,844.7 266,857.5 265,857.5 264,857.5 263,857.5 262,857.5 261,856.0 260,854.0 259,853.2 258,855.2 257,857.1 256,857.1 255,857.1 254,857.1 253,857.1 252,857.1 251,849.0 250,841.0"/><polygon fill="#ff0000" stroke="none" points="1290.0,959.2 1296.2,969.5 1302.4,1031.5 1308.6,1023.2 1318.9,958.1 1325.1,981.9 1331.3,974.7 1339.6,990.2 1348.9,912.7 1356.2,957.1 1360.3,959.2 1366.5,969.5 1374.8,870.3 1381.0,893.0 1389.2,884.8 1395.4,928.2 1403.7,880.6 1409.9,955.0 1416.1,962.3 1424.4,938.5 1430.6,953.0 1435.7,935.4 1443.0,957.1 1447.0,900.0 1447.1,1008.8 1438.8,1012.9 1431.6,1068.7 1422.3,1027.4 1409.9,1010.9 1403.7,969.5 1397.5,992.2 1393.4,969.5 1387.2,961.2 1376.8,961.2 1369.6,996.4 1362.4,986.0 1356.2,1006.7 1350.0,982.0 1341.7,998.4 1335.5,1041.9 1329.3,1019.1 1323.0,1015.0 1316.9,1037.7 1310.7,1048.0 1304.5,1085.3 1296.2,1041.9 1290.0,1029.5"/><polygon fill="#ff0000" stroke="none" points="1447.0,900.0 1448.3,891.7 1452.4,858.6 1458.6,851.4 1464.8,902.0 1470.0,900.0 1475.1,926.8 1479.3,924.8 1485.5,937.2 1489.6,916.5 1497.9,895.8 1502.0,935.0 1506.1,1021.9 1510.3,1019.8 1518.6,1063.3 1526.8,1021.9 1534.0,989.9 1541.3,1009.5 1547.5,1001.2 1551.6,949.6 1557.8,943.4 1564.0,964.0 1570.2,931.0 1576.4,947.5 1582.6,886.5 1588.8,908.2 1593.0,964.0 1600.0,964.0 1600.0,1038.4 1593.0,1040.5 1584.7,1026.1 1578.5,1024.0 1572.3,1001.2 1564.0,1005.4 1551.6,1005.4 1545.4,1059.1 1539.2,1096.3 1531.0,1046.7 1526.8,1148.0 1524.8,1150.0 1520.6,1180.0 1516.5,1185.0 1512.3,1088.0 1508.2,1077.7 1500.0,1052.9 1493.7,997.1 1489.6,1038.4 1483.4,1055.0 1479.3,984.7 1473.1,947.5 1466.9,980.6 1460.7,951.6 1452.4,943.4 1447.1,1008.8"/><polygon fill="#ff0000" stroke="none" points="1600.0,964.0 1602.4,922.7 1607.6,915.5 1612.7,955.8 1616.9,961.0 1625.1,974.4 1637.5,978.5 1645.8,990.9 1652.0,964.0 1656.1,957.8 1662.4,968.2 1666.5,947.5 1674.8,923.7 1681.0,955.8 1687.2,947.5 1695.4,909.2 1701.6,945.4 1706.8,931.0 1714.0,976.4 1720.2,997.1 1730.6,988.8 1736.8,922.7 1743.0,902.0 1747.1,844.1 1747.1,922.7 1740.9,993.0 1734.7,1001.2 1726.4,1032.2 1719.2,1062.2 1709.9,1019.8 1702.7,1021.9 1697.5,1011.6 1691.3,1005.4 1683.0,1019.8 1676.8,988.8 1668.6,984.7 1660.3,988.8 1652.0,1015.7 1643.7,1033.3 1637.5,1003.3 1631.3,1005.4 1623.1,1011.6 1616.9,984.7 1608.6,1007.4 1602.4,1015.7 1600.0,1038.4 1596.2,1040.5"/><polygon fill="#ff0000" stroke="none" points="248.5,815.0 258.0,818.0 266.0,818.0 266.0,860.0 258.0,861.0 252.0,858.0 248.5,825.0"/><polygon fill="#ff0000" stroke="none" points="548.0,900.0 552.0,985.0 557.0,1000.0 565.2,993.8 571.4,985.5 576.0,1000.0 583.8,1000.0 590.0,990.0 598.3,950.4 606.6,964.8 611.7,962.8 615.0,1000.0 619.0,983.5 625.0,990.0 625.2,1016.6 619.0,1010.0 613.8,1047.6 606.0,1010.0 598.0,1000.0 592.0,1040.0 587.9,1068.3 582.0,1050.0 576.6,1062.0 565.0,1050.0 560.0,1040.0 555.9,1053.8 552.0,1030.0 548.0,960.0"/><polygon fill="#ff0000" stroke="none" points="1130.0,936.0 1140.0,938.0 1141.0,1000.0 1143.0,1004.0 1150.0,1006.0 1152.0,1010.0 1155.0,980.0 1160.0,977.6 1164.0,980.0 1166.0,960.0 1170.0,954.0 1175.0,950.0 1175.0,1000.0 1172.0,1040.0 1170.0,1060.0 1168.0,1094.0 1161.0,1094.0 1159.0,1060.0 1155.0,1050.0 1151.0,1065.6 1147.0,1063.0 1145.0,1030.0 1136.0,1030.0 1135.0,1059.0 1130.0,1059.0"/>
<polyline fill="none" stroke="#ff0000" points="249.7,818.8 254.5,857.5 259.4,848.0 264.2,857.5 269.0,734.7 274.0,751.0 277.2,867.2 282.0,812.3 285.9,919.0 291.7,741.2 296.6,760.0 301.4,757.3 304.6,736.3 308.5,801.0 312.7,686.2 317.6,641.0 322.4,666.9 324.7,582.8 328.9,641.0 332.0,641.0 335.3,692.7 338.6,796.0 343.4,734.7 348.3,725.0 351.5,783.2 354.7,744.4 359.6,792.9 366.0,746.0 372.5,838.0 379.0,906.0 382.2,841.4 387.0,746.0 390.3,867.2 395.0,906.0 400.0,867.2 404.8,894.7 411.3,791.3 414.5,893.0 419.4,818.8 423.2,907.0 426.5,987.8 431.3,949.0 433.6,1055.7 439.4,978.0 444.2,936.0 447.5,984.6 452.3,920.0 455.6,986.2 458.8,910.3 460.4,764.8 463.6,884.4 466.9,903.8 470.0,865.0 473.3,891.0 478.2,858.6 483.0,936.0 487.9,923.0 492.7,890.9 496.0,929.7 499.2,823.0 504.0,832.0 510.5,826.2 515.3,952.3 520.2,920.0 523.4,968.5 526.7,903.8 533.1,1000.8 536.4,858.6 541.2,774.5 546.0,858.6 550.9,958.8 556.4,1052.5 560.6,1007.2 565.4,1020.0 569.3,987.8 573.5,987.8 576.8,1059.0 581.6,1004.0 586.4,1004.0 588.0,1065.4 592.9,1020.0 597.8,952.3 601.0,1036.3 605.8,1007.0 610.7,965.2 614.0,1046.0 618.8,981.4 622.0,998.0 625.9,959.8 632.3,946.9 635.5,934.0 638.8,908.0 643.6,976.0 647.8,890.3 651.7,966.2 656.6,1005.0 663.0,976.0 668.5,916.1 672.7,988.9 676.0,946.9 680.8,985.6 686.6,1022.8 690.5,972.7 694.4,1005.0 700.2,893.5 705.0,988.9 709.9,1030.9 715.7,1144.0 721.2,1111.7 726.0,1005.0 729.3,917.8 734.1,914.5 739.0,846.7 743.8,908.0 748.0,862.8 751.9,953.3 758.4,950.0 761.6,914.5 766.5,911.3 769.7,749.7 774.5,859.6 777.8,801.4 780.0,801.4 783.2,888.7 786.5,1047.0 791.3,1089.0 796.2,1102.0 799.4,1043.8 802.0,922.6 805.9,998.6 809.0,946.9 812.3,992.1 816.2,988.9 820.4,1121.4 825.2,966.2 828.5,1040.6 833.3,1037.4 838.2,966.2 841.4,872.5 844.6,966.2 847.9,1014.7 851.1,998.6 856.0,1060.0 859.2,1005.0 863.4,1066.4 867.3,1115.0 870.5,1079.4 873.7,933.9 877.0,895.1 881.8,959.8 883.4,908.0 888.3,934.0 891.5,972.7 898.0,1005.0 902.8,904.8 907.7,940.4 910.9,1014.7 915.7,1037.4 920.6,1011.5 924.8,997.0 928.0,1024.4 932.0,1076.0 936.8,1030.9 940.0,934.0 944.8,895.0 949.7,875.7 955.2,798.2 961.0,875.7 964.2,940.4 967.5,1008.3 974.0,930.7 977.2,1014.7 980.9,982.4 985.9,917.8 992.3,901.6 998.8,921.0 1002.0,895.1 1006.9,934.0 1011.7,875.7 1016.6,934.0 1021.4,914.5 1027.9,940.4 1032.7,963.0 1036.0,921.0 1040.2,898.4 1045.6,950.0 1050.5,976.0 1055.3,1001.8 1060.2,930.7 1063.4,1001.8 1068.3,959.8 1073.1,1018.0 1079.6,982.4 1082.8,1024.4 1086.7,1087.4 1090.9,992.1 1095.7,966.2 1102.2,1008.3 1107.0,992.1 1111.9,963.0 1116.8,988.9 1121.6,1037.4 1129.7,1056.7 1134.5,937.2 1139.4,1008.3 1144.2,1005.0 1150.7,1061.6 1155.5,982.4 1164.2,1088.5 1169.1,994.7 1172.3,962.4 1177.2,991.5 1185.2,901.0 1191.7,855.7 1196.6,952.7 1200.8,1049.7 1204.6,978.6 1212.7,913.9 1217.6,965.6 1222.4,930.0 1228.9,868.7 1233.7,1020.6 1238.6,1020.6 1241.8,1038.4 1246.7,913.9 1251.5,878.4 1256.4,875.1 1260.2,865.4 1264.4,920.4 1269.3,894.5 1274.1,1004.4 1278.3,1017.4 1281.6,884.8 1285.4,994.7 1288.7,968.9 1291.9,1027.0 1298.4,1036.7 1304.8,1083.6 1311.3,1027.0 1316.1,1033.5 1319.4,959.2 1324.2,1014.1 1330.7,978.6 1335.5,1040.0 1338.8,978.6 1343.0,1003.0 1344.2,993.3 1349.0,915.7 1353.9,961.0 1357.2,1003.0 1360.4,961.0 1365.2,970.7 1370.1,993.3 1373.3,902.8 1375.6,872.1 1379.8,954.5 1384.6,915.7 1387.9,886.7 1392.7,935.1 1397.6,990.1 1402.4,889.9 1404.7,883.4 1407.3,957.8 1410.5,1009.5 1415.3,964.2 1420.2,1025.6 1424.0,938.4 1428.3,990.1 1432.5,1067.6 1436.4,938.4 1439.6,1006.2 1444.4,1003.0 1449.3,925.4 1452.5,860.8 1459.0,854.3 1463.8,941.6 1467.1,977.2 1470.3,902.8 1475.1,951.3 1479.0,928.7 1484.2,1051.5 1488.0,922.2 1492.9,919.0 1497.1,899.6 1501.0,1045.0 1506.8,1025.6 1510.7,1074.1 1515.5,1187.2 1517.8,1187.2 1522.6,1116.0 1527.5,1145.2 1530.7,1045.0 1533.9,993.3 1537.2,1038.6 1539.4,1093.5 1543.6,1038.6 1546.9,1054.7 1551.7,951.3 1557.5,948.0 1561.4,980.4 1564.6,993.3 1570.5,931.9 1574.3,948.0 1577.6,1006.2 1580.8,925.4 1583.4,888.3 1587.3,973.9 1590.5,1016.0 1596.3,1038.6 1600.2,973.9 1606.7,919.0 1609.9,990.0 1613.1,1006.2 1618.0,964.2 1622.8,1006.2 1627.7,980.4 1632.5,977.2 1637.4,986.9 1642.2,1028.9 1647.0,993.3 1651.9,999.8 1655.8,961.0 1661.6,986.9 1666.4,951.3 1671.3,973.9 1675.2,927.0 1679.4,973.9 1682.6,1016.0 1687.5,948.0 1692.3,961.0 1694.9,910.9 1698.8,1016.0 1702.7,1018.0 1706.6,932.6 1710.5,987.0 1715.6,979.2 1719.5,1059.4 1723.4,997.3 1728.6,1007.7 1732.4,989.6 1737.6,984.4 1740.2,924.9 1744.9,896.4 1748.5,846.8 1750.6,909.4 1755.7,901.6 1760.9,956.0 1764.8,999.9 1768.7,1038.7 1771.8,1091.8 1776.4,1033.6 1780.3,987.0 1784.2,1012.9 1788.8,914.5 1792.0,1043.9 1797.1,956.0 1802.3,950.8 1806.2,981.8 1810.1,943.0 1813.5,944.3"/>
</g>
<rect x="248.5" y="75.5" width="1565.0" height="1279.0" fill="none" stroke="#222" stroke-width="3"/>
<rect x="939.5" y="94.5" width="848" height="213" fill="#fff" stroke="#222" stroke-width="3"/>
<g stroke-width="9.3">
<line x1="968" y1="136.5" x2="1113" y2="136.5" stroke="#0000ff"/>
<line x1="968" y1="201" x2="1113" y2="201" stroke="#00ff00"/>
<line x1="968" y1="265.5" x2="1113" y2="265.5" stroke="#ff0000"/>
</g>
<text transform="translate(226.00,97.00) scale(0.9042,1)" font-size="51.42857142857143" text-anchor="end" fill="#262626">0.9</text>
<text transform="translate(225.60,225.15) scale(0.9042,1)" font-size="51.42857142857143" text-anchor="end" fill="#262626">0.8</text>
<text transform="translate(226.00,352.20) scale(0.9042,1)" font-size="51.42857142857143" text-anchor="end" fill="#262626">0.7</text>
<text transform="translate(226.00,480.55) scale(0.9042,1)" font-size="51.42857142857143" text-anchor="end" fill="#262626">0.6</text>
<text transform="translate(226.00,607.90) scale(0.9042,1)" font-size="51.42857142857143" text-anchor="end" fill="#262626">0.5</text>
<text transform="translate(226.00,736.25) scale(0.9042,1)" font-size="51.42857142857143" text-anchor="end" fill="#262626">0.4</text>
<text transform="translate(226.00,863.60) scale(0.9042,1)" font-size="51.42857142857143" text-anchor="end" fill="#262626">0.3</text>
<text transform="translate(225.00,991.45) scale(0.9042,1)" font-size="51.42857142857143" text-anchor="end" fill="#262626">0.2</text>
<text transform="translate(225.80,1118.70) scale(0.9042,1)" font-size="51.42857142857143" text-anchor="end" fill="#262626">0.1</text>
<text transform="translate(225.60,1247.35) scale(0.9042,1)" font-size="51.42857142857143" text-anchor="end" fill="#262626">0</text>
<text transform="translate(226.00,1375.00) scale(0.9042,1)" font-size="51.42857142857143" text-anchor="end" fill="#262626">− 0.1</text>
<text transform="translate(246.80,1429.00) scale(0.8896,1)" font-size="52.857142857142854" text-anchor="middle" fill="#262626">0</text>
<text transform="translate(507.93,1429.00) scale(0.8896,1)" font-size="52.857142857142854" text-anchor="middle" fill="#262626">100</text>
<text transform="translate(768.27,1429.00) scale(0.8896,1)" font-size="52.857142857142854" text-anchor="middle" fill="#262626">200</text>
<text transform="translate(1029.40,1429.00) scale(0.8896,1)" font-size="52.857142857142854" text-anchor="middle" fill="#262626">300</text>
<text transform="translate(1289.63,1429.00) scale(0.8896,1)" font-size="52.857142857142854" text-anchor="middle" fill="#262626">400</text>
<text transform="translate(1550.77,1429.00) scale(0.8896,1)" font-size="52.857142857142854" text-anchor="middle" fill="#262626">500</text>
<text transform="translate(1812.20,1429.00) scale(0.8896,1)" font-size="52.857142857142854" text-anchor="middle" fill="#262626">600</text>
<text transform="translate(1030.80,1508.00) scale(0.9514,1)" font-size="58.0" text-anchor="middle" fill="#262626">Time (s)</text>
<text transform="translate(96.60,753.20) scale(0.9081,1) rotate(-90)" font-size="58.04564271372081" text-anchor="middle" fill="#262626">Pitch Angle Error</text>
<text transform="translate(96.70,510.80) scale(0.9081,1) rotate(-90)" font-size="58.04564271372081" text-anchor="middle" fill="#262626">(</text>
<text transform="translate(78.60,484.10) scale(0.9421,1) rotate(-90)" font-size="38.50826720944443" text-anchor="middle" fill="#262626">○</text>
<text transform="translate(96.70,462.90) scale(0.9081,1) rotate(-90)" font-size="58.04564271372081" text-anchor="middle" fill="#262626">)</text>
<text transform="translate(1125.40,156.30) scale(0.9529,1)" font-size="45.4" text-anchor="start" fill="#000">Federated Kalman Filter</text>
<text transform="translate(1126.60,220.20) scale(0.9550,1)" font-size="45.4" text-anchor="start" fill="#000">Adaptive Federated Kalman Filter</text>
<text transform="translate(1126.00,285.50) scale(0.9517,1)" font-size="45.4" text-anchor="start" fill="#000">Adaptive Federated IMM Filter</text>
</svg>
</body></html>
